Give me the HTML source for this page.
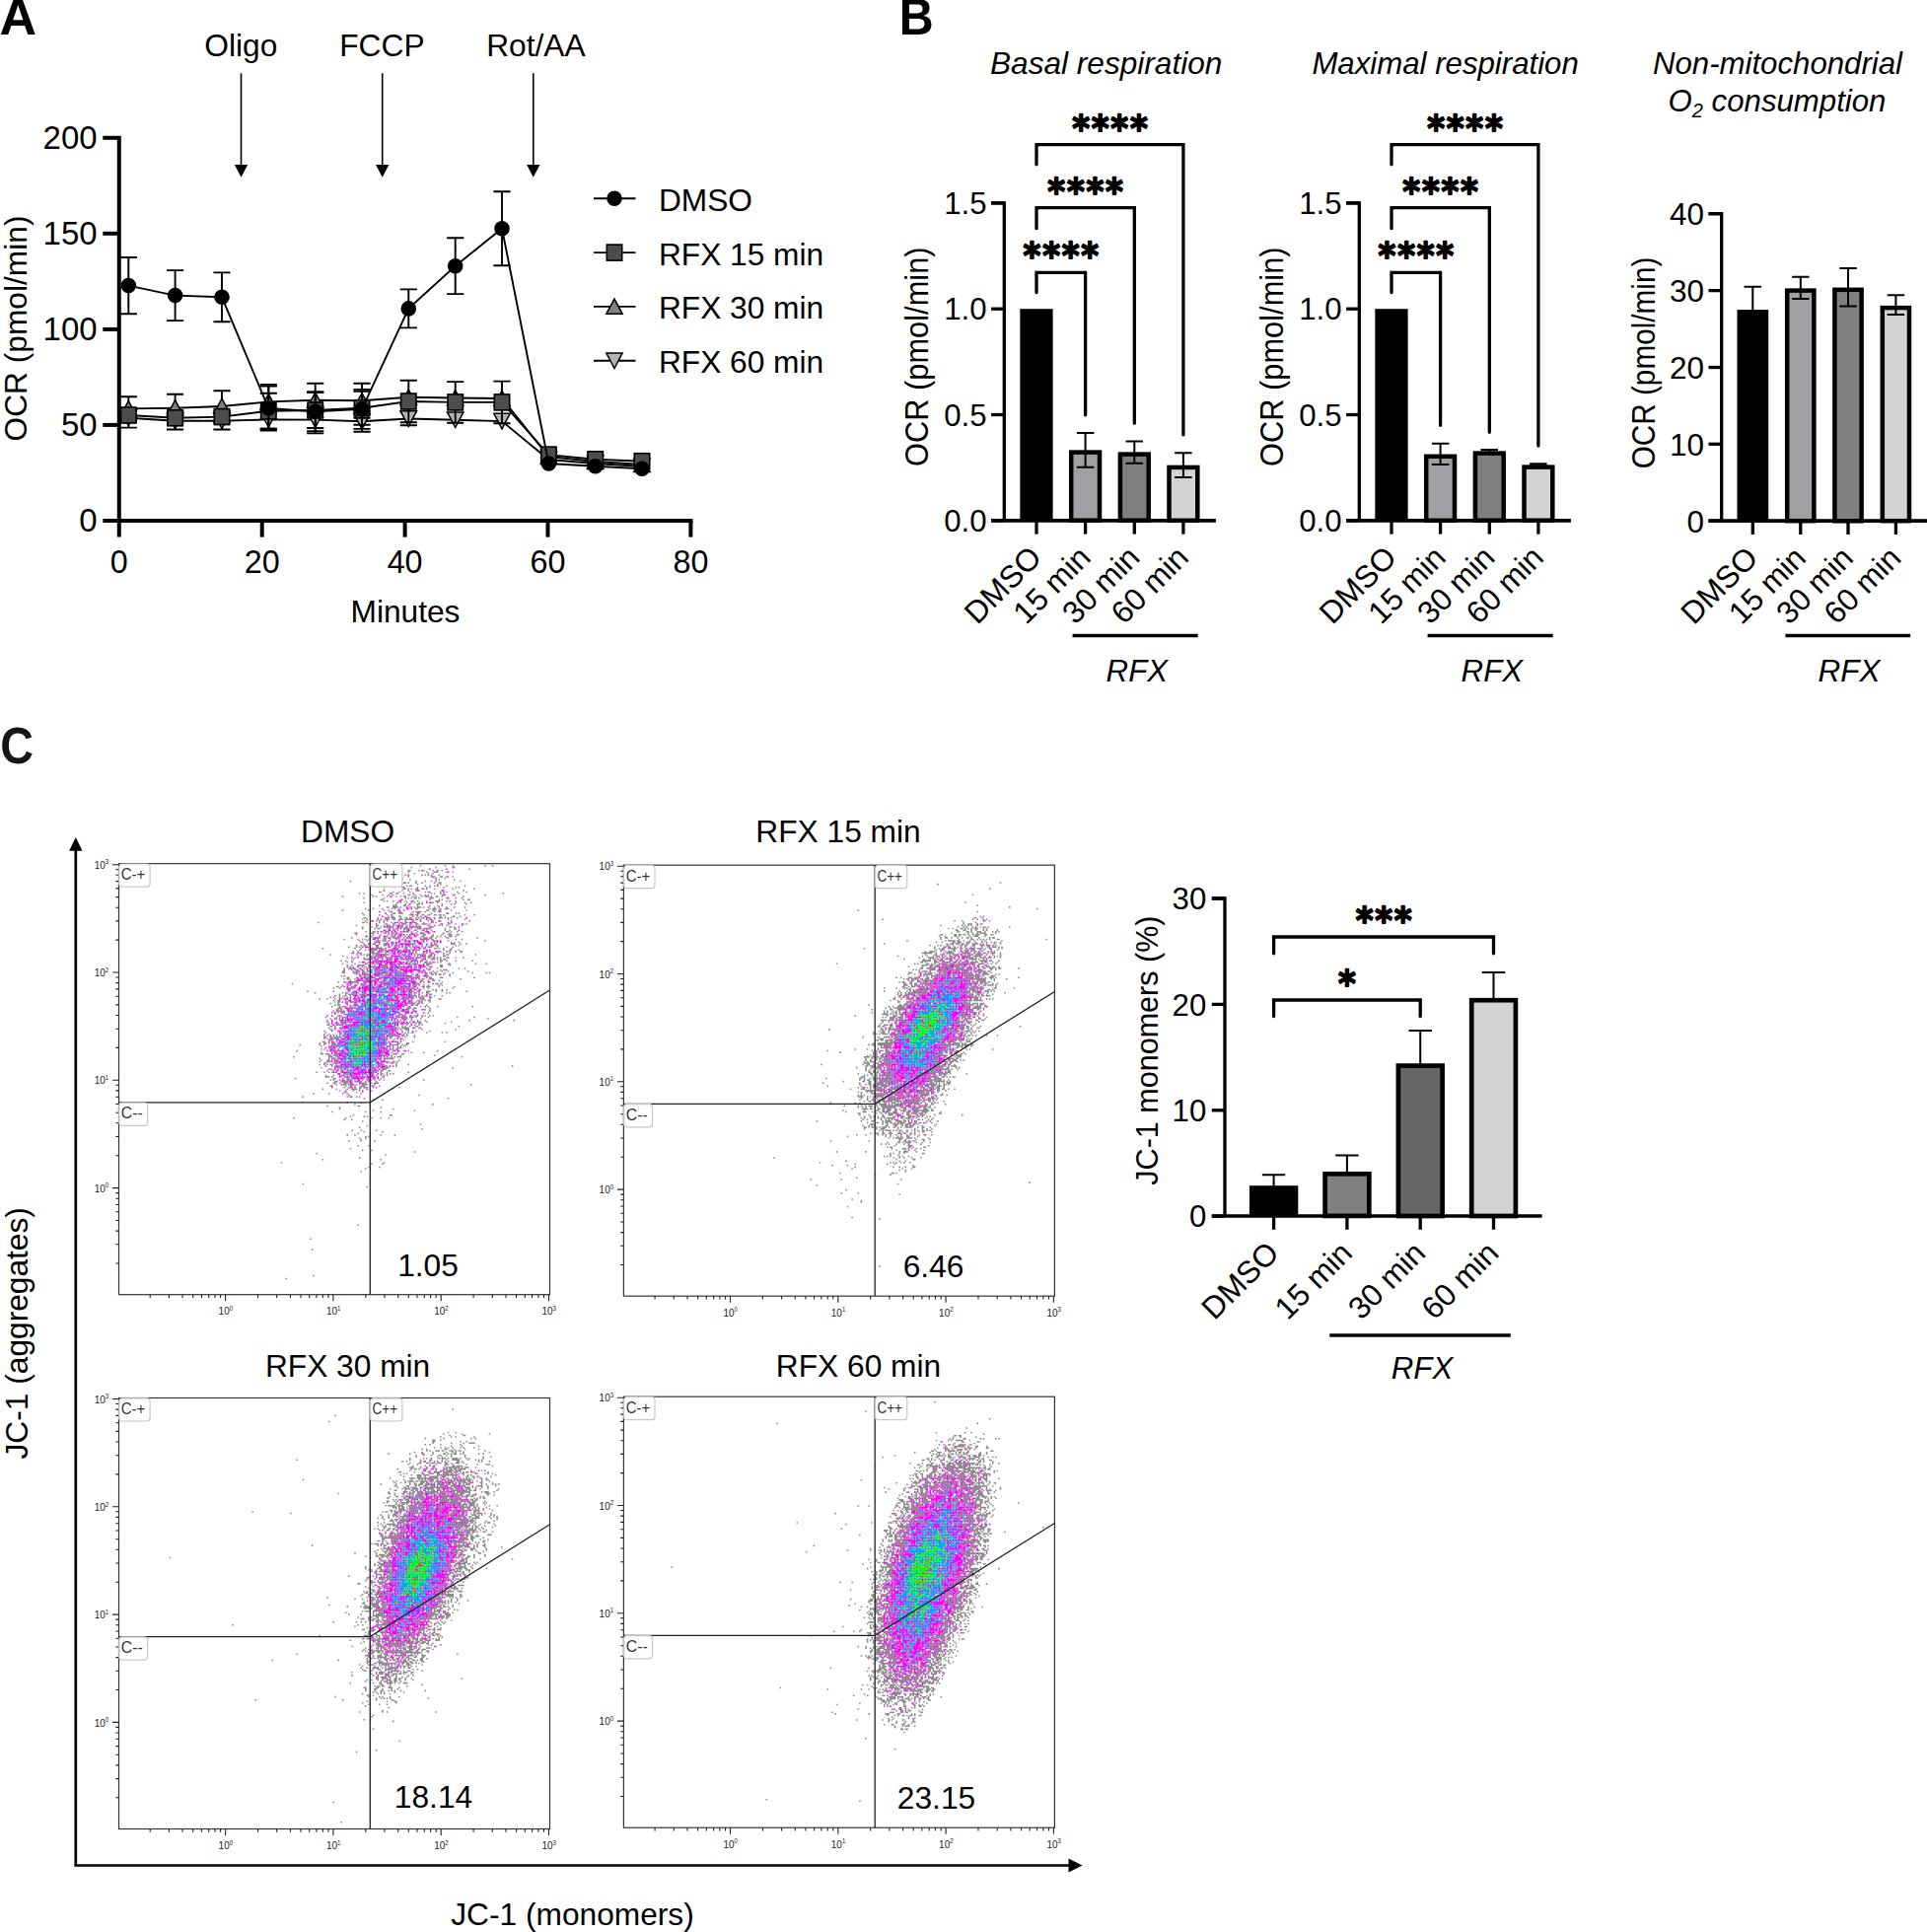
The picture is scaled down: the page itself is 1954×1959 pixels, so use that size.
<!DOCTYPE html>
<html><head><meta charset="utf-8"><title>Figure</title>
<style>
html,body{margin:0;padding:0;background:#fff}
svg{display:block}
text{font-family:"Liberation Sans",sans-serif}
</style></head>
<body>
<svg width="1954" height="1959" viewBox="0 0 1954 1959">
<rect width="1954" height="1959" fill="#fff"/>
<text transform="translate(-0.6,35.0) scale(1.0,1)" font-size="52" font-weight="bold">A</text>
<text transform="translate(911.8,35.0) scale(0.93,1)" font-size="52" font-weight="bold">B</text>
<text transform="translate(0.2,774.3) scale(0.9,1)" font-size="52" font-weight="bold" fill="#161616">C</text>
<text x="244.3" y="57.2" font-size="31.7" text-anchor="middle">Oligo</text>
<line x1="244.5" y1="74.3" x2="244.5" y2="168.0" stroke="#000" stroke-width="1.6"/>
<polygon points="237.8,167 251.2,167 244.5,179.8" fill="#000"/>
<text x="387.4" y="57.2" font-size="31.7" text-anchor="middle">FCCP</text>
<line x1="387.7" y1="74.3" x2="387.7" y2="168.0" stroke="#000" stroke-width="1.6"/>
<polygon points="381.0,167 394.4,167 387.7,179.8" fill="#000"/>
<text x="543.4" y="57.2" font-size="31.7" text-anchor="middle">Rot/AA</text>
<line x1="540.8" y1="74.3" x2="540.8" y2="168.0" stroke="#000" stroke-width="1.6"/>
<polygon points="534.1,167 547.5,167 540.8,179.8" fill="#000"/>
<path d="M121.7 414.0H138.9M130.3 414.0V433.6M121.7 433.6H138.9" stroke="#000" stroke-width="1.9" fill="none"/>
<path d="M169.0 418.1H186.2M177.6 418.1V435.5M169.0 435.5H186.2" stroke="#000" stroke-width="1.9" fill="none"/>
<path d="M216.4 418.1H233.6M225.0 418.1V435.5M216.4 435.5H233.6" stroke="#000" stroke-width="1.9" fill="none"/>
<path d="M263.7 416.1H280.9M272.3 416.1V434.7M263.7 434.7H280.9" stroke="#000" stroke-width="1.9" fill="none"/>
<path d="M311.1 411.8H328.3M319.7 411.8V439.4M311.1 439.4H328.3" stroke="#000" stroke-width="1.9" fill="none"/>
<path d="M358.4 416.8H375.6M367.0 416.8V437.8M358.4 437.8H375.6" stroke="#000" stroke-width="1.9" fill="none"/>
<path d="M405.7 417.8H422.9M414.3 417.8V431.2M405.7 431.2H422.9" stroke="#000" stroke-width="1.9" fill="none"/>
<path d="M130.3 423.8L177.6 426.8L225.0 426.8L272.3 425.4L319.7 425.6L367.0 427.3L414.3 424.5L461.7 425.7L509.0 427.1L556.4 466.0L603.7 470.0L651.0 473.0" stroke="#000" stroke-width="1.9" fill="none"/>
<polygon points="122.1,416.0 138.5,416.0 130.3,431.6" fill="#b3b3b3" stroke="#000" stroke-width="1.5"/>
<polygon points="169.4,419.0 185.8,419.0 177.6,434.6" fill="#b3b3b3" stroke="#000" stroke-width="1.5"/>
<polygon points="216.8,419.0 233.2,419.0 225.0,434.6" fill="#b3b3b3" stroke="#000" stroke-width="1.5"/>
<polygon points="264.1,417.6 280.5,417.6 272.3,433.2" fill="#b3b3b3" stroke="#000" stroke-width="1.5"/>
<polygon points="311.5,417.8 327.9,417.8 319.7,433.4" fill="#b3b3b3" stroke="#000" stroke-width="1.5"/>
<polygon points="358.8,419.5 375.2,419.5 367.0,435.1" fill="#b3b3b3" stroke="#000" stroke-width="1.5"/>
<polygon points="406.1,416.7 422.5,416.7 414.3,432.3" fill="#b3b3b3" stroke="#000" stroke-width="1.5"/>
<polygon points="453.5,417.9 469.9,417.9 461.7,433.5" fill="#b3b3b3" stroke="#000" stroke-width="1.5"/>
<polygon points="500.8,419.3 517.2,419.3 509.0,434.9" fill="#b3b3b3" stroke="#000" stroke-width="1.5"/>
<polygon points="548.2,458.2 564.6,458.2 556.4,473.8" fill="#b3b3b3" stroke="#000" stroke-width="1.5"/>
<polygon points="595.5,462.2 611.9,462.2 603.7,477.8" fill="#b3b3b3" stroke="#000" stroke-width="1.5"/>
<polygon points="642.8,465.2 659.2,465.2 651.0,480.8" fill="#b3b3b3" stroke="#000" stroke-width="1.5"/>
<path d="M121.7 402.3H138.9M130.3 402.3V426.5M121.7 426.5H138.9" stroke="#000" stroke-width="1.9" fill="none"/>
<path d="M169.0 399.7H186.2M177.6 399.7V427.7M169.0 427.7H186.2" stroke="#000" stroke-width="1.9" fill="none"/>
<path d="M216.4 396.2H233.6M225.0 396.2V427.8M216.4 427.8H233.6" stroke="#000" stroke-width="1.9" fill="none"/>
<path d="M263.7 389.9H280.9M272.3 389.9V424.9M263.7 424.9H280.9" stroke="#000" stroke-width="1.9" fill="none"/>
<path d="M311.1 388.7H328.3M319.7 388.7V422.9M311.1 422.9H328.3" stroke="#000" stroke-width="1.9" fill="none"/>
<path d="M358.4 388.7H375.6M367.0 388.7V423.9M358.4 423.9H375.6" stroke="#000" stroke-width="1.9" fill="none"/>
<path d="M130.3 414.4L177.6 413.7L225.0 412.0L272.3 407.4L319.7 405.8L367.0 406.3L414.3 402.8L461.7 403.5L509.0 404.0L556.4 463.0L603.7 468.0L651.0 471.0" stroke="#000" stroke-width="1.9" fill="none"/>
<polygon points="122.1,421.8 138.5,421.8 130.3,406.6" fill="#808080" stroke="#000" stroke-width="1.5"/>
<polygon points="169.4,421.1 185.8,421.1 177.6,405.9" fill="#808080" stroke="#000" stroke-width="1.5"/>
<polygon points="216.8,419.4 233.2,419.4 225.0,404.2" fill="#808080" stroke="#000" stroke-width="1.5"/>
<polygon points="264.1,414.8 280.5,414.8 272.3,399.6" fill="#808080" stroke="#000" stroke-width="1.5"/>
<polygon points="311.5,413.2 327.9,413.2 319.7,398.0" fill="#808080" stroke="#000" stroke-width="1.5"/>
<polygon points="358.8,413.7 375.2,413.7 367.0,398.5" fill="#808080" stroke="#000" stroke-width="1.5"/>
<polygon points="406.1,410.2 422.5,410.2 414.3,395.0" fill="#808080" stroke="#000" stroke-width="1.5"/>
<polygon points="453.5,410.9 469.9,410.9 461.7,395.7" fill="#808080" stroke="#000" stroke-width="1.5"/>
<polygon points="500.8,411.4 517.2,411.4 509.0,396.2" fill="#808080" stroke="#000" stroke-width="1.5"/>
<polygon points="548.2,470.4 564.6,470.4 556.4,455.2" fill="#808080" stroke="#000" stroke-width="1.5"/>
<polygon points="595.5,475.4 611.9,475.4 603.7,460.2" fill="#808080" stroke="#000" stroke-width="1.5"/>
<polygon points="642.8,478.4 659.2,478.4 651.0,463.2" fill="#808080" stroke="#000" stroke-width="1.5"/>
<path d="M121.7 415.0H138.9M130.3 415.0V427.0M121.7 427.0H138.9" stroke="#000" stroke-width="1.9" fill="none"/>
<path d="M169.0 417.8H186.2M177.6 417.8V429.8M169.0 429.8H186.2" stroke="#000" stroke-width="1.9" fill="none"/>
<path d="M216.4 416.6H233.6M225.0 416.6V428.6M216.4 428.6H233.6" stroke="#000" stroke-width="1.9" fill="none"/>
<path d="M263.7 398.8H280.9M272.3 398.8V434.8M263.7 434.8H280.9" stroke="#000" stroke-width="1.9" fill="none"/>
<path d="M311.1 398.0H328.3M319.7 398.0V434.0M311.1 434.0H328.3" stroke="#000" stroke-width="1.9" fill="none"/>
<path d="M358.4 396.7H375.6M367.0 396.7V430.7M358.4 430.7H375.6" stroke="#000" stroke-width="1.9" fill="none"/>
<path d="M405.7 385.7H422.9M414.3 385.7V428.3M405.7 428.3H422.9" stroke="#000" stroke-width="1.9" fill="none"/>
<path d="M453.1 387.1H470.3M461.7 387.1V428.7M453.1 428.7H470.3" stroke="#000" stroke-width="1.9" fill="none"/>
<path d="M500.4 386.6H517.6M509.0 386.6V429.2M500.4 429.2H517.6" stroke="#000" stroke-width="1.9" fill="none"/>
<path d="M130.3 421.0L177.6 423.8L225.0 422.6L272.3 416.8L319.7 416.0L367.0 413.7L414.3 407.0L461.7 407.9L509.0 407.9L556.4 461.1L603.7 465.8L651.0 467.7" stroke="#000" stroke-width="1.9" fill="none"/>
<rect x="122.6" y="413.0" width="15.4" height="16.0" fill="#4d4d4d" stroke="#000" stroke-width="1.6"/>
<rect x="169.9" y="415.8" width="15.4" height="16.0" fill="#4d4d4d" stroke="#000" stroke-width="1.6"/>
<rect x="217.3" y="414.6" width="15.4" height="16.0" fill="#4d4d4d" stroke="#000" stroke-width="1.6"/>
<rect x="264.6" y="408.8" width="15.4" height="16.0" fill="#4d4d4d" stroke="#000" stroke-width="1.6"/>
<rect x="312.0" y="408.0" width="15.4" height="16.0" fill="#4d4d4d" stroke="#000" stroke-width="1.6"/>
<rect x="359.3" y="405.7" width="15.4" height="16.0" fill="#4d4d4d" stroke="#000" stroke-width="1.6"/>
<rect x="406.6" y="399.0" width="15.4" height="16.0" fill="#4d4d4d" stroke="#000" stroke-width="1.6"/>
<rect x="454.0" y="399.9" width="15.4" height="16.0" fill="#4d4d4d" stroke="#000" stroke-width="1.6"/>
<rect x="501.3" y="399.9" width="15.4" height="16.0" fill="#4d4d4d" stroke="#000" stroke-width="1.6"/>
<rect x="548.7" y="453.1" width="15.4" height="16.0" fill="#4d4d4d" stroke="#000" stroke-width="1.6"/>
<rect x="596.0" y="457.8" width="15.4" height="16.0" fill="#4d4d4d" stroke="#000" stroke-width="1.6"/>
<rect x="643.3" y="459.7" width="15.4" height="16.0" fill="#4d4d4d" stroke="#000" stroke-width="1.6"/>
<path d="M121.7 261.0H138.9M130.3 261.0V318.2M121.7 318.2H138.9" stroke="#000" stroke-width="1.9" fill="none"/>
<path d="M169.0 274.1H186.2M177.6 274.1V325.1M169.0 325.1H186.2" stroke="#000" stroke-width="1.9" fill="none"/>
<path d="M216.4 276.4H233.6M225.0 276.4V326.2M216.4 326.2H233.6" stroke="#000" stroke-width="1.9" fill="none"/>
<path d="M263.7 391.5H280.9M272.3 391.5V436.5M263.7 436.5H280.9" stroke="#000" stroke-width="1.9" fill="none"/>
<path d="M311.1 397.2H328.3M319.7 397.2V437.2M311.1 437.2H328.3" stroke="#000" stroke-width="1.9" fill="none"/>
<path d="M358.4 394.9H375.6M367.0 394.9V434.9M358.4 434.9H375.6" stroke="#000" stroke-width="1.9" fill="none"/>
<path d="M405.7 293.4H422.9M414.3 293.4V332.4M405.7 332.4H422.9" stroke="#000" stroke-width="1.9" fill="none"/>
<path d="M453.1 241.3H470.3M461.7 241.3V298.1M453.1 298.1H470.3" stroke="#000" stroke-width="1.9" fill="none"/>
<path d="M500.4 194.2H517.6M509.0 194.2V269.2M500.4 269.2H517.6" stroke="#000" stroke-width="1.9" fill="none"/>
<path d="M130.3 289.6L177.6 299.6L225.0 301.3L272.3 414.0L319.7 417.2L367.0 414.9L414.3 312.9L461.7 269.7L509.0 231.7L556.4 470.0L603.7 472.8L651.0 475.2" stroke="#000" stroke-width="1.9" fill="none"/>
<circle cx="130.3" cy="289.6" r="7.8" fill="#000"/>
<circle cx="177.6" cy="299.6" r="7.8" fill="#000"/>
<circle cx="225.0" cy="301.3" r="7.8" fill="#000"/>
<circle cx="272.3" cy="414.0" r="7.8" fill="#000"/>
<circle cx="319.7" cy="417.2" r="7.8" fill="#000"/>
<circle cx="367.0" cy="414.9" r="7.8" fill="#000"/>
<circle cx="414.3" cy="312.9" r="7.8" fill="#000"/>
<circle cx="461.7" cy="269.7" r="7.8" fill="#000"/>
<circle cx="509.0" cy="231.7" r="7.8" fill="#000"/>
<circle cx="556.4" cy="470.0" r="7.8" fill="#000"/>
<circle cx="603.7" cy="472.8" r="7.8" fill="#000"/>
<circle cx="651.0" cy="475.2" r="7.8" fill="#000"/>
<path d="M104.3 139.8H120.8V544.6" stroke="#000" stroke-width="4" fill="none" stroke-linejoin="miter"/>
<path d="M104.3 528.0H702.4" stroke="#000" stroke-width="4" fill="none"/>
<line x1="104.3" y1="430.9" x2="120.8" y2="430.9" stroke="#000" stroke-width="4"/>
<line x1="104.3" y1="333.9" x2="120.8" y2="333.9" stroke="#000" stroke-width="4"/>
<line x1="104.3" y1="236.8" x2="120.8" y2="236.8" stroke="#000" stroke-width="4"/>
<line x1="265.7" y1="528.0" x2="265.7" y2="544.6" stroke="#000" stroke-width="4"/>
<line x1="410.6" y1="528.0" x2="410.6" y2="544.6" stroke="#000" stroke-width="4"/>
<line x1="555.5" y1="528.0" x2="555.5" y2="544.6" stroke="#000" stroke-width="4"/>
<line x1="700.4" y1="528.0" x2="700.4" y2="544.6" stroke="#000" stroke-width="4"/>
<text x="98.6" y="538.8" font-size="33" text-anchor="end">0</text>
<text x="98.6" y="441.8" font-size="33" text-anchor="end">50</text>
<text x="98.6" y="344.7" font-size="33" text-anchor="end">100</text>
<text x="98.6" y="247.6" font-size="33" text-anchor="end">150</text>
<text x="98.6" y="150.6" font-size="33" text-anchor="end">200</text>
<text x="120.8" y="580.6" font-size="32.3" text-anchor="middle">0</text>
<text x="265.7" y="580.6" font-size="32.3" text-anchor="middle">20</text>
<text x="410.6" y="580.6" font-size="32.3" text-anchor="middle">40</text>
<text x="555.5" y="580.6" font-size="32.3" text-anchor="middle">60</text>
<text x="700.4" y="580.6" font-size="32.3" text-anchor="middle">80</text>
<text x="411.0" y="630.5" font-size="31.7" text-anchor="middle">Minutes</text>
<text transform="translate(27.0,333.0) rotate(-90)" font-size="31.7" text-anchor="middle">OCR (pmol/min)</text>
<line x1="602.0" y1="201.3" x2="644.5" y2="201.3" stroke="#000" stroke-width="1.9"/>
<circle cx="623.0" cy="201.3" r="7.8" fill="#000"/>
<text x="667.9" y="213.7" font-size="31.7">DMSO</text>
<line x1="602.0" y1="256.1" x2="644.5" y2="256.1" stroke="#000" stroke-width="1.9"/>
<rect x="615.3" y="248.1" width="15.4" height="16.0" fill="#4d4d4d" stroke="#000" stroke-width="1.6"/>
<text x="667.9" y="268.5" font-size="31.7">RFX 15 min</text>
<line x1="602.0" y1="310.9" x2="644.5" y2="310.9" stroke="#000" stroke-width="1.9"/>
<polygon points="614.8,318.3 631.2,318.3 623.0,303.1" fill="#808080" stroke="#000" stroke-width="1.5"/>
<text x="667.9" y="323.3" font-size="31.7">RFX 30 min</text>
<line x1="602.0" y1="365.7" x2="644.5" y2="365.7" stroke="#000" stroke-width="1.9"/>
<polygon points="614.8,357.9 631.2,357.9 623.0,373.5" fill="#b3b3b3" stroke="#000" stroke-width="1.5"/>
<text x="667.9" y="378.1" font-size="31.7">RFX 60 min</text>
<rect x="1034.3" y="313.2" width="33.3" height="214.6" fill="#000"/>
<rect x="1086.2" y="458.6" width="28.8" height="69.1" fill="#a0a0a4" stroke="#000" stroke-width="4.5"/>
<rect x="1135.9" y="460.6" width="28.8" height="67.1" fill="#808080" stroke="#000" stroke-width="4.5"/>
<rect x="1185.5" y="473.9" width="28.8" height="53.9" fill="#d3d3d3" stroke="#000" stroke-width="4.5"/>
<path d="M1091.9 438.9H1109.4M1100.6 438.9V473.7M1091.9 473.7H1109.4" stroke="#000" stroke-width="2.0" fill="none"/>
<path d="M1141.5 447.6H1159.0M1150.3 447.6V469.8M1141.5 469.8H1159.0" stroke="#000" stroke-width="2.0" fill="none"/>
<path d="M1191.1 459.3H1208.6M1199.9 459.3V483.9M1191.1 483.9H1208.6" stroke="#000" stroke-width="2.0" fill="none"/>
<path d="M1005.1 205.9H1018.3V527.8" stroke="#000" stroke-width="3.3" fill="none"/>
<path d="M1005.1 527.8H1232.9" stroke="#000" stroke-width="3.6999999999999997" fill="none"/>
<line x1="1005.1" y1="527.8" x2="1018.3" y2="527.8" stroke="#000" stroke-width="3.3"/>
<text x="1000.6" y="539.0" font-size="31.2" text-anchor="end">0.0</text>
<line x1="1005.1" y1="420.5" x2="1018.3" y2="420.5" stroke="#000" stroke-width="3.3"/>
<text x="1000.6" y="431.7" font-size="31.2" text-anchor="end">0.5</text>
<line x1="1005.1" y1="313.2" x2="1018.3" y2="313.2" stroke="#000" stroke-width="3.3"/>
<text x="1000.6" y="324.4" font-size="31.2" text-anchor="end">1.0</text>
<line x1="1005.1" y1="205.9" x2="1018.3" y2="205.9" stroke="#000" stroke-width="3.3"/>
<text x="1000.6" y="217.1" font-size="31.2" text-anchor="end">1.5</text>
<line x1="1051.0" y1="527.8" x2="1051.0" y2="541.6" stroke="#000" stroke-width="3.3"/>
<line x1="1100.6" y1="527.8" x2="1100.6" y2="541.6" stroke="#000" stroke-width="3.3"/>
<line x1="1150.3" y1="527.8" x2="1150.3" y2="541.6" stroke="#000" stroke-width="3.3"/>
<line x1="1199.9" y1="527.8" x2="1199.9" y2="541.6" stroke="#000" stroke-width="3.3"/>
<text transform="translate(941.0,361.7) rotate(-90) scale(0.948,1)" font-size="32.5" text-anchor="middle">OCR (pmol/min)</text>
<text transform="translate(1058.0,567.2) rotate(-45)" font-size="31.6" text-anchor="end">DMSO</text>
<text transform="translate(1107.6,567.2) rotate(-45)" font-size="31.6" text-anchor="end">15 min</text>
<text transform="translate(1157.3,567.2) rotate(-45)" font-size="31.6" text-anchor="end">30 min</text>
<text transform="translate(1206.9,567.2) rotate(-45)" font-size="31.6" text-anchor="end">60 min</text>
<line x1="1087.6" y1="644.5" x2="1214.7" y2="644.5" stroke="#000" stroke-width="3.4"/>
<text x="1152.8" y="691.0" font-size="31.2" text-anchor="middle" font-style="italic">RFX</text>
<path d="M1051.0 166.8V146.6H1199.9V440.9" stroke="#000" stroke-width="3.3" fill="none" stroke-linecap="round" stroke-linejoin="miter"/>
<path d="M1051.0 231.7V210.6H1150.3V429.2" stroke="#000" stroke-width="3.3" fill="none" stroke-linecap="round" stroke-linejoin="miter"/>
<path d="M1051.0 296.5V276.3H1100.6V420.8" stroke="#000" stroke-width="3.3" fill="none" stroke-linecap="round" stroke-linejoin="miter"/>
<text transform="translate(1126.3,142.6) scale(1,1.1)" font-size="34" text-anchor="middle" font-weight="bold" style="font-family:'DejaVu Sans',sans-serif" stroke="#000" stroke-width="1.6" stroke-linejoin="round" letter-spacing="1.8">****</text>
<text transform="translate(1101.5,207.0) scale(1,1.1)" font-size="34" text-anchor="middle" font-weight="bold" style="font-family:'DejaVu Sans',sans-serif" stroke="#000" stroke-width="1.6" stroke-linejoin="round" letter-spacing="1.8">****</text>
<text transform="translate(1076.7,272.1) scale(1,1.1)" font-size="34" text-anchor="middle" font-weight="bold" style="font-family:'DejaVu Sans',sans-serif" stroke="#000" stroke-width="1.6" stroke-linejoin="round" letter-spacing="1.8">****</text>
<rect x="1394.3" y="313.2" width="33.3" height="214.6" fill="#000"/>
<rect x="1446.2" y="462.8" width="28.8" height="65.0" fill="#a0a0a4" stroke="#000" stroke-width="4.5"/>
<rect x="1495.9" y="459.6" width="28.8" height="68.1" fill="#808080" stroke="#000" stroke-width="4.5"/>
<rect x="1545.5" y="473.6" width="28.8" height="54.1" fill="#d3d3d3" stroke="#000" stroke-width="4.5"/>
<path d="M1451.9 449.7H1469.4M1460.6 449.7V471.0M1451.9 471.0H1469.4" stroke="#000" stroke-width="2.0" fill="none"/>
<path d="M1501.5 456.0H1519.0M1510.3 456.0V458.8M1501.5 458.8H1519.0" stroke="#000" stroke-width="2.0" fill="none"/>
<path d="M1551.1 470.2H1568.6M1559.9 470.2V472.6M1551.1 472.6H1568.6" stroke="#000" stroke-width="2.0" fill="none"/>
<path d="M1365.1 205.9H1378.3V527.8" stroke="#000" stroke-width="3.3" fill="none"/>
<path d="M1365.1 527.8H1592.9" stroke="#000" stroke-width="3.6999999999999997" fill="none"/>
<line x1="1365.1" y1="527.8" x2="1378.3" y2="527.8" stroke="#000" stroke-width="3.3"/>
<text x="1360.6" y="539.0" font-size="31.2" text-anchor="end">0.0</text>
<line x1="1365.1" y1="420.5" x2="1378.3" y2="420.5" stroke="#000" stroke-width="3.3"/>
<text x="1360.6" y="431.7" font-size="31.2" text-anchor="end">0.5</text>
<line x1="1365.1" y1="313.2" x2="1378.3" y2="313.2" stroke="#000" stroke-width="3.3"/>
<text x="1360.6" y="324.4" font-size="31.2" text-anchor="end">1.0</text>
<line x1="1365.1" y1="205.9" x2="1378.3" y2="205.9" stroke="#000" stroke-width="3.3"/>
<text x="1360.6" y="217.1" font-size="31.2" text-anchor="end">1.5</text>
<line x1="1411.0" y1="527.8" x2="1411.0" y2="541.6" stroke="#000" stroke-width="3.3"/>
<line x1="1460.6" y1="527.8" x2="1460.6" y2="541.6" stroke="#000" stroke-width="3.3"/>
<line x1="1510.3" y1="527.8" x2="1510.3" y2="541.6" stroke="#000" stroke-width="3.3"/>
<line x1="1559.9" y1="527.8" x2="1559.9" y2="541.6" stroke="#000" stroke-width="3.3"/>
<text transform="translate(1301.0,361.7) rotate(-90) scale(0.948,1)" font-size="32.5" text-anchor="middle">OCR (pmol/min)</text>
<text transform="translate(1418.0,567.2) rotate(-45)" font-size="31.6" text-anchor="end">DMSO</text>
<text transform="translate(1467.6,567.2) rotate(-45)" font-size="31.6" text-anchor="end">15 min</text>
<text transform="translate(1517.3,567.2) rotate(-45)" font-size="31.6" text-anchor="end">30 min</text>
<text transform="translate(1566.9,567.2) rotate(-45)" font-size="31.6" text-anchor="end">60 min</text>
<line x1="1447.6" y1="644.5" x2="1574.7" y2="644.5" stroke="#000" stroke-width="3.4"/>
<text x="1512.8" y="691.0" font-size="31.2" text-anchor="middle" font-style="italic">RFX</text>
<path d="M1411.0 166.8V146.6H1559.9V452.0" stroke="#000" stroke-width="3.3" fill="none" stroke-linecap="round" stroke-linejoin="miter"/>
<path d="M1411.0 231.7V210.6H1510.3V438.3" stroke="#000" stroke-width="3.3" fill="none" stroke-linecap="round" stroke-linejoin="miter"/>
<path d="M1411.0 296.5V276.3H1460.6V431.3" stroke="#000" stroke-width="3.3" fill="none" stroke-linecap="round" stroke-linejoin="miter"/>
<text transform="translate(1486.3,142.6) scale(1,1.1)" font-size="34" text-anchor="middle" font-weight="bold" style="font-family:'DejaVu Sans',sans-serif" stroke="#000" stroke-width="1.6" stroke-linejoin="round" letter-spacing="1.8">****</text>
<text transform="translate(1461.5,207.0) scale(1,1.1)" font-size="34" text-anchor="middle" font-weight="bold" style="font-family:'DejaVu Sans',sans-serif" stroke="#000" stroke-width="1.6" stroke-linejoin="round" letter-spacing="1.8">****</text>
<text transform="translate(1436.7,272.1) scale(1,1.1)" font-size="34" text-anchor="middle" font-weight="bold" style="font-family:'DejaVu Sans',sans-serif" stroke="#000" stroke-width="1.6" stroke-linejoin="round" letter-spacing="1.8">****</text>
<text x="1121.7" y="75.2" font-size="31.6" text-anchor="middle" font-style="italic">Basal respiration</text>
<text x="1465.6" y="75.2" font-size="31.2" text-anchor="middle" font-style="italic">Maximal respiration</text>
<text x="1802.5" y="75.2" font-size="31.2" text-anchor="middle" font-style="italic">Non-mitochondrial</text>
<text x="1802" y="113.3" font-size="31.2" text-anchor="middle" font-style="italic">O<tspan font-size="20" dy="6">2</tspan><tspan dy="-6"> consumption</tspan></text>
<rect x="1761.5" y="314.1" width="31.7" height="214.1" fill="#000"/>
<rect x="1812.2" y="294.6" width="27.2" height="233.6" fill="#a0a0a4" stroke="#000" stroke-width="4.5"/>
<rect x="1860.4" y="293.8" width="27.2" height="234.5" fill="#808080" stroke="#000" stroke-width="4.5"/>
<rect x="1908.8" y="312.1" width="27.2" height="216.1" fill="#d3d3d3" stroke="#000" stroke-width="4.5"/>
<path d="M1768.5 290.8H1786.0M1777.3 290.8V337.0M1768.5 337.0H1786.0" stroke="#000" stroke-width="2.0" fill="none"/>
<path d="M1817.0 280.7H1834.5M1825.8 280.7V303.1M1817.0 303.1H1834.5" stroke="#000" stroke-width="2.0" fill="none"/>
<path d="M1865.2 272.1H1882.8M1874.0 272.1V310.6M1865.2 310.6H1882.8" stroke="#000" stroke-width="2.0" fill="none"/>
<path d="M1913.7 299.2H1931.2M1922.4 299.2V319.0M1913.7 319.0H1931.2" stroke="#000" stroke-width="2.0" fill="none"/>
<path d="M1732.5 216.7H1745.7V528.2" stroke="#000" stroke-width="3.3" fill="none"/>
<path d="M1732.5 528.2H1960.0" stroke="#000" stroke-width="3.6999999999999997" fill="none"/>
<line x1="1732.5" y1="528.2" x2="1745.7" y2="528.2" stroke="#000" stroke-width="3.3"/>
<text x="1728.0" y="539.5" font-size="31.5" text-anchor="end">0</text>
<line x1="1732.5" y1="450.3" x2="1745.7" y2="450.3" stroke="#000" stroke-width="3.3"/>
<text x="1728.0" y="461.6" font-size="31.5" text-anchor="end">10</text>
<line x1="1732.5" y1="372.5" x2="1745.7" y2="372.5" stroke="#000" stroke-width="3.3"/>
<text x="1728.0" y="383.8" font-size="31.5" text-anchor="end">20</text>
<line x1="1732.5" y1="294.6" x2="1745.7" y2="294.6" stroke="#000" stroke-width="3.3"/>
<text x="1728.0" y="305.9" font-size="31.5" text-anchor="end">30</text>
<line x1="1732.5" y1="216.7" x2="1745.7" y2="216.7" stroke="#000" stroke-width="3.3"/>
<text x="1728.0" y="228.0" font-size="31.5" text-anchor="end">40</text>
<line x1="1777.3" y1="528.2" x2="1777.3" y2="542.0" stroke="#000" stroke-width="3.3"/>
<line x1="1825.8" y1="528.2" x2="1825.8" y2="542.0" stroke="#000" stroke-width="3.3"/>
<line x1="1874.0" y1="528.2" x2="1874.0" y2="542.0" stroke="#000" stroke-width="3.3"/>
<line x1="1922.4" y1="528.2" x2="1922.4" y2="542.0" stroke="#000" stroke-width="3.3"/>
<text transform="translate(1678.2,368.0) rotate(-90) scale(0.915,1)" font-size="32.5" text-anchor="middle">OCR (pmol/min)</text>
<text transform="translate(1784.3,567.6) rotate(-45)" font-size="31.5" text-anchor="end">DMSO</text>
<text transform="translate(1832.8,567.6) rotate(-45)" font-size="31.5" text-anchor="end">15 min</text>
<text transform="translate(1881.0,567.6) rotate(-45)" font-size="31.5" text-anchor="end">30 min</text>
<text transform="translate(1929.4,567.6) rotate(-45)" font-size="31.5" text-anchor="end">60 min</text>
<line x1="1810.4" y1="644.5" x2="1937.2" y2="644.5" stroke="#000" stroke-width="3.4"/>
<text x="1875.0" y="691.0" font-size="31.5" text-anchor="middle" font-style="italic">RFX</text>
<rect x="1266.9" y="1202.2" width="49.4" height="30.8" fill="#000"/>
<rect x="1343.6" y="1190.3" width="44.7" height="42.6" fill="#808080" stroke="#000" stroke-width="4.7"/>
<rect x="1417.9" y="1080.6" width="44.7" height="152.4" fill="#666666" stroke="#000" stroke-width="4.7"/>
<rect x="1492.2" y="1014.2" width="44.7" height="218.8" fill="#d3d3d3" stroke="#000" stroke-width="4.7"/>
<path d="M1279.9 1191.3H1303.2M1291.6 1191.3V1204.2" stroke="#000" stroke-width="2.0" fill="none"/>
<path d="M1354.2 1171.5H1377.6M1365.9 1171.5V1190.0" stroke="#000" stroke-width="2.0" fill="none"/>
<path d="M1428.5 1045.0H1451.9M1440.2 1045.0V1080.3" stroke="#000" stroke-width="2.0" fill="none"/>
<path d="M1502.8 986.0H1526.2M1514.5 986.0V1013.9" stroke="#000" stroke-width="2.0" fill="none"/>
<path d="M1228.8 911.0H1242.0V1233.0" stroke="#000" stroke-width="3.3" fill="none"/>
<path d="M1228.8 1233.0H1563.6" stroke="#000" stroke-width="3.6999999999999997" fill="none"/>
<line x1="1228.8" y1="1233.2" x2="1242.0" y2="1233.2" stroke="#000" stroke-width="3.3"/>
<text x="1223.3" y="1244.4" font-size="31.2" text-anchor="end">0</text>
<line x1="1228.8" y1="1125.8" x2="1242.0" y2="1125.8" stroke="#000" stroke-width="3.3"/>
<text x="1223.3" y="1137.0" font-size="31.2" text-anchor="end">10</text>
<line x1="1228.8" y1="1018.4" x2="1242.0" y2="1018.4" stroke="#000" stroke-width="3.3"/>
<text x="1223.3" y="1029.6" font-size="31.2" text-anchor="end">20</text>
<line x1="1228.8" y1="911.0" x2="1242.0" y2="911.0" stroke="#000" stroke-width="3.3"/>
<text x="1223.3" y="922.2" font-size="31.2" text-anchor="end">30</text>
<line x1="1291.6" y1="1233.0" x2="1291.6" y2="1246.8" stroke="#000" stroke-width="3.3"/>
<line x1="1365.9" y1="1233.0" x2="1365.9" y2="1246.8" stroke="#000" stroke-width="3.3"/>
<line x1="1440.2" y1="1233.0" x2="1440.2" y2="1246.8" stroke="#000" stroke-width="3.3"/>
<line x1="1514.5" y1="1233.0" x2="1514.5" y2="1246.8" stroke="#000" stroke-width="3.3"/>
<text transform="translate(1174.0,1065.1) rotate(-90) scale(0.955,1)" font-size="32" text-anchor="middle">JC-1 monomers (%)</text>
<text transform="translate(1298.6,1272.4) rotate(-45)" font-size="31.6" text-anchor="end">DMSO</text>
<text transform="translate(1372.9,1272.4) rotate(-45)" font-size="31.6" text-anchor="end">15 min</text>
<text transform="translate(1447.2,1272.4) rotate(-45)" font-size="31.6" text-anchor="end">30 min</text>
<text transform="translate(1521.5,1272.4) rotate(-45)" font-size="31.6" text-anchor="end">60 min</text>
<line x1="1348.3" y1="1354.0" x2="1531.8" y2="1354.0" stroke="#000" stroke-width="3.4"/>
<text x="1442.0" y="1397.5" font-size="31.2" text-anchor="middle" font-style="italic">RFX</text>
<path d="M1291.6 966.8V950.0H1514.5V966.8" stroke="#000" stroke-width="3.3" fill="none" stroke-linecap="round" stroke-linejoin="miter"/>
<path d="M1291.6 1030.5V1014.0H1440.2V1030.5" stroke="#000" stroke-width="3.3" fill="none" stroke-linecap="round" stroke-linejoin="miter"/>
<text transform="translate(1404.0,946.3) scale(1,1.1)" font-size="34" text-anchor="middle" font-weight="bold" style="font-family:'DejaVu Sans',sans-serif" stroke="#000" stroke-width="1.6" stroke-linejoin="round" letter-spacing="1.8">***</text>
<text transform="translate(1366.8,1010.1) scale(1,1.1)" font-size="34" text-anchor="middle" font-weight="bold" style="font-family:'DejaVu Sans',sans-serif" stroke="#000" stroke-width="1.6" stroke-linejoin="round" letter-spacing="1.8">*</text>
<line x1="76.8" y1="1891.5" x2="76.8" y2="860.0" stroke="#000" stroke-width="2.7"/>
<polygon points="70.1,862.8 83.5,862.8 76.8,849" fill="#000"/>
<line x1="75.5" y1="1891.5" x2="1085.0" y2="1891.5" stroke="#000" stroke-width="2.7"/>
<polygon points="1083.5,1884.6 1083.5,1898.4 1097.6,1891.5" fill="#000"/>
<text transform="translate(28.4,1351.8) rotate(-90)" font-size="31.7" text-anchor="middle">JC-1 (aggregates)</text>
<text x="580.5" y="1952.0" font-size="31.7" text-anchor="middle">JC-1 (monomers)</text>
<g transform="translate(120.5,876.5) scale(1.55)" stroke-width="1" fill="none">
<path d="M197 1h1M213 1h1M218 1h1M239 1h1M244 1h1M191 2h1M207 2h1M218 2h2M229 3h1M182 4h1M189 4h2M196 4h1M199 4h1M205 4h1M211 4h1M189 5h1M201 5h1M206 5h3M214 5h1M218 5h1M184 6h1M193 6h1M202 6h1M205 6h1M187 7h1M198 7h1M200 7h1M202 7h1M204 7h1M209 7h1M171 8h1M184 8h1M189 8h1M204 8h1M206 8h1M210 8h2M214 8h2M218 8h1M176 9h1M185 9h1M213 9h1M177 10h1M179 10h1M190 10h1M207 10h1M209 10h1M219 10h1M151 11h1M181 11h1M194 11h1M200 11h1M204 11h1M207 11h1M223 11h1M186 12h2M189 12h1M194 12h1M198 12h1M206 12h1M209 12h2M195 13h1M208 13h1M210 13h1M169 14h2M175 14h1M188 14h1M190 14h2M200 14h1M203 14h1M206 14h1M214 14h1M226 14h1M173 15h1M180 15h1M185 15h1M195 15h1M201 15h1M203 15h1M212 15h1M220 15h1M222 15h1M186 16h2M189 16h1M191 16h1M194 16h2M198 16h2M201 16h1M206 16h1M218 16h1M232 16h1M185 17h1M189 17h1M194 17h1M196 17h1M212 17h1M225 17h1M170 18h2M179 18h1M183 18h1M190 18h1M200 18h1M203 18h1M210 18h1M214 18h1M221 18h1M227 18h1M157 19h1M160 19h1M177 19h1M181 19h2M186 19h1M204 19h1M206 19h1M210 19h1M212 19h1M222 19h1M251 19h1M165 20h1M172 20h1M176 20h1M179 20h1M189 20h2M193 20h1M197 20h1M200 20h1M202 20h1M211 20h3M218 20h1M239 20h1M146 21h1M166 21h1M168 21h1M175 21h1M177 21h1M181 21h1M184 21h1M186 21h1M192 21h1M194 21h1M198 21h1M200 21h1M202 21h1M204 21h1M207 21h2M211 21h1M225 21h1M160 22h1M173 22h1M187 22h1M189 22h1M191 22h1M193 22h2M196 22h1M203 22h3M214 22h1M220 22h1M224 22h1M171 23h2M184 23h2M203 23h1M209 23h1M211 23h1M225 23h1M228 23h2M164 24h1M173 24h1M175 24h1M179 24h1M187 24h1M191 24h1M195 24h1M201 24h1M207 24h2M214 24h1M220 24h1M160 25h1M184 25h1M188 25h1M191 25h1M193 25h1M196 25h1M198 25h1M205 25h1M208 25h1M220 25h1M226 25h1M230 25h1M181 26h1M187 26h1M195 26h2M198 26h1M211 26h1M217 26h1M219 26h1M227 26h1M170 27h1M179 27h3M186 27h2M189 27h1M195 27h1M203 27h1M208 27h1M211 27h1M175 28h2M179 28h4M184 28h1M190 28h2M193 28h1M195 28h3M199 28h1M206 28h1M214 28h1M226 28h1M161 29h1M166 29h1M172 29h1M178 29h1M180 29h1M183 29h1M194 29h2M203 29h1M205 29h3M210 29h1M213 29h3M146 30h1M173 30h1M176 30h1M182 30h1M201 30h2M205 30h2M209 30h2M217 30h1M227 30h1M177 31h1M184 31h1M192 31h1M194 31h4M200 31h1M206 31h1M210 31h1M159 32h1M179 32h2M183 32h3M191 32h1M196 32h1M204 32h1M214 32h2M220 32h1M222 32h1M160 33h1M170 33h1M175 33h1M190 33h2M194 33h2M198 33h2M202 33h2M207 33h1M209 33h2M212 33h1M226 33h1M232 33h1M176 34h1M178 34h2M183 34h2M192 34h1M195 34h1M197 34h1M201 34h1M210 34h1M213 34h1M218 34h2M223 34h1M160 35h2M169 35h1M175 35h2M178 35h3M184 35h1M188 35h1M190 35h2M194 35h1M196 35h1M198 35h2M202 35h2M209 35h3M213 35h1M215 35h1M217 35h1M221 35h1M159 36h1M162 36h1M174 36h1M176 36h1M179 36h2M183 36h3M187 36h4M192 36h1M194 36h1M197 36h1M203 36h1M206 36h1M215 36h1M226 36h1M161 37h1M166 37h1M168 37h1M170 37h1M173 37h1M175 37h1M183 37h1M187 37h1M202 37h1M204 37h2M210 37h1M217 37h1M229 37h1M130 38h1M159 38h2M162 38h1M170 38h1M173 38h1M178 38h1M181 38h1M185 38h1M187 38h1M192 38h1M194 38h1M199 38h1M204 38h2M207 38h1M174 39h2M179 39h2M187 39h1M190 39h2M194 39h2M198 39h4M203 39h1M210 39h1M215 39h2M220 39h1M224 39h2M227 39h1M155 40h1M168 40h2M173 40h1M176 40h2M181 40h1M183 40h3M188 40h1M190 40h1M192 40h1M194 40h1M196 40h1M209 40h1M211 40h1M214 40h1M224 40h1M159 41h1M165 41h1M168 41h1M171 41h1M173 41h2M176 41h4M184 41h2M187 41h2M192 41h2M196 41h1M205 41h1M216 41h2M219 41h1M159 42h1M167 42h1M169 42h2M176 42h2M179 42h1M181 42h1M186 42h3M191 42h1M195 42h3M199 42h5M213 42h1M219 42h2M164 43h1M174 43h1M179 43h1M182 43h1M186 43h1M188 43h1M190 43h1M193 43h1M198 43h1M201 43h1M204 43h1M213 43h1M216 43h1M161 44h1M166 44h2M172 44h1M175 44h2M181 44h1M184 44h2M187 44h3M191 44h1M195 44h1M200 44h1M205 44h1M214 44h2M217 44h1M221 44h1M224 44h1M154 45h1M164 45h3M169 45h1M173 45h2M178 45h1M182 45h1M194 45h1M199 45h1M203 45h1M216 45h1M155 46h1M166 46h1M171 46h1M176 46h1M178 46h1M180 46h2M185 46h1M188 46h1M191 46h2M199 46h2M205 46h1M211 46h1M215 46h3M221 46h2M161 47h2M165 47h1M174 47h2M178 47h3M182 47h2M187 47h1M189 47h2M198 47h2M204 47h2M208 47h1M210 47h1M213 47h1M216 47h1M220 47h1M152 48h1M166 48h1M170 48h1M173 48h2M179 48h2M182 48h1M186 48h1M189 48h1M197 48h1M199 48h2M204 48h1M207 48h1M214 48h2M234 48h1M147 49h1M156 49h1M159 49h1M161 49h1M163 49h1M169 49h1M173 49h2M177 49h1M183 49h1M191 49h1M197 49h1M199 49h3M204 49h2M220 49h1M224 49h1M157 50h1M162 50h1M169 50h2M172 50h3M184 50h1M186 50h2M189 50h1M192 50h1M198 50h1M205 50h3M215 50h1M239 50h1M158 51h2M164 51h1M167 51h3M175 51h1M182 51h1M187 51h1M189 51h1M193 51h1M199 51h1M204 51h1M206 51h1M217 51h1M219 51h1M222 51h1M160 52h1M164 52h1M166 52h2M170 52h1M173 52h1M176 52h1M178 52h1M183 52h1M186 52h1M190 52h2M193 52h1M198 52h1M206 52h2M217 52h3M223 52h1M227 52h1M158 53h1M160 53h2M173 53h2M178 53h1M180 53h4M187 53h2M190 53h1M192 53h1M194 53h1M198 53h1M201 53h1M207 53h2M220 53h1M222 53h1M150 54h1M155 54h1M157 54h1M163 54h1M168 54h2M171 54h1M177 54h1M180 54h1M187 54h1M190 54h1M192 54h1M194 54h1M198 54h1M202 54h1M204 54h1M208 54h1M214 54h1M218 54h1M133 55h1M154 55h1M158 55h1M164 55h1M167 55h3M171 55h2M182 55h1M188 55h1M191 55h1M193 55h1M197 55h1M200 55h1M206 55h2M209 55h1M212 55h1M217 55h1M157 56h1M161 56h1M163 56h1M166 56h1M168 56h1M170 56h1M172 56h3M176 56h1M179 56h2M182 56h1M184 56h1M187 56h1M189 56h2M194 56h3M212 56h1M216 56h2M222 56h1M153 57h1M156 57h1M165 57h2M169 57h1M171 57h2M174 57h1M179 57h1M184 57h1M189 57h1M192 57h1M194 57h1M200 57h1M209 57h2M216 57h1M220 57h1M223 57h2M152 58h2M157 58h2M165 58h6M174 58h1M177 58h1M183 58h1M189 58h2M192 58h1M194 58h1M201 58h1M208 58h1M212 58h1M216 58h1M138 59h1M155 59h1M160 59h1M162 59h2M166 59h1M168 59h2M174 59h3M178 59h2M190 59h1M195 59h1M197 59h1M199 59h2M203 59h2M212 59h1M214 59h2M233 59h1M146 60h1M156 60h1M162 60h1M164 60h2M168 60h3M172 60h2M180 60h1M183 60h1M187 60h1M189 60h1M193 60h1M195 60h1M197 60h1M199 60h2M202 60h3M206 60h1M212 60h2M149 61h1M154 61h1M160 61h1M166 61h1M170 61h1M172 61h1M174 61h4M180 61h1M182 61h1M184 61h1M188 61h1M194 61h1M196 61h2M200 61h1M202 61h2M205 61h1M208 61h1M210 61h1M214 61h1M220 61h1M225 61h1M153 62h1M160 62h3M164 62h1M168 62h2M172 62h1M176 62h1M178 62h1M184 62h1M186 62h2M189 62h5M199 62h1M204 62h3M208 62h1M210 62h1M212 62h2M145 63h1M148 63h1M152 63h1M166 63h2M169 63h1M173 63h1M176 63h3M182 63h2M188 63h1M195 63h1M197 63h2M201 63h1M210 63h2M214 63h1M220 63h1M231 63h1M149 64h1M152 64h1M157 64h1M167 64h1M170 64h1M172 64h1M174 64h1M185 64h1M190 64h2M193 64h1M197 64h1M201 64h1M206 64h1M208 64h1M210 64h1M146 65h1M154 65h1M162 65h1M165 65h1M168 65h2M179 65h2M183 65h1M189 65h2M194 65h2M199 65h1M201 65h4M215 65h2M233 65h1M240 65h1M149 66h1M152 66h1M156 66h1M158 66h3M163 66h2M167 66h1M172 66h4M177 66h1M179 66h1M186 66h1M189 66h3M194 66h1M198 66h1M201 66h2M210 66h2M151 67h1M153 67h1M159 67h1M161 67h1M163 67h1M166 67h3M171 67h1M173 67h2M177 67h1M183 67h3M187 67h1M193 67h1M198 67h1M200 67h1M203 67h1M210 67h2M147 68h1M150 68h2M153 68h2M157 68h2M160 68h1M164 68h1M166 68h1M172 68h3M176 68h1M179 68h1M183 68h1M185 68h3M189 68h1M196 68h1M203 68h1M208 68h1M222 68h1M226 68h1M147 69h1M152 69h1M154 69h3M158 69h1M164 69h1M167 69h1M169 69h2M174 69h1M180 69h1M189 69h1M202 69h2M210 69h1M212 69h3M146 70h2M153 70h1M156 70h2M159 70h2M162 70h2M170 70h2M176 70h1M182 70h1M192 70h1M195 70h1M198 70h3M205 70h1M208 70h1M211 70h1M215 70h1M228 70h1M146 71h2M153 71h1M155 71h2M160 71h2M164 71h1M167 71h3M174 71h1M178 71h1M180 71h1M182 71h2M186 71h1M196 71h1M201 71h1M203 71h1M206 71h2M213 71h1M218 71h1M231 71h1M240 71h1M242 71h1M155 72h1M160 72h2M163 72h1M166 72h1M171 72h2M174 72h2M180 72h1M185 72h1M187 72h2M194 72h1M200 72h2M204 72h2M207 72h1M209 72h2M212 72h1M216 72h1M145 73h1M157 73h2M160 73h2M167 73h1M170 73h1M173 73h3M177 73h1M180 73h1M183 73h2M187 73h1M195 73h1M201 73h2M216 73h1M149 74h2M155 74h2M159 74h1M161 74h4M167 74h1M170 74h1M172 74h1M178 74h1M182 74h1M184 74h1M187 74h5M193 74h2M196 74h1M201 74h1M204 74h1M210 74h1M232 74h1M147 75h1M149 75h2M154 75h1M157 75h1M165 75h1M167 75h1M171 75h1M187 75h2M198 75h2M203 75h3M223 75h1M151 76h1M158 76h4M164 76h2M168 76h1M172 76h1M179 76h2M190 76h4M197 76h2M205 76h2M209 76h1M143 77h1M147 77h2M152 77h5M162 77h1M170 77h1M172 77h3M177 77h1M185 77h2M194 77h1M199 77h1M202 77h2M211 77h1M113 78h1M152 78h1M156 78h1M158 78h4M165 78h1M178 78h2M186 78h1M194 78h3M207 78h1M210 78h1M146 79h1M149 79h3M158 79h2M162 79h3M174 79h2M178 79h1M184 79h1M186 79h1M192 79h3M196 79h1M199 79h1M202 79h1M209 79h1M211 79h1M142 80h2M145 80h1M153 80h1M157 80h1M160 80h1M163 80h1M165 80h1M168 80h1M172 80h2M177 80h1M182 80h1M186 80h2M189 80h1M192 80h1M194 80h1M198 80h1M201 80h3M209 80h1M219 80h1M140 81h1M144 81h1M150 81h3M154 81h1M156 81h1M163 81h2M168 81h1M172 81h1M176 81h1M180 81h1M184 81h2M188 81h6M199 81h1M202 81h1M218 81h1M149 82h1M151 82h1M159 82h1M164 82h1M166 82h2M170 82h2M176 82h1M184 82h2M189 82h1M194 82h1M197 82h1M205 82h1M207 82h1M211 82h1M214 82h1M123 83h1M140 83h1M153 83h1M158 83h1M163 83h1M165 83h1M173 83h1M180 83h1M184 83h1M188 83h1M191 83h2M195 83h1M201 83h3M207 83h1M211 83h1M227 83h1M128 84h1M146 84h1M148 84h2M152 84h1M156 84h1M160 84h2M164 84h1M170 84h1M173 84h1M175 84h1M180 84h2M185 84h1M187 84h1M189 84h3M194 84h1M196 84h1M198 84h1M201 84h2M214 84h1M216 84h1M144 85h1M148 85h1M150 85h2M153 85h2M157 85h1M159 85h3M171 85h1M177 85h4M189 85h1M191 85h1M193 85h1M203 85h2M144 86h1M147 86h2M151 86h1M153 86h1M156 86h1M161 86h2M169 86h1M172 86h1M179 86h1M182 86h1M185 86h1M187 86h1M192 86h1M194 86h1M196 86h1M198 86h1M200 86h1M203 86h1M206 86h1M211 86h1M138 87h1M140 87h1M144 87h1M146 87h1M149 87h1M157 87h1M160 87h2M164 87h1M168 87h1M177 87h1M180 87h1M183 87h1M185 87h1M189 87h1M192 87h1M194 87h1M196 87h4M203 87h2M131 88h1M136 88h1M141 88h1M144 88h2M156 88h1M165 88h1M167 88h2M174 88h1M181 88h1M184 88h1M187 88h3M191 88h2M198 88h1M203 88h1M209 88h2M140 89h1M143 89h1M148 89h1M154 89h3M165 89h1M174 89h1M177 89h1M189 89h1M191 89h1M195 89h1M198 89h1M200 89h1M202 89h2M141 90h1M143 90h2M148 90h2M153 90h1M156 90h1M165 90h2M168 90h1M191 90h2M194 90h1M196 90h3M203 90h1M138 91h1M143 91h1M149 91h1M158 91h1M160 91h1M183 91h1M189 91h2M192 91h1M195 91h2M198 91h1M141 92h1M143 92h2M149 92h1M151 92h1M153 92h1M158 92h1M166 92h1M171 92h1M176 92h1M181 92h1M186 92h1M188 92h1M191 92h2M194 92h2M201 92h1M139 93h1M144 93h1M146 93h1M148 93h1M151 93h2M154 93h1M163 93h1M175 93h1M179 93h1M185 93h1M189 93h1M197 93h1M202 93h1M208 93h1M231 93h1M143 94h3M151 94h1M153 94h1M155 94h2M176 94h1M178 94h1M181 94h1M183 94h1M188 94h2M194 94h1M203 94h1M142 95h2M149 95h1M151 95h2M158 95h1M181 95h1M187 95h1M189 95h1M199 95h2M203 95h1M140 96h1M142 96h1M144 96h4M151 96h2M154 96h1M157 96h1M161 96h1M167 96h2M182 96h1M184 96h1M187 96h2M192 96h1M203 96h1M139 97h1M143 97h1M145 97h2M151 97h2M165 97h1M192 97h1M194 97h1M202 97h1M141 98h1M147 98h1M155 98h1M183 98h3M187 98h1M195 98h1M143 99h1M145 99h1M177 99h1M182 99h1M186 99h2M190 99h1M193 99h2M200 99h1M203 99h1M205 99h1M135 100h1M142 100h1M144 100h1M147 100h2M154 100h1M158 100h1M176 100h1M181 100h8M190 100h2M194 100h1M198 100h1M202 100h1M221 100h1M232 100h1M138 101h1M142 101h1M144 101h1M148 101h1M164 101h1M173 101h1M176 101h1M188 101h1M191 101h1M197 101h1M241 101h1M136 102h1M144 102h1M148 102h1M154 102h1M175 102h1M186 102h2M191 102h1M195 102h1M200 102h1M229 102h1M258 102h1M146 103h4M151 103h2M175 103h1M180 103h3M185 103h1M190 103h1M195 103h3M201 103h1M217 103h1M137 104h1M141 104h2M145 104h2M148 104h1M151 104h1M164 104h1M171 104h1M178 104h1M181 104h1M187 104h3M191 104h1M194 104h1M196 104h2M213 104h1M136 105h1M143 105h1M145 105h1M148 105h2M151 105h1M167 105h1M175 105h1M178 105h1M181 105h1M185 105h1M188 105h1M193 105h1M196 105h1M198 105h1M138 106h2M141 106h1M146 106h1M153 106h1M155 106h1M158 106h1M168 106h1M173 106h1M179 106h2M182 106h1M185 106h1M187 106h1M190 106h1M194 106h2M222 106h1M137 107h1M144 107h1M146 107h1M151 107h1M155 107h1M169 107h1M172 107h1M177 107h1M179 107h2M183 107h1M185 107h5M193 107h1M196 107h2M138 108h2M141 108h1M168 108h1M172 108h2M175 108h2M181 108h1M187 108h3M198 108h1M220 108h1M134 109h1M139 109h1M147 109h1M172 109h1M176 109h1M178 109h1M180 109h2M185 109h1M189 109h1M192 109h1M194 109h1M203 109h1M135 110h1M147 110h1M152 110h1M173 110h1M177 110h1M185 110h1M187 110h1M191 110h2M201 110h1M211 110h1M214 110h1M134 111h1M137 111h1M144 111h1M147 111h1M159 111h1M178 111h2M186 111h1M188 111h1M134 112h1M136 112h1M142 112h1M144 112h1M146 112h3M177 112h4M182 112h2M186 112h1M188 112h1M193 112h1M135 113h1M138 113h2M141 113h2M144 113h1M147 113h1M171 113h1M174 113h1M177 113h2M182 113h2M187 113h1M193 113h1M134 114h1M136 114h1M138 114h4M145 114h1M148 114h1M174 114h2M177 114h1M180 114h1M185 114h1M137 115h3M142 115h2M145 115h1M147 115h1M150 115h1M171 115h2M174 115h2M179 115h1M184 115h1M186 115h1M133 116h2M140 116h1M142 116h1M166 116h1M172 116h1M180 116h1M182 116h1M184 116h1M192 116h1M213 116h1M131 117h1M134 117h2M137 117h1M139 117h1M141 117h1M145 117h3M175 117h1M183 117h1M188 117h2M118 118h1M131 118h1M134 118h1M139 118h4M150 118h1M168 118h1M178 118h1M180 118h3M185 118h1M187 118h2M132 119h1M137 119h1M139 119h1M144 119h1M172 119h2M177 119h1M179 119h1M182 119h1M184 119h1M186 119h1M137 120h3M169 120h3M174 120h2M177 120h1M179 120h1M182 120h1M184 120h1M132 121h1M134 121h1M140 121h2M171 121h2M175 121h1M178 121h1M182 121h1M116 122h1M139 122h1M141 122h2M173 122h2M179 122h1M183 122h1M186 122h1M189 122h1M208 122h1M132 123h1M144 123h2M176 123h1M178 123h1M182 123h1M191 123h1M199 123h1M132 124h2M135 124h3M139 124h1M142 124h1M171 124h2M179 124h2M185 124h2M137 125h2M140 125h1M142 125h2M147 125h1M161 125h1M168 125h1M172 125h1M174 125h2M178 125h1M184 125h1M206 125h1M114 126h1M137 126h2M142 126h3M152 126h1M167 126h1M169 126h1M178 126h1M180 126h1M182 126h3M224 126h1M131 127h1M137 127h1M139 127h1M141 127h1M143 127h1M148 127h1M158 127h1M168 127h1M170 127h1M173 127h7M132 128h1M136 128h2M139 128h1M143 128h1M161 128h1M170 128h2M183 128h1M131 129h1M137 129h2M142 129h2M145 129h1M148 129h1M167 129h1M175 129h2M180 129h1M182 129h1M134 130h2M140 130h4M145 130h2M149 130h1M171 130h2M175 130h1M177 130h1M179 130h1M181 130h1M131 131h1M136 131h1M138 131h2M142 131h1M164 131h1M166 131h1M170 131h1M172 131h2M181 131h1M189 131h1M135 132h1M139 132h1M141 132h1M144 132h1M147 132h1M160 132h1M162 132h2M166 132h1M169 132h1M171 132h1M174 132h2M179 132h1M181 132h1M257 132h1M132 133h1M142 133h1M144 133h3M149 133h2M154 133h1M166 133h1M171 133h1M173 133h4M218 133h1M137 134h3M148 134h1M153 134h1M157 134h1M161 134h1M166 134h1M168 134h1M173 134h2M136 135h1M140 135h1M143 135h1M145 135h1M149 135h1M151 135h1M157 135h1M165 135h2M168 135h1M171 135h2M176 135h2M129 136h1M134 136h1M137 136h1M139 136h1M141 136h2M145 136h1M150 136h3M155 136h1M166 136h2M171 136h1M175 136h1M189 136h1M149 137h2M158 137h1M164 137h1M166 137h1M171 137h2M175 137h1M177 137h1M179 137h1M135 138h1M140 138h1M144 138h2M147 138h1M153 138h2M159 138h1M164 138h1M168 138h1M171 138h1M173 138h1M175 138h1M135 139h3M139 139h1M145 139h1M147 139h1M150 139h3M154 139h1M157 139h1M159 139h1M161 139h1M166 139h1M172 139h1M115 140h1M140 140h2M146 140h1M149 140h2M152 140h1M157 140h1M160 140h1M162 140h1M164 140h1M167 140h1M171 140h1M138 141h1M140 141h1M147 141h1M149 141h1M152 141h1M154 141h1M159 141h1M163 141h3M167 141h1M170 141h1M173 141h1M199 141h1M141 142h1M145 142h1M147 142h4M152 142h1M154 142h2M157 142h2M161 142h1M164 142h1M168 142h1M136 143h1M140 143h2M144 143h1M147 143h3M152 143h1M157 143h1M159 143h3M165 143h1M168 143h2M142 144h1M145 144h4M151 144h1M155 144h1M157 144h1M160 144h3M164 144h1M167 144h1M230 144h1M138 145h1M148 145h1M151 145h2M154 145h1M158 145h3M165 145h1M170 145h1M139 146h1M147 146h1M150 146h3M157 146h2M161 146h2M166 146h1M183 146h1M133 147h1M142 147h1M149 147h1M152 147h4M157 147h1M144 148h1M153 148h1M157 148h1M165 148h1M147 149h2M155 149h1M159 149h1M164 149h1M127 150h1M137 150h1M146 150h1M149 150h1M158 150h1M196 151h1M120 152h1M149 152h1M151 152h2M155 152h1M157 152h1M160 153h1M215 153h1M166 154h1M172 154h1M149 156h1M158 156h1M154 157h1M205 157h1M136 158h1M156 158h2M144 159h1M171 159h1M144 160h1M179 160h1M166 161h1M193 161h1M139 162h1M161 162h1M171 162h1M153 164h1M177 164h2M151 165h1M160 165h1M162 165h1M114 166h1M148 166h1M165 166h1M171 166h1M176 166h1M147 167h1M152 167h1M159 168h1M164 168h1M197 170h1M162 171h1M157 172h1M198 173h1M152 174h1M158 174h1M168 174h1M160 175h1M172 175h1M156 176h1M164 176h1M149 177h1M154 177h1M171 177h1M180 177h1M161 178h1M163 178h1M157 179h1M161 179h1M158 180h1M150 181h1M158 181h1M167 181h1M156 184h1M163 184h1M151 186h1M159 187h1M165 187h1M193 188h1M129 189h1M174 190h1M157 192h1M133 193h1M171 193h1M106 195h1M173 195h1M165 196h1M172 196h1M163 198h1M170 198h1M161 199h1M158 201h1M120 209h1M162 211h1M156 236h1M125 245h1M126 252h1M127 269h1M109 271h1" stroke="#8c8c8c"/>
<path d="M203 3h1M214 3h1M198 4h1M208 4h1M215 5h1M189 7h1M205 8h1M207 9h1M208 14h1M186 15h1M173 17h1M195 17h1M211 17h1M202 18h1M212 18h1M178 19h1M192 19h1M219 20h1M178 21h1M187 21h1M201 21h1M215 22h1M183 24h2M192 24h1M209 24h1M216 24h1M182 25h1M201 25h1M203 25h2M190 26h1M188 28h1M202 28h1M209 28h1M219 28h1M188 29h2M191 29h1M163 30h1M183 30h1M186 30h1M170 31h1M178 31h1M183 31h1M209 31h1M174 32h1M195 32h1M178 33h1M192 33h1M172 34h1M200 34h1M174 35h1M201 35h1M206 35h1M227 35h1M169 36h1M171 36h1M175 36h1M191 36h1M195 36h1M201 36h1M204 36h1M165 37h1M192 37h1M197 37h1M209 37h1M180 38h1M182 38h1M184 38h1M188 38h1M190 38h2M193 38h1M215 38h1M217 38h1M164 39h1M168 39h1M185 39h2M211 39h1M175 40h1M179 40h1M182 40h1M202 40h1M206 40h1M175 41h1M182 41h2M190 41h2M194 41h2M197 41h1M203 41h2M222 41h1M182 42h1M184 42h1M189 42h1M173 43h1M176 43h2M180 43h1M189 43h1M194 43h1M199 43h1M222 43h1M169 44h1M171 44h1M174 44h1M178 44h1M180 44h1M186 44h1M201 44h2M206 44h1M155 45h1M176 45h1M179 45h1M181 45h1M184 45h1M191 45h2M197 45h2M202 45h1M212 45h1M183 46h2M186 46h1M190 46h1M193 46h1M195 46h1M170 47h1M173 47h1M184 47h1M193 47h2M217 47h1M164 48h1M167 48h3M176 48h2M181 48h1M183 48h1M188 48h1M190 48h2M201 48h1M203 48h1M166 49h2M181 49h1M185 49h1M187 49h1M198 49h1M202 49h1M176 50h1M183 50h1M188 50h1M190 50h1M193 50h3M199 50h1M201 50h1M208 50h1M210 50h1M170 51h1M178 51h2M181 51h1M183 51h1M190 51h1M195 51h3M208 51h1M210 51h1M163 52h1M174 52h2M181 52h1M184 52h2M187 52h3M196 52h2M204 52h1M155 53h1M164 53h1M168 53h2M176 53h1M185 53h1M189 53h1M204 53h2M159 54h1M161 54h2M176 54h1M181 54h1M183 54h1M185 54h1M193 54h1M195 54h2M200 54h1M203 54h1M165 55h2M170 55h1M174 55h1M179 55h3M187 55h1M194 55h1M196 55h1M199 55h1M165 56h1M167 56h1M171 56h1M177 56h2M181 56h1M186 56h1M188 56h1M192 56h2M201 56h1M203 56h1M170 57h1M175 57h2M178 57h1M180 57h1M182 57h2M185 57h4M190 57h1M199 57h1M201 57h1M203 57h1M207 57h2M214 57h1M156 58h1M179 58h2M182 58h1M184 58h1M187 58h1M191 58h1M199 58h1M204 58h2M158 59h1M170 59h4M180 59h1M183 59h1M185 59h1M189 59h1M191 59h1M193 59h1M198 59h1M206 59h1M167 60h1M171 60h1M174 60h1M178 60h2M181 60h2M184 60h1M188 60h1M198 60h1M152 61h1M156 61h1M165 61h1M167 61h1M169 61h1M171 61h1M178 61h1M181 61h1M185 61h1M187 61h1M189 61h4M195 61h1M199 61h1M206 61h1M215 61h1M163 62h1M165 62h1M167 62h1M175 62h1M177 62h1M180 62h3M185 62h1M188 62h1M194 62h1M198 62h1M200 62h1M168 63h1M170 63h3M174 63h2M180 63h2M191 63h2M194 63h1M159 64h2M163 64h1M165 64h2M169 64h1M171 64h1M173 64h1M175 64h7M183 64h2M186 64h1M188 64h1M195 64h1M200 64h1M203 64h1M205 64h1M161 65h1M166 65h1M170 65h2M174 65h2M177 65h2M182 65h1M184 65h2M187 65h2M193 65h1M157 66h1M170 66h2M178 66h1M180 66h2M183 66h1M193 66h1M196 66h2M199 66h1M216 66h1M149 67h1M156 67h1M165 67h1M169 67h2M172 67h1M175 67h1M178 67h2M181 67h2M186 67h1M188 67h4M194 67h1M196 67h2M199 67h1M204 67h1M152 68h1M162 68h1M168 68h3M175 68h1M177 68h2M182 68h1M184 68h1M188 68h1M191 68h1M193 68h1M197 68h1M201 68h1M159 69h1M162 69h1M165 69h1M168 69h1M171 69h2M177 69h3M181 69h1M184 69h5M190 69h7M199 69h1M155 70h1M164 70h1M167 70h1M169 70h1M173 70h2M178 70h2M181 70h1M183 70h1M186 70h6M196 70h2M154 71h1M159 71h1M170 71h1M172 71h2M175 71h1M177 71h1M181 71h1M185 71h1M187 71h1M191 71h1M198 71h1M200 71h1M204 71h1M157 72h1M159 72h1M162 72h1M167 72h4M176 72h3M181 72h1M184 72h1M186 72h1M195 72h1M147 73h1M164 73h2M168 73h1M176 73h1M178 73h1M182 73h1M185 73h2M188 73h4M194 73h1M196 73h1M199 73h2M158 74h1M160 74h1M165 74h2M171 74h1M173 74h4M179 74h3M183 74h1M192 74h1M195 74h1M203 74h1M211 74h1M156 75h1M158 75h2M161 75h2M168 75h3M173 75h1M177 75h1M180 75h2M184 75h3M189 75h1M191 75h2M194 75h1M196 75h1M155 76h3M162 76h2M166 76h2M169 76h1M173 76h1M177 76h1M181 76h8M202 76h1M150 77h2M160 77h2M163 77h3M167 77h2M171 77h1M176 77h1M178 77h1M180 77h1M182 77h3M187 77h1M191 77h3M197 77h1M149 78h1M151 78h1M164 78h1M167 78h2M171 78h1M173 78h4M180 78h6M188 78h3M192 78h2M205 78h1M208 78h1M154 79h2M160 79h1M165 79h1M167 79h1M169 79h3M173 79h1M176 79h1M179 79h1M182 79h2M187 79h1M190 79h1M147 80h1M149 80h1M152 80h1M154 80h1M159 80h1M161 80h2M166 80h1M170 80h2M175 80h1M178 80h1M180 80h2M184 80h2M188 80h1M190 80h1M193 80h1M199 80h1M149 81h1M153 81h1M157 81h6M165 81h3M169 81h2M175 81h1M177 81h3M182 81h2M186 81h2M195 81h1M150 82h1M156 82h2M160 82h4M169 82h1M177 82h4M182 82h2M186 82h1M188 82h1M190 82h2M193 82h1M196 82h1M150 83h1M154 83h2M160 83h2M166 83h1M168 83h3M172 83h1M174 83h2M178 83h2M181 83h1M185 83h3M190 83h1M196 83h1M153 84h1M155 84h1M159 84h1M172 84h1M174 84h1M177 84h3M186 84h1M193 84h1M155 85h1M162 85h2M166 85h3M170 85h1M176 85h1M182 85h7M190 85h1M196 85h1M201 85h1M141 86h1M154 86h2M159 86h2M164 86h2M167 86h2M170 86h2M175 86h4M180 86h2M184 86h1M186 86h1M189 86h2M201 86h1M151 87h1M154 87h1M156 87h1M158 87h2M165 87h1M167 87h1M175 87h1M181 87h2M186 87h1M188 87h1M190 87h2M147 88h3M153 88h3M157 88h1M160 88h1M163 88h2M166 88h1M170 88h1M173 88h1M175 88h5M182 88h1M185 88h2M197 88h1M199 88h1M144 89h1M150 89h2M157 89h4M163 89h2M166 89h2M171 89h1M176 89h1M178 89h6M186 89h2M190 89h1M196 89h1M146 90h1M151 90h2M154 90h2M157 90h1M159 90h3M164 90h1M167 90h1M169 90h2M172 90h2M176 90h1M182 90h2M185 90h3M189 90h2M148 91h1M154 91h1M161 91h1M164 91h1M166 91h2M170 91h1M172 91h1M174 91h1M178 91h1M180 91h3M184 91h2M187 91h2M191 91h1M193 91h1M154 92h2M160 92h2M173 92h3M177 92h1M182 92h4M187 92h1M147 93h1M156 93h1M159 93h1M165 93h1M167 93h2M171 93h1M174 93h1M178 93h1M181 93h4M190 93h1M200 93h1M148 94h3M152 94h1M154 94h1M158 94h1M162 94h3M166 94h4M175 94h1M179 94h2M182 94h1M184 94h1M193 94h1M145 95h1M150 95h1M157 95h1M159 95h1M161 95h1M166 95h1M168 95h1M170 95h3M174 95h3M178 95h2M182 95h2M185 95h2M188 95h1M192 95h1M198 95h1M143 96h1M149 96h2M153 96h1M155 96h2M160 96h1M163 96h2M166 96h1M169 96h2M172 96h1M174 96h1M177 96h1M179 96h2M185 96h2M189 96h1M193 96h2M141 97h1M155 97h1M157 97h4M164 97h1M166 97h1M168 97h1M170 97h1M173 97h1M180 97h2M183 97h1M187 97h3M191 97h1M199 97h1M148 98h1M151 98h1M154 98h1M156 98h3M170 98h5M176 98h4M136 99h1M139 99h1M144 99h1M149 99h2M152 99h3M156 99h1M158 99h6M166 99h1M168 99h1M172 99h3M178 99h1M181 99h1M183 99h1M185 99h1M191 99h1M195 99h1M198 99h1M146 100h1M149 100h1M151 100h1M155 100h1M157 100h1M166 100h1M169 100h1M172 100h1M177 100h1M179 100h1M192 100h1M141 101h1M146 101h1M149 101h2M152 101h3M156 101h1M158 101h2M162 101h1M165 101h1M167 101h1M169 101h1M175 101h1M178 101h1M180 101h2M185 101h3M139 102h1M145 102h2M149 102h4M156 102h1M161 102h1M163 102h1M165 102h3M172 102h2M178 102h1M182 102h1M136 103h1M139 103h1M142 103h1M145 103h1M153 103h7M161 103h4M167 103h1M169 103h1M171 103h4M183 103h1M186 103h1M188 103h1M192 103h2M139 104h1M143 104h1M147 104h1M153 104h4M159 104h1M166 104h2M169 104h2M173 104h1M176 104h2M180 104h1M182 104h1M184 104h3M140 105h1M142 105h1M146 105h1M150 105h1M152 105h3M159 105h1M168 105h2M177 105h1M180 105h1M182 105h1M191 105h1M147 106h3M151 106h2M154 106h1M156 106h1M166 106h1M174 106h5M141 107h1M145 107h1M147 107h3M156 107h1M158 107h1M161 107h1M165 107h1M171 107h1M174 107h1M176 107h1M178 107h1M181 107h1M192 107h1M145 108h1M150 108h3M162 108h1M166 108h2M169 108h1M177 108h4M184 108h1M143 109h2M146 109h1M148 109h2M151 109h1M155 109h1M159 109h1M165 109h2M168 109h3M173 109h3M179 109h1M144 110h1M148 110h1M151 110h1M154 110h1M157 110h1M164 110h1M168 110h1M171 110h1M175 110h1M178 110h2M181 110h2M149 111h2M168 111h1M172 111h1M174 111h1M177 111h1M180 111h1M182 111h3M138 112h1M140 112h1M149 112h2M152 112h1M155 112h1M167 112h2M170 112h1M172 112h1M175 112h2M181 112h1M185 112h1M134 113h1M145 113h1M148 113h3M155 113h1M157 113h1M159 113h1M165 113h2M169 113h2M173 113h1M175 113h1M143 114h1M146 114h2M149 114h3M156 114h1M159 114h1M165 114h1M170 114h3M182 114h1M184 114h1M144 115h1M151 115h1M155 115h1M162 115h1M164 115h2M167 115h1M169 115h1M173 115h1M137 116h1M139 116h1M144 116h4M156 116h1M173 116h1M176 116h1M178 116h2M181 116h1M140 117h1M143 117h2M148 117h2M154 117h1M168 117h2M171 117h3M177 117h1M182 117h1M145 118h1M147 118h2M156 118h1M169 118h1M171 118h1M173 118h1M177 118h1M138 119h1M140 119h1M142 119h2M147 119h1M153 119h1M159 119h1M166 119h1M169 119h1M171 119h1M175 119h2M135 120h1M140 120h2M148 120h2M167 120h1M172 120h2M183 120h1M138 121h2M143 121h1M148 121h2M151 121h1M156 121h1M167 121h1M169 121h2M173 121h2M177 121h1M181 121h1M136 122h1M138 122h1M140 122h1M143 122h1M145 122h3M149 122h1M161 122h1M164 122h1M170 122h3M175 122h2M180 122h1M182 122h1M187 122h1M139 123h1M141 123h2M146 123h1M148 123h1M150 123h1M162 123h2M165 123h1M169 123h3M173 123h3M141 124h1M143 124h3M147 124h3M157 124h1M163 124h1M166 124h1M168 124h3M174 124h3M181 124h1M144 125h3M149 125h1M156 125h1M162 125h1M165 125h1M167 125h1M170 125h2M173 125h1M176 125h1M139 126h1M146 126h3M153 126h1M156 126h1M159 126h1M165 126h1M168 126h1M170 126h1M173 126h1M175 126h1M140 127h1M144 127h2M147 127h1M151 127h1M154 127h1M157 127h1M161 127h1M163 127h2M167 127h1M169 127h1M171 127h1M141 128h2M145 128h1M147 128h1M151 128h1M153 128h1M160 128h1M163 128h1M165 128h1M167 128h2M173 128h1M136 129h1M139 129h1M141 129h1M144 129h1M146 129h1M149 129h1M151 129h2M160 129h1M169 129h1M171 129h4M179 129h1M144 130h1M148 130h1M150 130h1M152 130h1M160 130h1M163 130h2M168 130h3M178 130h1M134 131h1M145 131h4M150 131h2M155 131h1M157 131h1M159 131h3M163 131h1M169 131h1M171 131h1M142 132h2M145 132h1M148 132h2M151 132h1M153 132h1M156 132h1M159 132h1M161 132h1M165 132h1M170 132h1M172 132h2M177 132h1M141 133h1M148 133h1M152 133h2M155 133h3M162 133h1M165 133h1M167 133h1M169 133h1M172 133h1M141 134h1M143 134h1M145 134h1M147 134h1M151 134h1M154 134h3M159 134h2M163 134h1M167 134h1M170 134h1M172 134h1M142 135h1M146 135h1M152 135h1M154 135h1M156 135h1M158 135h2M161 135h1M163 135h2M167 135h1M169 135h1M140 136h1M146 136h4M153 136h1M156 136h10M168 136h1M143 137h2M147 137h1M151 137h1M153 137h5M159 137h1M161 137h1M165 137h1M169 137h1M146 138h1M151 138h2M155 138h1M157 138h1M162 138h1M165 138h2M144 139h1M148 139h2M153 139h1M155 139h2M158 139h1M160 139h1M162 139h4M167 139h1M169 139h1M173 139h1M153 140h4M158 140h2M163 140h1M166 140h1M169 140h1M144 141h1M146 141h1M150 141h1M156 141h2M162 141h1M142 142h1M146 142h1M151 142h1M156 142h1M163 142h1M151 143h1M158 143h1M167 143h1M150 144h1M152 144h2M159 144h1M139 145h1M166 145h1M154 146h1M160 146h1M168 146h1M162 147h1M148 148h1M159 148h1M150 151h1" stroke="#ff00ff"/>
<path d="M206 33h1M187 35h1M183 39h1M168 50h1M179 52h1M192 52h1M201 52h1M188 54h1M183 56h1M186 59h2M196 59h1M186 60h1M190 60h1M164 61h1M183 61h1M189 63h1M193 63h1M168 64h1M192 65h1M164 67h1M180 67h1M167 68h1M180 68h2M194 68h1M173 69h1M176 69h1M165 70h1M168 70h1M172 70h1M175 70h1M177 70h1M180 70h1M165 71h1M171 71h1M179 71h1M184 71h1M188 71h1M182 72h2M192 72h1M163 73h1M169 73h1M172 73h1M179 73h1M181 73h1M177 74h1M185 74h2M163 75h1M174 75h2M178 75h2M182 75h2M174 76h1M178 76h1M189 76h1M175 77h1M179 77h1M181 77h1M190 77h1M172 78h1M177 78h1M187 78h1M161 79h1M177 79h1M180 79h2M185 79h1M189 79h1M164 80h1M169 80h1M176 80h1M179 80h1M171 81h1M173 81h2M165 82h1M168 82h1M172 82h3M157 83h1M159 83h1M164 83h1M167 83h1M171 83h1M176 83h1M182 83h1M189 83h1M154 84h1M165 84h1M171 84h1M176 84h1M182 84h1M184 84h1M152 85h1M158 85h1M164 85h2M172 85h2M158 86h1M163 86h1M166 86h1M173 86h2M188 86h1M191 86h1M193 86h1M166 87h1M170 87h2M173 87h2M176 87h1M178 87h1M187 87h1M151 88h1M159 88h1M162 88h1M169 88h1M172 88h1M162 89h1M168 89h3M172 89h1M175 89h1M162 90h2M171 90h1M175 90h1M178 90h1M180 90h2M155 91h1M159 91h1M162 91h1M165 91h1M168 91h2M171 91h1M173 91h1M176 91h1M156 92h1M159 92h1M163 92h3M167 92h1M170 92h1M172 92h1M178 92h3M157 93h2M160 93h2M164 93h1M166 93h1M169 93h1M173 93h1M177 93h1M180 93h1M186 93h1M157 94h1M159 94h1M161 94h1M165 94h1M170 94h5M177 94h1M190 94h1M155 95h2M162 95h4M167 95h1M173 95h1M180 95h1M158 96h2M162 96h1M165 96h1M173 96h1M178 96h1M181 96h1M147 97h1M150 97h1M153 97h2M156 97h1M161 97h1M163 97h1M167 97h1M169 97h1M171 97h2M174 97h4M179 97h1M182 97h1M149 98h2M152 98h2M159 98h8M168 98h2M175 98h1M180 98h1M151 99h1M155 99h1M164 99h2M169 99h3M175 99h2M179 99h1M153 100h1M156 100h1M159 100h1M162 100h3M167 100h2M170 100h2M173 100h3M178 100h1M151 101h1M155 101h1M157 101h1M160 101h1M163 101h1M168 101h1M170 101h3M174 101h1M179 101h1M147 102h1M155 102h1M157 102h4M162 102h1M168 102h3M174 102h1M176 102h1M180 102h1M184 102h1M150 103h1M160 103h1M166 103h1M168 103h1M179 103h1M158 104h1M160 104h4M165 104h1M168 104h1M172 104h1M174 104h2M179 104h1M137 105h1M144 105h1M155 105h4M160 105h6M171 105h4M176 105h1M150 106h1M157 106h1M160 106h3M164 106h2M167 106h1M169 106h3M150 107h1M152 107h3M162 107h2M166 107h2M170 107h1M173 107h1M175 107h1M147 108h1M154 108h1M156 108h1M160 108h2M163 108h1M170 108h2M174 108h1M182 108h1M150 109h1M152 109h3M156 109h1M160 109h1M167 109h1M171 109h1M177 109h1M145 110h1M149 110h2M153 110h1M159 110h2M165 110h3M169 110h2M172 110h1M174 110h1M176 110h1M189 110h1M145 111h1M148 111h1M151 111h6M161 111h1M163 111h1M165 111h1M167 111h1M169 111h3M173 111h1M176 111h1M151 112h1M153 112h2M157 112h3M161 112h1M163 112h1M165 112h2M171 112h1M173 112h1M143 113h1M151 113h3M156 113h1M160 113h2M163 113h2M167 113h2M172 113h1M142 114h1M153 114h3M158 114h1M160 114h3M164 114h1M166 114h2M169 114h1M173 114h1M146 115h1M148 115h2M152 115h1M154 115h1M156 115h1M158 115h2M161 115h1M166 115h1M170 115h1M148 116h1M151 116h1M153 116h3M160 116h1M162 116h1M164 116h1M167 116h2M170 116h2M174 116h1M150 117h2M155 117h1M159 117h1M163 117h2M166 117h2M170 117h1M174 117h1M143 118h2M146 118h1M149 118h1M151 118h1M159 118h1M161 118h1M165 118h3M170 118h1M172 118h1M174 118h1M179 118h1M141 119h1M145 119h2M148 119h3M152 119h1M154 119h1M160 119h1M162 119h3M168 119h1M170 119h1M144 120h1M147 120h1M151 120h1M153 120h1M155 120h4M160 120h1M162 120h2M166 120h1M146 121h1M150 121h1M152 121h2M161 121h3M165 121h1M168 121h1M179 121h1M144 122h1M150 122h1M152 122h1M154 122h2M157 122h1M165 122h5M147 123h1M151 123h1M153 123h1M155 123h1M157 123h2M161 123h1M164 123h1M166 123h3M172 123h1M146 124h1M151 124h3M155 124h1M160 124h1M162 124h1M164 124h2M167 124h1M141 125h1M148 125h1M150 125h2M153 125h1M158 125h1M166 125h1M169 125h1M150 126h2M158 126h1M160 126h4M166 126h1M171 126h1M146 127h1M149 127h2M153 127h1M155 127h2M159 127h2M162 127h1M165 127h1M146 128h1M148 128h1M152 128h1M154 128h2M157 128h3M162 128h1M164 128h1M166 128h1M147 129h1M150 129h1M153 129h1M155 129h3M159 129h1M161 129h6M168 129h1M147 130h1M151 130h1M154 130h1M158 130h2M161 130h1M165 130h1M149 131h1M152 131h2M156 131h1M158 131h1M162 131h1M165 131h1M167 131h1M146 132h1M150 132h1M152 132h1M154 132h2M158 132h1M164 132h1M168 132h1M143 133h1M147 133h1M158 133h1M160 133h2M164 133h1M149 134h1M158 134h1M165 134h1M150 135h1M153 135h1M160 135h1M154 136h1M148 137h1M152 137h1M160 137h1M163 137h1M149 138h1M151 141h1" stroke="#00a5ff"/>
<path d="M184 70h1M176 76h1M177 83h1M168 84h2M171 88h1M180 88h1M161 89h1M174 90h1M177 90h1M163 91h1M175 91h1M162 92h1M168 92h1M162 93h1M177 95h1M171 96h1M162 97h1M167 98h1M157 99h1M167 99h1M160 100h2M165 100h1M161 101h1M166 101h1M164 102h1M171 102h1M165 103h1M170 103h1M177 103h1M157 104h1M166 105h1M170 105h1M159 106h1M163 106h1M172 106h1M157 107h1M159 107h2M164 107h1M168 107h1M153 108h1M155 108h1M157 108h2M164 108h2M157 109h1M161 109h4M155 110h2M158 110h1M161 110h1M163 110h1M157 111h2M160 111h1M162 111h1M164 111h1M166 111h1M156 112h1M160 112h1M169 112h1M154 113h1M158 113h1M162 113h1M152 114h1M157 114h1M163 114h1M168 114h1M153 115h1M160 115h1M163 115h1M149 116h2M152 116h1M157 116h3M161 116h1M163 116h1M165 116h1M169 116h1M153 117h1M156 117h1M158 117h1M161 117h2M165 117h1M152 118h3M157 118h1M160 118h1M162 118h3M151 119h1M155 119h4M161 119h1M165 119h1M167 119h1M150 120h1M152 120h1M154 120h1M159 120h1M161 120h1M164 120h2M147 121h1M154 121h2M157 121h4M164 121h1M166 121h1M151 122h1M153 122h1M156 122h1M158 122h3M162 122h2M149 123h1M152 123h1M154 123h1M156 123h1M160 123h1M150 124h1M154 124h1M156 124h1M158 124h2M161 124h1M152 125h1M154 125h2M157 125h1M159 125h2M163 125h2M155 126h1M157 126h1M152 127h1M166 127h1M150 128h1M156 128h1M154 129h1M158 129h1M153 130h1M155 130h3M162 130h1M154 131h1M157 132h1" stroke="#00ff00"/>
<path d="M159 108h1M158 109h1M162 110h1M162 112h1M164 112h1M157 115h1M152 117h1M157 117h1M160 117h1M155 118h1M158 118h1M159 123h1M154 126h1" stroke="#ff2000"/>
</g>
<g transform="translate(120.5,875.7)">
<rect x="0" y="0" width="437.0" height="437.0" fill="none" stroke="#333" stroke-width="1.2"/>
<path d="M0 242.1H254.8L437.0 128.3M254.8 0V437.0" fill="none" stroke="#222" stroke-width="1.3"/>
<path d="M-6.5 1.0H0M-3.2 77.4H0M-3.2 58.2H0M-3.2 44.5H0M-3.2 33.9H0M-3.2 25.2H0M-3.2 17.9H0M-3.2 11.6H0M-3.2 6.0H0M-6.5 110.3H0M-3.2 186.7H0M-3.2 167.5H0M-3.2 153.8H0M-3.2 143.2H0M-3.2 134.5H0M-3.2 127.2H0M-3.2 120.9H0M-3.2 115.3H0M-6.5 219.6H0M-3.2 296.0H0M-3.2 276.8H0M-3.2 263.1H0M-3.2 252.5H0M-3.2 243.8H0M-3.2 236.5H0M-3.2 230.2H0M-3.2 224.6H0M-6.5 328.9H0M-3.2 405.3H0M-3.2 386.1H0M-3.2 372.4H0M-3.2 361.8H0M-3.2 353.1H0M-3.2 345.8H0M-3.2 339.5H0M-3.2 333.9H0M436.0 437.0v6.5M359.6 437.0v3.2M378.8 437.0v3.2M392.5 437.0v3.2M403.1 437.0v3.2M411.8 437.0v3.2M419.1 437.0v3.2M425.4 437.0v3.2M431.0 437.0v3.2M326.7 437.0v6.5M250.3 437.0v3.2M269.5 437.0v3.2M283.2 437.0v3.2M293.8 437.0v3.2M302.5 437.0v3.2M309.8 437.0v3.2M316.1 437.0v3.2M321.7 437.0v3.2M217.4 437.0v6.5M141.0 437.0v3.2M160.2 437.0v3.2M173.9 437.0v3.2M184.5 437.0v3.2M193.2 437.0v3.2M200.5 437.0v3.2M206.8 437.0v3.2M212.4 437.0v3.2M108.1 437.0v6.5M31.7 437.0v3.2M50.9 437.0v3.2M64.6 437.0v3.2M75.2 437.0v3.2M83.9 437.0v3.2M91.2 437.0v3.2M97.5 437.0v3.2M103.1 437.0v3.2" stroke="#222" stroke-width="1.1" fill="none"/>
<text x="-10.3" y="5.2" font-size="11.5" text-anchor="end" fill="#222" textLength="14.5" lengthAdjust="spacingAndGlyphs">10<tspan font-size="7" dy="-4.5">3</tspan></text>
<text x="443.5" y="457.5" font-size="11.5" text-anchor="end" fill="#222" textLength="14.5" lengthAdjust="spacingAndGlyphs">10<tspan font-size="7" dy="-4.5">3</tspan></text>
<text x="-10.3" y="114.5" font-size="11.5" text-anchor="end" fill="#222" textLength="14.5" lengthAdjust="spacingAndGlyphs">10<tspan font-size="7" dy="-4.5">2</tspan></text>
<text x="334.2" y="457.5" font-size="11.5" text-anchor="end" fill="#222" textLength="14.5" lengthAdjust="spacingAndGlyphs">10<tspan font-size="7" dy="-4.5">2</tspan></text>
<text x="-10.3" y="223.8" font-size="11.5" text-anchor="end" fill="#222" textLength="14.5" lengthAdjust="spacingAndGlyphs">10<tspan font-size="7" dy="-4.5">1</tspan></text>
<text x="224.9" y="457.5" font-size="11.5" text-anchor="end" fill="#222" textLength="14.5" lengthAdjust="spacingAndGlyphs">10<tspan font-size="7" dy="-4.5">1</tspan></text>
<text x="-10.3" y="333.1" font-size="11.5" text-anchor="end" fill="#222" textLength="14.5" lengthAdjust="spacingAndGlyphs">10<tspan font-size="7" dy="-4.5">0</tspan></text>
<text x="115.6" y="457.5" font-size="11.5" text-anchor="end" fill="#222" textLength="14.5" lengthAdjust="spacingAndGlyphs">10<tspan font-size="7" dy="-4.5">0</tspan></text>
<rect x="0.3" y="0.3" width="31.3" height="23.2" rx="3" fill="#fff" stroke="#c8c8c8" stroke-width="1.2"/>
<text x="2.3" y="16.7" font-size="17" fill="#333" textLength="24.5" lengthAdjust="spacingAndGlyphs">C-+</text>
<rect x="255.1" y="0.3" width="32.3" height="23.2" rx="3" fill="#fff" stroke="#c8c8c8" stroke-width="1.2"/>
<text x="257.1" y="16.7" font-size="17" fill="#333" textLength="25.499999999999996" lengthAdjust="spacingAndGlyphs">C++</text>
<rect x="0.3" y="242.4" width="28.8" height="23.2" rx="3" fill="#fff" stroke="#c8c8c8" stroke-width="1.2"/>
<text x="2.3" y="258.8" font-size="17" fill="#333" textLength="22.0" lengthAdjust="spacingAndGlyphs">C--</text>
</g>
<text x="352.6" y="853.9" font-size="31.7" text-anchor="middle">DMSO</text>
<text x="434.0" y="1293.9" font-size="31.7" text-anchor="middle">1.05</text>
<g transform="translate(632.4,878.0) scale(1.55)" stroke-width="1" fill="none">
<path d="M246 11h1M205 12h1M239 15h1M228 19h1M223 24h1M231 26h1M252 27h1M270 28h1M153 29h1M231 30h1M233 33h1M235 33h1M229 34h2M234 34h1M169 35h1M228 35h1M231 35h1M235 35h1M237 35h1M216 36h1M221 36h1M236 36h1M239 36h1M222 37h1M230 37h1M222 38h1M225 38h3M233 38h2M207 39h1M221 39h1M223 39h1M225 39h1M227 39h1M231 39h1M218 40h1M222 40h1M224 40h1M228 40h1M230 40h1M233 40h1M235 40h2M238 40h1M252 40h1M212 41h1M215 41h1M220 41h2M223 41h1M225 41h1M227 41h1M229 41h3M235 41h1M237 41h1M217 42h2M222 42h2M227 42h1M230 42h1M235 42h1M237 42h1M244 42h1M218 43h2M224 43h2M227 43h1M231 43h3M236 43h1M241 43h1M243 43h1M245 43h1M214 44h1M225 44h1M228 44h1M231 44h1M233 44h4M243 44h1M207 45h2M216 45h2M219 45h2M222 45h2M225 45h1M228 45h1M230 45h3M236 45h2M240 45h2M206 46h1M210 46h1M216 46h2M219 46h1M226 46h1M229 46h3M236 46h1M207 47h1M210 47h2M214 47h1M218 47h1M221 47h1M224 47h2M227 47h1M232 47h1M239 47h1M241 47h2M207 48h1M219 48h1M227 48h2M231 48h1M233 48h1M235 48h1M237 48h1M239 48h1M244 48h2M276 48h1M185 49h1M210 49h1M212 49h5M218 49h2M222 49h1M226 49h1M229 49h1M234 49h1M236 49h1M247 49h1M204 50h1M208 50h1M215 50h2M218 50h3M224 50h3M230 50h1M234 50h1M237 50h1M240 50h1M242 50h2M246 50h1M170 51h1M211 51h1M213 51h3M217 51h3M221 51h2M224 51h2M228 51h4M233 51h1M235 51h1M237 51h1M242 51h1M246 51h1M200 52h1M205 52h1M207 52h1M211 52h2M215 52h1M220 52h2M223 52h2M229 52h1M233 52h1M235 52h1M237 52h1M239 52h1M241 52h1M243 52h1M203 53h1M209 53h1M212 53h1M218 53h1M223 53h1M227 53h1M229 53h1M234 53h1M238 53h2M241 53h3M245 53h1M247 53h1M157 54h1M203 54h1M206 54h1M208 54h2M212 54h6M220 54h2M227 54h1M229 54h1M231 54h4M236 54h1M240 54h1M245 54h1M247 54h1M204 55h1M207 55h3M215 55h2M220 55h1M223 55h3M227 55h3M235 55h1M240 55h1M244 55h1M197 56h1M200 56h4M207 56h1M210 56h1M212 56h3M216 56h1M220 56h1M223 56h3M229 56h2M234 56h1M238 56h1M240 56h1M242 56h1M195 57h7M204 57h1M209 57h1M212 57h4M219 57h1M221 57h1M223 57h4M231 57h3M235 57h2M238 57h1M240 57h1M242 57h1M246 57h1M197 58h1M203 58h2M207 58h1M209 58h1M213 58h1M215 58h3M221 58h1M223 58h1M226 58h3M230 58h4M241 58h1M246 58h1M179 59h1M195 59h1M198 59h1M202 59h1M204 59h3M208 59h1M213 59h2M216 59h2M219 59h1M221 59h1M223 59h4M229 59h5M236 59h1M239 59h1M242 59h1M244 59h1M246 59h1M193 60h1M199 60h4M204 60h1M206 60h1M209 60h1M211 60h1M214 60h2M223 60h2M226 60h3M230 60h1M233 60h4M238 60h3M242 60h1M246 60h1M183 61h1M196 61h1M200 61h1M202 61h2M207 61h2M210 61h4M216 61h1M218 61h2M221 61h1M224 61h1M226 61h5M232 61h1M235 61h1M195 62h6M203 62h2M206 62h2M209 62h1M213 62h1M217 62h2M223 62h1M225 62h1M228 62h1M230 62h1M233 62h5M239 62h2M245 62h1M194 63h2M197 63h1M203 63h3M208 63h3M212 63h2M215 63h1M221 63h5M228 63h4M234 63h1M237 63h1M241 63h1M244 63h1M139 64h1M190 64h1M192 64h1M198 64h2M201 64h1M203 64h1M207 64h2M210 64h2M213 64h4M218 64h2M221 64h2M224 64h3M229 64h1M232 64h2M235 64h1M238 64h1M240 64h1M243 64h1M195 65h4M200 65h3M204 65h3M208 65h1M210 65h4M216 65h2M219 65h3M226 65h1M228 65h2M231 65h2M237 65h1M186 66h1M195 66h1M200 66h2M203 66h5M209 66h5M216 66h3M221 66h3M225 66h1M227 66h1M231 66h2M234 66h2M237 66h1M239 66h1M241 66h2M245 66h1M194 67h2M198 67h2M201 67h2M207 67h1M209 67h1M212 67h4M217 67h6M224 67h1M226 67h1M229 67h1M232 67h1M235 67h2M239 67h3M243 67h1M245 67h2M258 67h1M189 68h1M191 68h1M193 68h1M200 68h4M205 68h1M208 68h3M212 68h1M214 68h2M217 68h4M222 68h1M224 68h3M229 68h1M231 68h1M234 68h1M240 68h1M243 68h1M193 69h1M195 69h4M200 69h1M206 69h6M215 69h2M221 69h2M224 69h2M227 69h1M231 69h6M238 69h2M186 70h3M193 70h1M197 70h1M199 70h3M203 70h1M206 70h1M209 70h3M214 70h1M218 70h1M222 70h1M224 70h1M226 70h2M230 70h1M232 70h2M235 70h3M240 70h1M186 71h1M190 71h1M196 71h6M204 71h2M207 71h5M215 71h4M222 71h2M225 71h3M230 71h2M234 71h5M243 71h1M245 71h1M194 72h1M196 72h1M198 72h1M201 72h4M206 72h1M209 72h2M213 72h1M218 72h1M220 72h1M222 72h12M235 72h1M240 72h3M178 73h1M181 73h1M186 73h3M190 73h4M199 73h1M201 73h1M203 73h1M205 73h1M207 73h1M215 73h1M223 73h1M225 73h2M230 73h2M234 73h1M236 73h1M239 73h3M243 73h1M258 73h1M183 74h1M185 74h2M188 74h5M194 74h2M197 74h3M202 74h1M206 74h1M210 74h1M213 74h3M219 74h1M221 74h1M223 74h4M228 74h6M235 74h2M240 74h1M242 74h1M250 74h1M186 75h1M188 75h1M193 75h1M195 75h2M198 75h6M205 75h1M209 75h1M214 75h1M218 75h1M221 75h1M231 75h6M242 75h1M180 76h1M182 76h2M187 76h2M192 76h3M196 76h1M200 76h2M204 76h2M208 76h3M212 76h2M217 76h1M222 76h1M224 76h3M228 76h4M234 76h3M238 76h2M183 77h2M187 77h2M190 77h2M194 77h5M201 77h1M205 77h2M210 77h3M218 77h2M222 77h1M225 77h1M228 77h2M231 77h1M233 77h2M236 77h2M241 77h1M244 77h1M183 78h3M188 78h1M190 78h3M198 78h6M205 78h1M207 78h1M211 78h1M215 78h2M219 78h1M224 78h4M229 78h1M232 78h1M235 78h1M238 78h4M243 78h1M182 79h2M186 79h1M188 79h3M193 79h4M200 79h2M204 79h1M213 79h1M215 79h1M223 79h2M227 79h2M230 79h2M233 79h2M243 79h1M170 80h1M178 80h1M183 80h3M187 80h1M193 80h1M195 80h3M199 80h1M202 80h1M204 80h1M225 80h1M227 80h5M233 80h3M242 80h2M255 80h1M186 81h2M189 81h1M191 81h1M193 81h1M196 81h2M199 81h3M204 81h1M214 81h2M221 81h1M223 81h2M226 81h2M231 81h1M233 81h1M238 81h2M241 81h1M170 82h1M180 82h1M185 82h1M187 82h1M189 82h1M191 82h8M213 82h1M218 82h2M221 82h2M224 82h3M228 82h5M236 82h3M240 82h1M242 82h1M179 83h1M181 83h1M184 83h1M186 83h7M194 83h5M200 83h1M202 83h1M220 83h1M225 83h2M230 83h2M235 83h1M238 83h1M249 83h1M179 84h1M181 84h1M184 84h4M189 84h2M192 84h3M196 84h2M202 84h1M207 84h1M216 84h1M219 84h1M221 84h1M224 84h1M227 84h2M231 84h2M237 84h1M241 84h1M181 85h1M183 85h1M185 85h2M191 85h1M193 85h1M198 85h1M215 85h1M220 85h1M224 85h1M226 85h3M232 85h1M234 85h2M237 85h3M177 86h1M180 86h1M182 86h2M185 86h1M188 86h2M191 86h1M193 86h2M198 86h2M213 86h1M218 86h1M224 86h1M228 86h4M233 86h1M176 87h2M181 87h1M186 87h2M189 87h1M191 87h1M203 87h1M222 87h2M226 87h2M229 87h3M233 87h1M237 87h1M239 87h1M241 87h1M174 88h1M179 88h1M189 88h1M191 88h1M193 88h1M195 88h3M215 88h1M220 88h8M230 88h5M179 89h2M187 89h2M192 89h1M194 89h1M196 89h1M204 89h2M219 89h1M222 89h1M224 89h1M226 89h1M184 90h1M187 90h5M222 90h2M225 90h2M228 90h4M233 90h3M160 91h1M180 91h2M183 91h4M188 91h2M223 91h6M231 91h1M233 91h2M236 91h1M173 92h1M176 92h1M179 92h5M188 92h1M218 92h1M223 92h3M229 92h5M236 92h1M171 93h1M174 93h1M177 93h9M188 93h1M192 93h2M208 93h1M216 93h3M222 93h4M228 93h1M230 93h4M235 93h1M162 94h1M174 94h2M179 94h2M182 94h1M184 94h2M187 94h1M195 94h1M222 94h2M226 94h3M231 94h2M235 94h1M170 95h1M172 95h1M176 95h1M178 95h1M180 95h1M185 95h1M187 95h2M212 95h1M221 95h2M225 95h1M227 95h2M162 96h1M170 96h1M172 96h1M175 96h1M177 96h2M180 96h1M182 96h1M185 96h1M187 96h1M207 96h1M214 96h1M221 96h1M223 96h1M226 96h3M230 96h1M232 96h1M169 97h4M174 97h1M176 97h1M178 97h1M180 97h2M183 97h1M185 97h3M191 97h1M212 97h1M219 97h1M221 97h2M225 97h1M228 97h1M230 97h1M232 97h1M235 97h1M151 98h1M172 98h1M176 98h3M181 98h2M185 98h1M219 98h9M229 98h1M231 98h1M235 98h1M169 99h1M171 99h1M174 99h4M179 99h4M184 99h1M187 99h1M212 99h1M217 99h1M219 99h1M221 99h3M225 99h2M228 99h1M232 99h1M237 99h1M174 100h3M180 100h3M184 100h1M216 100h1M219 100h1M223 100h2M226 100h2M232 100h2M236 100h1M168 101h4M173 101h4M179 101h1M181 101h2M210 101h1M218 101h1M222 101h2M230 101h2M234 101h2M169 102h1M173 102h1M177 102h2M180 102h1M185 102h1M187 102h1M207 102h1M213 102h2M216 102h1M218 102h3M222 102h1M224 102h4M232 102h1M168 103h1M175 103h1M177 103h2M183 103h5M216 103h1M218 103h2M221 103h1M223 103h1M225 103h2M230 103h1M167 104h1M170 104h3M178 104h2M184 104h1M188 104h2M210 104h1M217 104h2M221 104h1M223 104h1M227 104h1M229 104h1M166 105h2M169 105h2M174 105h2M181 105h1M184 105h1M212 105h1M214 105h1M216 105h1M220 105h3M225 105h1M228 105h1M233 105h1M259 105h1M168 106h1M173 106h2M176 106h1M178 106h2M189 106h1M211 106h1M213 106h1M216 106h7M224 106h2M227 106h1M231 106h2M134 107h1M168 107h2M171 107h1M173 107h1M175 107h7M208 107h1M212 107h1M215 107h1M218 107h1M220 107h1M222 107h1M225 107h1M227 107h1M167 108h1M169 108h2M173 108h1M177 108h2M181 108h1M210 108h2M213 108h1M215 108h2M218 108h2M221 108h1M223 108h4M228 108h1M230 108h1M232 108h1M163 109h1M168 109h3M173 109h1M175 109h1M177 109h1M179 109h3M188 109h1M215 109h2M218 109h1M222 109h1M224 109h1M227 109h1M229 109h1M163 110h1M165 110h1M167 110h1M169 110h4M174 110h2M178 110h3M205 110h1M211 110h1M215 110h1M218 110h2M221 110h1M223 110h1M227 110h1M174 111h3M178 111h2M181 111h1M204 111h1M206 111h1M213 111h2M219 111h1M222 111h2M225 111h2M228 111h1M230 111h1M237 111h1M244 111h1M156 112h1M166 112h1M170 112h3M177 112h3M182 112h1M203 112h1M205 112h1M208 112h1M214 112h1M216 112h1M218 112h2M222 112h1M224 112h1M167 113h3M174 113h1M176 113h5M207 113h2M213 113h3M217 113h4M225 113h1M227 113h1M165 114h2M168 114h2M171 114h4M177 114h1M206 114h3M211 114h3M215 114h1M219 114h4M224 114h1M226 114h1M171 115h2M174 115h6M184 115h1M199 115h1M211 115h2M215 115h2M220 115h1M224 115h3M163 116h1M166 116h11M186 116h1M205 116h1M207 116h4M212 116h2M215 116h5M221 116h1M223 116h1M227 116h1M160 117h1M162 117h3M166 117h10M179 117h1M206 117h1M209 117h8M218 117h2M221 117h5M227 117h2M164 118h1M168 118h1M170 118h2M173 118h1M176 118h1M207 118h3M211 118h2M218 118h4M223 118h2M227 118h1M166 119h1M168 119h2M171 119h1M173 119h1M175 119h2M210 119h2M213 119h1M215 119h1M217 119h2M221 119h1M223 119h1M151 120h1M159 120h1M164 120h1M166 120h1M171 120h2M174 120h1M177 120h1M182 120h1M206 120h1M208 120h2M212 120h3M216 120h1M224 120h1M226 120h1M241 120h1M133 121h1M162 121h1M164 121h2M167 121h3M171 121h3M175 121h2M202 121h1M205 121h1M208 121h4M213 121h2M217 121h2M141 122h1M163 122h1M165 122h1M171 122h2M174 122h2M178 122h1M204 122h1M208 122h1M210 122h2M213 122h1M216 122h3M222 122h1M163 123h1M165 123h1M169 123h4M174 123h1M176 123h1M179 123h1M185 123h1M197 123h1M200 123h1M206 123h3M213 123h1M217 123h1M220 123h2M223 123h1M159 124h1M161 124h1M163 124h1M165 124h1M168 124h2M172 124h2M177 124h1M181 124h1M204 124h6M211 124h1M214 124h2M217 124h4M157 125h4M162 125h2M165 125h2M168 125h1M170 125h1M173 125h2M179 125h1M204 125h1M207 125h1M209 125h1M216 125h1M218 125h3M158 126h1M162 126h1M164 126h2M167 126h2M170 126h1M172 126h1M174 126h1M202 126h1M204 126h2M209 126h1M211 126h5M217 126h2M158 127h1M161 127h1M165 127h1M167 127h1M169 127h2M172 127h3M176 127h2M192 127h1M203 127h3M208 127h1M213 127h1M215 127h3M220 127h1M222 127h1M157 128h1M159 128h1M161 128h4M167 128h2M170 128h5M176 128h1M192 128h1M197 128h1M200 128h1M207 128h1M209 128h3M213 128h3M217 128h2M157 129h4M164 129h3M168 129h1M170 129h2M175 129h4M185 129h1M202 129h1M204 129h4M211 129h1M213 129h2M129 130h1M156 130h1M159 130h2M163 130h1M166 130h3M170 130h1M172 130h3M179 130h2M184 130h2M187 130h1M199 130h1M202 130h1M204 130h3M208 130h1M212 130h2M216 130h1M158 131h2M161 131h4M167 131h2M171 131h2M174 131h1M176 131h1M191 131h1M195 131h1M199 131h1M202 131h1M204 131h1M206 131h5M212 131h1M214 131h4M152 132h1M158 132h1M162 132h2M165 132h1M167 132h2M172 132h3M178 132h2M195 132h1M202 132h1M204 132h1M206 132h3M211 132h2M217 132h1M219 132h1M158 133h1M161 133h1M165 133h1M167 133h2M170 133h1M173 133h1M197 133h1M200 133h4M205 133h2M208 133h5M214 133h1M218 133h1M158 134h1M160 134h1M163 134h2M166 134h1M168 134h1M173 134h2M178 134h1M195 134h1M198 134h1M201 134h2M204 134h2M210 134h1M212 134h2M160 135h2M163 135h1M165 135h2M168 135h1M170 135h3M174 135h4M181 135h2M184 135h1M186 135h2M191 135h2M196 135h1M200 135h8M211 135h3M153 136h1M161 136h2M165 136h1M167 136h1M169 136h1M171 136h3M175 136h2M180 136h1M191 136h2M196 136h1M200 136h1M202 136h1M207 136h5M213 136h1M224 136h1M157 137h1M159 137h1M162 137h1M165 137h1M167 137h3M171 137h3M175 137h2M178 137h1M181 137h1M183 137h2M187 137h1M189 137h2M193 137h1M195 137h1M198 137h3M202 137h3M206 137h2M209 137h2M155 138h3M163 138h1M165 138h1M171 138h5M179 138h1M186 138h1M192 138h1M198 138h3M202 138h4M208 138h2M211 138h1M213 138h1M215 138h2M132 139h1M154 139h2M157 139h1M161 139h1M163 139h11M178 139h3M184 139h1M193 139h2M198 139h1M203 139h5M154 140h1M157 140h1M159 140h2M163 140h1M165 140h1M168 140h5M174 140h2M177 140h1M182 140h1M184 140h1M186 140h1M189 140h1M191 140h1M194 140h1M197 140h6M205 140h3M209 140h1M212 140h1M143 141h1M156 141h2M160 141h2M164 141h2M167 141h3M171 141h4M176 141h2M179 141h1M181 141h2M185 141h1M187 141h1M193 141h1M198 141h1M200 141h2M203 141h7M211 141h1M213 141h1M130 142h1M154 142h1M160 142h2M165 142h4M171 142h2M174 142h1M176 142h4M184 142h1M192 142h1M195 142h1M198 142h1M200 142h3M204 142h1M206 142h1M209 142h1M211 142h3M154 143h1M158 143h1M160 143h2M163 143h3M167 143h5M175 143h2M179 143h1M182 143h1M189 143h1M191 143h2M195 143h2M199 143h4M204 143h1M206 143h1M209 143h2M212 143h1M133 144h1M155 144h1M161 144h1M163 144h4M168 144h4M173 144h1M175 144h1M180 144h1M184 144h1M186 144h1M189 144h2M192 144h3M199 144h1M201 144h3M205 144h3M209 144h1M153 145h1M156 145h1M159 145h1M161 145h1M163 145h6M170 145h2M174 145h1M176 145h1M178 145h1M180 145h1M185 145h2M190 145h1M192 145h1M194 145h2M200 145h3M204 145h3M209 145h1M148 146h1M155 146h3M161 146h1M165 146h1M167 146h4M172 146h2M175 146h4M180 146h1M182 146h1M184 146h5M191 146h1M194 146h1M197 146h2M200 146h1M202 146h2M205 146h2M208 146h2M212 146h1M216 146h1M158 147h6M165 147h2M169 147h1M171 147h1M174 147h2M178 147h2M181 147h2M186 147h1M194 147h6M201 147h2M205 147h2M210 147h1M153 148h1M155 148h1M159 148h1M161 148h2M164 148h1M168 148h1M171 148h2M174 148h5M181 148h2M185 148h2M189 148h3M194 148h2M198 148h2M202 148h2M205 148h1M155 149h1M162 149h11M175 149h1M177 149h2M180 149h1M184 149h1M186 149h2M192 149h8M202 149h1M208 149h1M153 150h1M155 150h1M157 150h1M164 150h5M170 150h1M172 150h4M177 150h1M179 150h5M187 150h1M192 150h1M194 150h2M197 150h3M203 150h2M207 150h2M211 150h1M153 151h4M159 151h1M161 151h1M163 151h7M171 151h3M175 151h3M179 151h3M184 151h1M187 151h2M191 151h5M197 151h1M201 151h2M204 151h1M155 152h1M159 152h1M163 152h1M169 152h1M171 152h1M174 152h4M179 152h1M182 152h3M186 152h1M189 152h2M192 152h1M195 152h1M200 152h2M203 152h1M205 152h1M154 153h1M159 153h1M162 153h2M166 153h5M172 153h1M174 153h7M182 153h1M186 153h3M190 153h5M196 153h5M202 153h1M204 153h1M157 154h1M160 154h2M163 154h1M165 154h1M167 154h1M169 154h1M171 154h5M177 154h5M185 154h9M195 154h2M199 154h2M202 154h1M209 154h1M135 155h1M151 155h1M154 155h1M166 155h2M170 155h2M173 155h1M175 155h3M181 155h6M188 155h4M197 155h1M201 155h1M205 155h1M156 156h2M165 156h1M167 156h5M173 156h1M175 156h1M177 156h4M182 156h3M187 156h2M191 156h3M197 156h2M201 156h2M210 156h1M144 157h1M153 157h1M155 157h1M158 157h1M160 157h3M165 157h1M168 157h8M177 157h4M182 157h1M184 157h1M189 157h2M194 157h1M196 157h3M200 157h1M153 158h1M156 158h1M158 158h1M161 158h1M164 158h1M166 158h1M169 158h9M181 158h4M186 158h4M191 158h4M196 158h2M199 158h2M203 158h1M156 159h4M161 159h2M166 159h2M169 159h2M172 159h3M177 159h2M180 159h1M183 159h1M190 159h3M196 159h3M201 159h1M143 160h1M157 160h1M165 160h2M169 160h2M172 160h3M177 160h1M181 160h4M186 160h2M190 160h10M201 160h2M145 161h1M156 161h3M162 161h1M164 161h1M167 161h1M169 161h3M173 161h1M176 161h3M183 161h1M185 161h3M189 161h4M195 161h4M207 161h1M153 162h2M165 162h1M168 162h1M171 162h1M173 162h7M185 162h2M188 162h1M190 162h2M194 162h2M197 162h1M206 162h2M154 163h1M160 163h1M164 163h1M169 163h1M173 163h3M178 163h1M181 163h1M185 163h3M191 163h2M194 163h3M203 163h1M221 163h1M157 164h1M161 164h1M163 164h2M166 164h1M169 164h2M176 164h2M181 164h1M183 164h1M186 164h3M190 164h1M192 164h2M195 164h1M198 164h1M200 164h1M155 165h1M157 165h1M161 165h1M164 165h1M166 165h1M168 165h1M170 165h1M172 165h4M181 165h2M184 165h4M189 165h1M191 165h1M197 165h1M202 165h1M156 166h1M159 166h1M164 166h1M168 166h1M171 166h1M173 166h1M175 166h1M178 166h2M183 166h1M186 166h1M192 166h2M195 166h1M199 166h1M201 166h1M126 167h1M155 167h1M162 167h2M169 167h1M171 167h4M178 167h4M183 167h2M188 167h1M191 167h1M198 167h1M200 167h1M205 167h1M159 168h1M165 168h2M169 168h1M171 168h2M174 168h2M177 168h1M179 168h5M186 168h3M190 168h2M193 168h2M197 168h1M201 168h1M161 169h3M169 169h1M172 169h1M176 169h2M179 169h1M181 169h2M184 169h4M189 169h2M192 169h1M204 169h1M156 170h1M160 170h1M162 170h1M164 170h1M171 170h2M177 170h2M182 170h1M184 170h2M187 170h3M195 170h1M203 170h1M157 171h2M160 171h1M162 171h2M165 171h1M167 171h1M169 171h3M173 171h1M176 171h2M179 171h1M181 171h1M184 171h5M192 171h1M195 171h2M200 171h1M157 172h1M165 172h1M168 172h3M179 172h1M190 172h1M195 172h1M198 172h1M201 172h1M167 173h1M169 173h1M171 173h4M176 173h1M178 173h1M180 173h2M188 173h1M190 173h1M192 173h1M195 173h2M198 173h1M200 173h1M169 174h1M174 174h1M180 174h1M182 174h1M185 174h1M190 174h1M193 174h1M195 174h2M201 174h1M161 175h1M164 175h3M169 175h2M173 175h3M179 175h3M183 175h2M187 175h2M190 175h1M152 176h1M158 176h1M166 176h1M169 176h1M171 176h1M174 176h1M178 176h1M181 176h1M185 176h1M187 176h1M190 176h1M193 176h1M196 176h1M201 176h1M146 177h1M171 177h1M174 177h1M179 177h1M181 177h1M185 177h2M192 177h1M173 178h1M176 178h1M178 178h5M185 178h4M190 178h1M199 178h1M180 179h2M184 179h1M191 179h1M195 179h2M200 179h1M135 180h1M160 180h1M180 180h1M183 180h2M186 180h2M189 180h2M196 180h1M172 181h1M179 181h2M182 181h1M184 181h4M191 181h1M195 181h1M200 181h1M168 182h1M171 182h1M173 182h1M178 182h1M183 182h1M194 182h1M177 183h1M186 183h2M199 183h1M172 184h1M174 184h2M186 184h2M189 184h1M196 184h2M175 185h1M182 185h3M186 185h1M188 185h1M191 185h1M194 185h1M178 186h1M184 186h1M186 186h1M190 186h1M196 186h1M139 187h1M158 187h1M180 187h1M183 187h3M191 187h1M174 188h1M176 188h1M180 188h1M183 188h1M195 188h2M174 189h1M179 189h1M170 190h1M172 190h1M174 190h1M180 190h1M182 190h1M186 190h1M98 191h1M176 191h1M180 191h1M183 191h1M188 191h1M194 191h1M178 192h1M189 192h2M145 193h1M180 193h1M184 193h1M128 194h1M174 194h1M176 194h1M178 194h1M181 194h1M183 194h1M187 194h1M151 195h1M172 195h1M177 195h1M136 196h1M146 196h1M189 196h1M151 197h1M176 197h1M180 197h1M184 197h1M189 197h2M149 198h1M182 198h1M188 198h1M180 199h1M184 199h1M184 200h1M141 201h1M175 201h2M178 201h1M164 202h1M174 202h1M152 204h1M122 205h1M142 205h1M181 205h1M265 207h1M179 208h1M126 209h1M145 212h1M142 214h1M153 214h1M180 215h1M149 218h1M155 219h1M155 220h1M146 223h1M149 230h1M167 231h1M167 262h1" stroke="#8c8c8c"/>
<path d="M235 36h1M231 38h1M228 52h1M234 52h1M238 52h1M210 53h1M213 53h1M216 53h1M220 53h1M224 54h1M226 54h1M228 54h1M239 54h1M233 55h1M221 56h1M227 56h1M232 56h1M211 57h1M222 57h1M229 57h1M241 57h1M208 58h1M218 58h1M220 58h1M225 58h1M234 58h1M237 58h1M210 59h1M218 59h1M222 59h1M208 60h1M213 60h1M216 60h1M219 60h1M221 60h2M225 60h1M205 61h1M214 61h1M222 61h1M237 61h1M208 62h1M214 62h1M220 62h1M224 62h1M211 63h1M216 63h2M219 63h1M227 63h1M236 63h1M206 64h1M209 64h1M220 64h1M223 64h1M227 64h2M234 64h1M209 65h1M214 65h2M218 65h1M222 65h3M236 65h1M208 66h1M214 66h2M219 66h1M226 66h1M229 66h1M238 66h1M200 67h1M203 67h1M206 67h1M208 67h1M210 67h2M225 67h1M227 67h1M230 67h1M206 68h2M211 68h1M213 68h1M216 68h1M221 68h1M223 68h1M227 68h1M232 68h2M205 69h1M212 69h3M217 69h3M223 69h1M229 69h2M194 70h1M207 70h1M212 70h2M215 70h3M219 70h3M223 70h1M194 71h1M206 71h1M212 71h2M219 71h1M221 71h1M224 71h1M228 71h1M232 71h1M193 72h1M205 72h1M208 72h1M211 72h2M215 72h1M219 72h1M221 72h1M198 73h1M204 73h1M206 73h1M208 73h3M212 73h2M216 73h6M224 73h1M227 73h2M232 73h1M203 74h3M207 74h3M211 74h2M218 74h1M220 74h1M222 74h1M227 74h1M234 74h1M189 75h1M192 75h1M197 75h1M204 75h1M206 75h3M215 75h3M220 75h1M222 75h3M226 75h1M228 75h1M197 76h2M203 76h1M206 76h1M214 76h2M218 76h1M220 76h2M233 76h1M199 77h2M202 77h3M207 77h2M213 77h4M220 77h2M223 77h2M226 77h2M230 77h1M193 78h1M195 78h1M197 78h1M204 78h1M206 78h1M208 78h2M213 78h1M217 78h2M220 78h4M230 78h1M236 78h1M192 79h1M198 79h1M202 79h2M205 79h1M207 79h2M210 79h3M214 79h1M216 79h2M219 79h4M229 79h1M194 80h1M198 80h1M201 80h1M203 80h1M205 80h1M209 80h2M212 80h6M219 80h6M226 80h1M232 80h1M192 81h1M194 81h2M198 81h1M202 81h1M205 81h1M207 81h1M209 81h1M213 81h1M217 81h2M220 81h1M222 81h1M228 81h2M234 81h1M190 82h1M200 82h3M205 82h4M210 82h1M212 82h1M214 82h3M220 82h1M223 82h1M233 82h1M193 83h1M199 83h1M201 83h1M204 83h3M209 83h1M211 83h1M213 83h2M218 83h2M222 83h1M224 83h1M232 83h2M188 84h1M195 84h1M198 84h3M203 84h1M205 84h2M209 84h2M212 84h1M214 84h1M220 84h1M222 84h2M226 84h1M234 84h1M180 85h1M184 85h1M189 85h2M194 85h4M199 85h3M205 85h2M216 85h1M221 85h3M225 85h1M230 85h1M186 86h1M192 86h1M195 86h3M201 86h1M205 86h3M214 86h1M219 86h5M225 86h3M185 87h1M188 87h1M192 87h2M195 87h4M200 87h1M202 87h1M204 87h1M208 87h2M215 87h4M220 87h2M224 87h1M187 88h1M190 88h1M192 88h1M194 88h1M198 88h2M205 88h2M208 88h2M212 88h1M214 88h1M216 88h4M229 88h1M185 89h2M189 89h1M191 89h1M193 89h1M197 89h1M200 89h1M209 89h1M211 89h1M214 89h1M216 89h2M220 89h1M223 89h1M192 90h1M195 90h1M197 90h1M199 90h2M202 90h3M207 90h1M210 90h1M215 90h1M217 90h2M220 90h2M224 90h1M187 91h1M190 91h4M195 91h2M205 91h1M213 91h1M217 91h1M219 91h1M221 91h2M185 92h3M189 92h2M192 92h1M194 92h3M200 92h5M215 92h1M217 92h1M219 92h4M226 92h1M237 92h1M186 93h2M189 93h3M194 93h3M210 93h1M213 93h1M219 93h3M226 93h1M229 93h1M181 94h1M183 94h1M189 94h1M193 94h1M196 94h2M199 94h1M202 94h1M212 94h2M218 94h4M224 94h2M184 95h1M189 95h4M195 95h1M197 95h1M199 95h1M202 95h1M208 95h1M211 95h1M214 95h2M217 95h1M220 95h1M224 95h1M226 95h1M233 95h1M183 96h2M186 96h1M189 96h3M194 96h1M206 96h1M212 96h1M215 96h6M222 96h1M224 96h1M229 96h1M182 97h1M184 97h1M188 97h3M192 97h2M207 97h2M214 97h5M223 97h2M226 97h1M229 97h1M184 98h1M186 98h5M194 98h1M205 98h1M208 98h1M214 98h4M185 99h2M188 99h7M211 99h1M215 99h2M218 99h1M229 99h1M178 100h1M186 100h3M196 100h1M206 100h2M209 100h1M211 100h2M214 100h2M217 100h2M221 100h1M225 100h1M178 101h1M180 101h1M183 101h7M193 101h3M215 101h3M224 101h1M181 102h2M188 102h1M212 102h1M217 102h1M221 102h1M180 103h2M188 103h1M206 103h1M212 103h1M215 103h1M217 103h1M174 104h2M180 104h4M185 104h2M190 104h1M194 104h1M205 104h1M213 104h4M219 104h1M222 104h1M178 105h3M182 105h2M185 105h3M190 105h1M208 105h1M210 105h1M215 105h1M217 105h3M224 105h1M171 106h1M180 106h2M184 106h1M209 106h2M214 106h2M174 107h1M182 107h2M185 107h3M202 107h1M209 107h3M213 107h1M216 107h2M221 107h1M179 108h2M182 108h7M193 108h1M201 108h1M206 108h1M208 108h2M212 108h1M217 108h1M176 109h1M182 109h5M204 109h2M208 109h2M211 109h1M213 109h2M220 109h2M176 110h2M181 110h1M183 110h2M189 110h1M191 110h1M197 110h2M204 110h1M208 110h1M212 110h3M216 110h1M220 110h1M177 111h1M182 111h1M184 111h1M186 111h3M207 111h1M209 111h1M211 111h2M215 111h2M220 111h2M173 112h1M175 112h1M181 112h1M183 112h1M196 112h1M202 112h1M210 112h4M215 112h1M217 112h1M220 112h1M185 113h2M193 113h1M198 113h1M209 113h4M216 113h1M221 113h2M175 114h1M178 114h5M184 114h3M201 114h1M203 114h1M209 114h2M214 114h1M216 114h2M180 115h1M185 115h2M203 115h1M205 115h2M208 115h2M213 115h2M177 116h4M182 116h2M185 116h1M198 116h1M177 117h2M180 117h3M187 117h1M189 117h1M197 117h1M200 117h1M203 117h3M207 117h2M172 118h1M174 118h1M177 118h5M183 118h4M199 118h1M201 118h4M206 118h1M210 118h1M213 118h1M170 119h1M172 119h1M174 119h1M177 119h5M183 119h4M188 119h2M193 119h1M198 119h1M201 119h1M203 119h7M176 120h1M178 120h1M180 120h1M186 120h1M189 120h1M193 120h1M195 120h1M197 120h2M200 120h1M202 120h2M205 120h1M207 120h1M210 120h1M215 120h1M177 121h1M179 121h3M187 121h3M191 121h1M195 121h1M198 121h1M201 121h1M203 121h2M206 121h2M215 121h1M167 122h1M173 122h1M176 122h2M179 122h2M182 122h2M187 122h2M191 122h1M193 122h2M198 122h5M206 122h1M214 122h1M173 123h1M175 123h1M177 123h1M180 123h2M184 123h1M194 123h1M196 123h1M198 123h2M202 123h4M214 123h1M171 124h1M174 124h3M178 124h2M184 124h3M188 124h1M197 124h2M202 124h1M210 124h1M169 125h1M171 125h2M175 125h4M180 125h2M185 125h1M197 125h3M201 125h1M203 125h1M205 125h2M210 125h1M173 126h1M175 126h3M180 126h3M184 126h1M187 126h1M189 126h1M195 126h2M198 126h2M201 126h1M203 126h1M206 126h3M171 127h1M178 127h2M181 127h1M183 127h1M185 127h1M188 127h1M193 127h1M195 127h3M200 127h1M206 127h2M209 127h1M212 127h1M175 128h1M178 128h2M181 128h2M191 128h1M195 128h1M201 128h2M205 128h2M169 129h1M172 129h3M179 129h2M188 129h1M195 129h1M198 129h3M203 129h1M210 129h1M169 130h1M171 130h1M175 130h4M181 130h2M186 130h1M188 130h1M190 130h1M196 130h3M200 130h2M203 130h1M209 130h2M166 131h1M169 131h1M173 131h1M175 131h1M177 131h1M179 131h5M186 131h1M188 131h1M190 131h1M198 131h1M200 131h2M203 131h1M166 132h1M170 132h1M175 132h1M177 132h1M181 132h6M188 132h1M190 132h4M197 132h1M200 132h1M203 132h1M205 132h1M172 133h1M174 133h4M181 133h2M184 133h3M188 133h2M191 133h2M194 133h3M198 133h1M204 133h1M207 133h1M169 134h2M172 134h1M176 134h2M179 134h7M187 134h6M194 134h1M197 134h1M199 134h1M206 134h2M169 135h1M173 135h1M178 135h3M183 135h1M185 135h1M189 135h2M193 135h1M197 135h3M208 135h1M210 135h1M170 136h1M174 136h1M177 136h3M181 136h3M186 136h5M195 136h1M197 136h3M201 136h1M203 136h1M206 136h1M170 137h1M177 137h1M179 137h2M182 137h1M186 137h1M188 137h1M191 137h2M194 137h1M196 137h2M167 138h1M169 138h1M176 138h3M180 138h5M187 138h3M191 138h1M193 138h1M195 138h1M197 138h1M201 138h1M174 139h2M177 139h1M181 139h3M186 139h1M188 139h1M190 139h1M192 139h1M195 139h3M199 139h2M167 140h1M176 140h1M178 140h4M187 140h1M190 140h1M192 140h2M195 140h2M203 140h1M170 141h1M175 141h1M178 141h1M180 141h1M183 141h2M188 141h2M191 141h2M194 141h4M199 141h1M169 142h1M173 142h1M175 142h1M181 142h1M183 142h1M185 142h2M188 142h4M193 142h2M196 142h1M166 143h1M173 143h1M177 143h1M180 143h1M183 143h2M186 143h3M193 143h2M198 143h1M203 143h1M172 144h1M178 144h1M181 144h3M187 144h2M195 144h1M198 144h1M157 145h1M175 145h1M177 145h1M179 145h1M181 145h1M183 145h2M187 145h1M189 145h1M191 145h1M196 145h1M199 145h1M166 146h1M174 146h1M179 146h1M181 146h1M183 146h1M189 146h2M196 146h1M201 146h1M167 147h2M170 147h1M173 147h1M180 147h1M183 147h2M187 147h3M191 147h3M200 147h1M170 148h1M173 148h1M179 148h2M183 148h2M187 148h2M192 148h1M196 148h1M201 148h1M176 149h1M179 149h1M181 149h2M185 149h1M190 149h1M201 149h1M169 150h1M178 150h1M186 150h1M188 150h1M190 150h2M196 150h1M174 151h1M182 151h2M185 151h2M189 151h2M165 152h1M170 152h1M173 152h1M178 152h1M180 152h2M188 152h1M191 152h1M193 152h1M196 152h1M199 152h1M202 152h1M173 153h1M184 153h2M189 153h1M170 154h1M183 154h2M187 155h1M192 155h1M194 155h1M203 155h1M181 156h1M186 156h1M190 156h1M176 157h1M181 157h1M185 157h3M193 157h1M195 157h1M190 158h1M184 159h1M189 159h1M178 160h1M189 160h1M172 161h1M182 162h1M189 162h1M193 162h1M179 163h2M179 164h1M182 164h1M189 164h1M176 165h1M177 166h1M188 166h1M186 167h1M190 167h1M196 168h1M178 169h1M185 173h1M197 176h1M186 182h1M188 183h1" stroke="#ff00ff"/>
<path d="M225 70h1M207 72h1M216 72h1M211 73h1M214 73h1M216 74h2M210 75h4M219 75h1M225 75h1M202 76h1M207 76h1M211 76h1M216 76h1M219 76h1M223 76h1M209 77h1M217 77h1M210 78h1M212 78h1M214 78h1M206 79h1M209 79h1M218 79h1M225 79h1M200 80h1M206 80h3M211 80h1M218 80h1M206 81h1M208 81h1M210 81h2M216 81h1M219 81h1M203 82h2M209 82h1M211 82h1M217 82h1M203 83h1M208 83h1M212 83h1M216 83h2M221 83h1M223 83h1M228 83h1M201 84h1M204 84h1M208 84h1M211 84h1M213 84h1M215 84h1M217 84h2M202 85h3M207 85h8M217 85h3M200 86h1M202 86h2M209 86h4M215 86h3M194 87h1M199 87h1M201 87h1M205 87h3M210 87h5M219 87h1M200 88h1M202 88h1M207 88h1M210 88h2M213 88h1M195 89h1M198 89h2M201 89h3M206 89h2M212 89h2M215 89h1M218 89h1M221 89h1M185 90h1M193 90h1M196 90h1M206 90h1M208 90h2M211 90h4M216 90h1M219 90h1M194 91h1M197 91h4M202 91h3M206 91h2M210 91h3M215 91h1M218 91h1M193 92h1M197 92h3M205 92h1M207 92h3M211 92h4M216 92h1M197 93h5M203 93h2M206 93h2M209 93h1M214 93h2M188 94h1M190 94h3M194 94h1M200 94h1M203 94h1M206 94h2M209 94h3M214 94h4M193 95h1M196 95h1M198 95h1M200 95h2M204 95h1M206 95h2M210 95h1M213 95h1M216 95h1M219 95h1M188 96h1M192 96h2M195 96h5M201 96h2M208 96h4M213 96h1M195 97h5M203 97h1M205 97h2M210 97h2M213 97h1M220 97h1M191 98h1M202 98h1M204 98h1M210 98h4M199 99h1M202 99h3M206 99h1M208 99h1M210 99h1M213 99h2M189 100h3M193 100h1M195 100h1M197 100h2M200 100h2M210 100h1M213 100h1M190 101h3M200 101h1M202 101h1M205 101h1M207 101h3M211 101h4M219 101h1M183 102h2M186 102h1M191 102h4M196 102h2M204 102h3M208 102h2M211 102h1M215 102h1M182 103h1M189 103h4M199 103h1M205 103h1M208 103h4M213 103h2M187 104h1M191 104h1M193 104h1M195 104h1M197 104h1M199 104h1M203 104h1M206 104h1M208 104h1M211 104h2M220 104h1M189 105h1M192 105h1M194 105h1M197 105h2M201 105h2M204 105h1M206 105h2M209 105h1M211 105h1M182 106h1M185 106h4M192 106h1M204 106h3M208 106h1M212 106h1M184 107h1M188 107h1M190 107h1M192 107h1M197 107h1M200 107h1M203 107h5M214 107h1M189 108h2M194 108h2M198 108h3M202 108h1M205 108h1M207 108h1M214 108h1M187 109h1M191 109h1M200 109h3M206 109h2M210 109h1M212 109h1M217 109h1M182 110h1M186 110h1M188 110h1M190 110h1M192 110h1M200 110h4M206 110h1M210 110h1M180 111h1M183 111h1M190 111h1M192 111h1M195 111h1M197 111h3M201 111h3M205 111h1M208 111h1M210 111h1M180 112h1M187 112h1M189 112h2M192 112h1M194 112h2M197 112h5M204 112h1M207 112h1M209 112h1M181 113h4M187 113h1M189 113h1M192 113h1M194 113h2M197 113h1M203 113h4M183 114h1M189 114h1M194 114h1M197 114h4M202 114h1M204 114h2M181 115h3M187 115h2M192 115h1M194 115h3M200 115h3M204 115h1M207 115h1M181 116h1M184 116h1M188 116h8M197 116h1M199 116h5M206 116h1M183 117h4M191 117h4M196 117h1M198 117h2M201 117h1M217 117h1M182 118h1M187 118h4M192 118h3M196 118h2M200 118h1M205 118h1M187 119h1M190 119h3M194 119h4M199 119h2M202 119h1M181 120h1M184 120h2M187 120h2M190 120h1M192 120h1M199 120h1M201 120h1M211 120h1M182 121h5M193 121h2M196 121h2M200 121h1M181 122h1M184 122h1M186 122h1M189 122h1M195 122h3M203 122h1M205 122h1M207 122h1M178 123h1M182 123h2M186 123h3M190 123h2M193 123h1M195 123h1M201 123h1M180 124h1M182 124h2M187 124h1M190 124h2M193 124h2M196 124h1M199 124h3M203 124h1M182 125h3M186 125h1M188 125h1M190 125h3M195 125h2M200 125h1M171 126h1M178 126h2M183 126h1M185 126h2M188 126h1M190 126h5M197 126h1M200 126h1M175 127h1M180 127h1M182 127h1M184 127h1M186 127h2M190 127h2M194 127h1M198 127h2M201 127h2M177 128h1M180 128h1M183 128h8M193 128h2M196 128h1M198 128h2M203 128h2M181 129h4M186 129h2M189 129h6M196 129h2M201 129h1M183 130h1M189 130h1M192 130h1M194 130h2M184 131h2M187 131h1M189 131h1M192 131h3M196 131h1M205 131h1M180 132h1M187 132h1M189 132h1M194 132h1M196 132h1M198 132h2M178 133h3M183 133h1M187 133h1M193 133h1M175 134h1M186 134h1M193 134h1M200 134h1M203 134h1M194 135h1M184 136h2M193 136h2M174 137h1M185 137h1M185 138h1M190 138h1M194 138h1M196 138h1M185 139h1M187 139h1M191 139h1M173 140h1M185 140h1M188 140h1M204 140h1M186 141h1M190 141h1M174 143h1M181 143h1M185 143h1M190 143h1M197 143h1M177 144h1M179 144h1M185 144h1M191 144h1M197 144h1M190 147h1M193 148h1M185 150h1M179 155h1M188 159h1" stroke="#00a5ff"/>
<path d="M214 71h1M212 81h1M207 83h1M210 83h1M215 83h1M204 86h1M208 86h1M201 88h1M203 88h2M208 89h1M210 89h1M194 90h1M198 90h1M205 90h1M201 91h1M208 91h2M214 91h1M216 91h1M206 92h1M210 92h1M202 93h1M205 93h1M211 93h2M198 94h1M201 94h1M204 94h2M208 94h1M194 95h1M203 95h1M209 95h1M200 96h1M203 96h3M194 97h1M200 97h3M204 97h1M209 97h1M192 98h2M195 98h4M200 98h2M203 98h1M206 98h2M209 98h1M195 99h4M200 99h2M205 99h1M207 99h1M209 99h1M192 100h1M194 100h1M202 100h4M208 100h1M196 101h4M201 101h1M203 101h1M189 102h2M198 102h1M200 102h4M210 102h1M193 103h3M197 103h2M200 103h5M207 103h1M192 104h1M196 104h1M198 104h1M201 104h2M204 104h1M207 104h1M209 104h1M188 105h1M191 105h1M193 105h1M195 105h1M199 105h1M203 105h1M205 105h1M190 106h1M193 106h5M199 106h5M207 106h1M189 107h1M191 107h1M193 107h4M198 107h2M201 107h1M191 108h1M196 108h2M203 108h2M189 109h2M192 109h8M203 109h1M185 110h1M187 110h1M193 110h4M199 110h1M207 110h1M185 111h1M189 111h1M191 111h1M193 111h2M196 111h1M200 111h1M184 112h3M188 112h1M191 112h1M193 112h1M206 112h1M188 113h1M190 113h2M196 113h1M199 113h4M187 114h2M190 114h4M195 114h1M189 115h3M193 115h1M197 115h2M187 116h1M196 116h1M188 117h1M190 117h1M195 117h1M202 117h1M191 118h1M195 118h1M198 118h1M182 119h1M183 120h1M191 120h1M194 120h1M196 120h1M190 121h1M192 121h1M199 121h1M185 122h1M190 122h1M192 122h1M189 123h1M192 123h1M189 124h1M192 124h1M195 124h1M187 125h1M189 125h1M193 125h2M202 125h1M189 127h1M191 130h1M193 130h1M197 131h1M188 135h1M195 135h1" stroke="#00ff00"/>
<path d="M205 95h1M199 98h1M199 100h1M204 101h1M206 101h1M195 102h1M199 102h1M196 103h1M200 104h1M196 105h1M200 105h1M191 106h1M198 106h1M192 108h1M196 114h1" stroke="#ff2000"/>
</g>
<g transform="translate(632.4,877.2)">
<rect x="0" y="0" width="437.0" height="437.0" fill="none" stroke="#333" stroke-width="1.2"/>
<path d="M0 242.1H254.8L437.0 128.3M254.8 0V437.0" fill="none" stroke="#222" stroke-width="1.3"/>
<path d="M-6.5 1.0H0M-3.2 77.4H0M-3.2 58.2H0M-3.2 44.5H0M-3.2 33.9H0M-3.2 25.2H0M-3.2 17.9H0M-3.2 11.6H0M-3.2 6.0H0M-6.5 110.3H0M-3.2 186.7H0M-3.2 167.5H0M-3.2 153.8H0M-3.2 143.2H0M-3.2 134.5H0M-3.2 127.2H0M-3.2 120.9H0M-3.2 115.3H0M-6.5 219.6H0M-3.2 296.0H0M-3.2 276.8H0M-3.2 263.1H0M-3.2 252.5H0M-3.2 243.8H0M-3.2 236.5H0M-3.2 230.2H0M-3.2 224.6H0M-6.5 328.9H0M-3.2 405.3H0M-3.2 386.1H0M-3.2 372.4H0M-3.2 361.8H0M-3.2 353.1H0M-3.2 345.8H0M-3.2 339.5H0M-3.2 333.9H0M436.0 437.0v6.5M359.6 437.0v3.2M378.8 437.0v3.2M392.5 437.0v3.2M403.1 437.0v3.2M411.8 437.0v3.2M419.1 437.0v3.2M425.4 437.0v3.2M431.0 437.0v3.2M326.7 437.0v6.5M250.3 437.0v3.2M269.5 437.0v3.2M283.2 437.0v3.2M293.8 437.0v3.2M302.5 437.0v3.2M309.8 437.0v3.2M316.1 437.0v3.2M321.7 437.0v3.2M217.4 437.0v6.5M141.0 437.0v3.2M160.2 437.0v3.2M173.9 437.0v3.2M184.5 437.0v3.2M193.2 437.0v3.2M200.5 437.0v3.2M206.8 437.0v3.2M212.4 437.0v3.2M108.1 437.0v6.5M31.7 437.0v3.2M50.9 437.0v3.2M64.6 437.0v3.2M75.2 437.0v3.2M83.9 437.0v3.2M91.2 437.0v3.2M97.5 437.0v3.2M103.1 437.0v3.2" stroke="#222" stroke-width="1.1" fill="none"/>
<text x="-10.3" y="5.2" font-size="11.5" text-anchor="end" fill="#222" textLength="14.5" lengthAdjust="spacingAndGlyphs">10<tspan font-size="7" dy="-4.5">3</tspan></text>
<text x="443.5" y="457.5" font-size="11.5" text-anchor="end" fill="#222" textLength="14.5" lengthAdjust="spacingAndGlyphs">10<tspan font-size="7" dy="-4.5">3</tspan></text>
<text x="-10.3" y="114.5" font-size="11.5" text-anchor="end" fill="#222" textLength="14.5" lengthAdjust="spacingAndGlyphs">10<tspan font-size="7" dy="-4.5">2</tspan></text>
<text x="334.2" y="457.5" font-size="11.5" text-anchor="end" fill="#222" textLength="14.5" lengthAdjust="spacingAndGlyphs">10<tspan font-size="7" dy="-4.5">2</tspan></text>
<text x="-10.3" y="223.8" font-size="11.5" text-anchor="end" fill="#222" textLength="14.5" lengthAdjust="spacingAndGlyphs">10<tspan font-size="7" dy="-4.5">1</tspan></text>
<text x="224.9" y="457.5" font-size="11.5" text-anchor="end" fill="#222" textLength="14.5" lengthAdjust="spacingAndGlyphs">10<tspan font-size="7" dy="-4.5">1</tspan></text>
<text x="-10.3" y="333.1" font-size="11.5" text-anchor="end" fill="#222" textLength="14.5" lengthAdjust="spacingAndGlyphs">10<tspan font-size="7" dy="-4.5">0</tspan></text>
<text x="115.6" y="457.5" font-size="11.5" text-anchor="end" fill="#222" textLength="14.5" lengthAdjust="spacingAndGlyphs">10<tspan font-size="7" dy="-4.5">0</tspan></text>
<rect x="0.3" y="0.3" width="31.3" height="23.2" rx="3" fill="#fff" stroke="#c8c8c8" stroke-width="1.2"/>
<text x="2.3" y="16.7" font-size="17" fill="#333" textLength="24.5" lengthAdjust="spacingAndGlyphs">C-+</text>
<rect x="255.1" y="0.3" width="32.3" height="23.2" rx="3" fill="#fff" stroke="#c8c8c8" stroke-width="1.2"/>
<text x="257.1" y="16.7" font-size="17" fill="#333" textLength="25.499999999999996" lengthAdjust="spacingAndGlyphs">C++</text>
<rect x="0.3" y="242.4" width="28.8" height="23.2" rx="3" fill="#fff" stroke="#c8c8c8" stroke-width="1.2"/>
<text x="2.3" y="258.8" font-size="17" fill="#333" textLength="22.0" lengthAdjust="spacingAndGlyphs">C--</text>
</g>
<text x="850.0" y="853.9" font-size="31.7" text-anchor="middle">RFX 15 min</text>
<text x="946.6" y="1295.4" font-size="31.7" text-anchor="middle">6.46</text>
<g transform="translate(120.5,1418.3) scale(1.55)" stroke-width="1" fill="none">
<path d="M218 7h1M141 11h1M137 15h1M215 22h1M220 22h1M212 23h1M224 23h1M242 23h1M216 24h1M225 24h2M210 25h1M217 25h1M220 25h1M232 25h1M200 26h1M212 26h1M230 26h1M233 26h1M205 27h2M210 27h1M205 28h2M223 28h1M227 28h1M205 29h1M217 29h1M225 29h1M229 29h4M200 30h1M203 30h1M210 30h1M223 30h1M217 31h1M224 31h1M235 31h1M206 32h1M210 32h1M213 32h1M215 32h1M218 32h1M223 32h1M225 32h1M232 32h1M198 33h1M201 33h1M213 33h2M219 33h1M226 33h1M235 33h1M201 34h1M203 34h1M207 34h3M211 34h2M216 34h3M220 34h1M222 34h2M239 34h1M193 35h1M198 35h1M205 35h1M214 35h1M218 35h1M220 35h1M225 35h1M242 35h1M176 36h1M190 36h1M198 36h2M205 36h1M212 36h2M215 36h1M217 36h1M219 36h2M223 36h1M225 36h1M235 36h1M238 36h1M194 37h1M199 37h1M204 37h1M209 37h2M214 37h1M217 37h1M226 37h1M194 38h1M208 38h1M211 38h1M217 38h1M226 38h1M238 38h1M243 38h1M190 39h1M199 39h1M201 39h1M204 39h1M211 39h3M215 39h1M218 39h4M223 39h1M227 39h1M229 39h1M238 39h1M116 40h1M190 40h1M197 40h1M203 40h2M211 40h1M214 40h1M218 40h5M228 40h1M233 40h1M235 40h1M237 40h1M185 41h1M188 41h1M197 41h1M199 41h1M203 41h1M206 41h1M208 41h1M211 41h1M213 41h1M215 41h1M221 41h2M224 41h1M235 41h1M237 41h1M242 41h1M190 42h1M196 42h2M201 42h2M204 42h3M208 42h3M213 42h2M217 42h1M220 42h3M225 42h1M189 43h1M195 43h1M203 43h1M207 43h1M213 43h3M218 43h1M227 43h1M234 43h1M240 43h3M192 44h1M200 44h1M203 44h1M205 44h2M213 44h1M218 44h1M221 44h4M244 44h1M190 45h3M205 45h2M212 45h1M215 45h8M224 45h1M226 45h3M233 45h1M182 46h1M191 46h1M193 46h2M196 46h1M199 46h3M204 46h1M212 46h3M216 46h2M219 46h2M222 46h5M190 47h1M203 47h1M207 47h1M210 47h2M214 47h5M220 47h4M230 47h1M237 47h1M239 47h1M183 48h2M193 48h1M198 48h1M203 48h1M208 48h3M212 48h6M219 48h3M223 48h1M225 48h1M228 48h1M230 48h3M241 48h1M186 49h1M188 49h1M198 49h2M203 49h3M208 49h2M213 49h3M217 49h2M220 49h1M222 49h1M224 49h2M234 49h1M239 49h1M241 49h1M244 49h1M184 50h1M191 50h1M195 50h3M199 50h4M208 50h7M216 50h5M225 50h1M228 50h1M230 50h1M246 50h1M186 51h1M195 51h3M200 51h1M203 51h6M211 51h3M218 51h1M220 51h1M227 51h2M231 51h2M234 51h2M243 51h1M177 52h1M190 52h4M195 52h14M214 52h2M218 52h1M220 52h1M225 52h1M227 52h1M229 52h1M232 52h1M236 52h2M240 52h1M120 53h1M186 53h1M191 53h1M196 53h1M198 53h1M200 53h1M202 53h3M208 53h1M212 53h2M216 53h2M219 53h12M237 53h1M240 53h2M179 54h1M181 54h1M187 54h1M189 54h4M194 54h2M197 54h4M204 54h2M207 54h3M211 54h1M214 54h6M221 54h3M225 54h2M228 54h2M231 54h1M234 54h1M237 54h1M242 54h1M180 55h1M184 55h1M187 55h1M190 55h1M193 55h1M197 55h3M201 55h2M204 55h1M206 55h1M208 55h3M213 55h2M217 55h2M222 55h2M225 55h3M229 55h1M231 55h1M236 55h2M244 55h1M171 56h1M181 56h1M190 56h1M193 56h2M196 56h3M200 56h2M203 56h4M208 56h4M214 56h3M218 56h1M220 56h1M222 56h2M225 56h1M227 56h3M237 56h1M240 56h1M244 56h1M246 56h1M248 56h1M180 57h2M188 57h2M196 57h1M199 57h3M204 57h2M208 57h1M210 57h3M217 57h4M223 57h2M226 57h1M231 57h1M234 57h4M241 57h1M246 57h1M182 58h1M186 58h2M189 58h1M191 58h4M198 58h1M200 58h12M213 58h1M216 58h2M219 58h3M223 58h1M226 58h2M229 58h1M231 58h1M233 58h1M237 58h1M241 58h1M177 59h1M185 59h1M187 59h4M192 59h3M197 59h1M199 59h1M201 59h5M208 59h1M211 59h1M214 59h5M220 59h2M223 59h1M225 59h1M227 59h3M233 59h1M236 59h1M241 59h1M248 59h1M180 60h2M187 60h1M191 60h2M194 60h2M197 60h1M199 60h2M202 60h1M204 60h3M209 60h2M214 60h1M217 60h4M222 60h1M224 60h4M229 60h2M232 60h2M247 60h1M176 61h1M187 61h2M190 61h1M192 61h2M195 61h3M200 61h9M210 61h4M215 61h1M218 61h2M221 61h9M237 61h1M239 61h3M245 61h1M143 62h1M176 62h2M180 62h1M185 62h2M189 62h4M195 62h6M204 62h3M208 62h3M213 62h1M217 62h1M219 62h3M223 62h3M229 62h1M233 62h1M240 62h3M180 63h1M186 63h1M188 63h1M190 63h1M192 63h1M194 63h2M197 63h2M202 63h1M204 63h1M210 63h8M219 63h1M221 63h2M227 63h3M231 63h1M233 63h1M241 63h1M245 63h1M177 64h1M181 64h2M185 64h1M187 64h3M191 64h2M197 64h1M199 64h1M202 64h1M204 64h2M207 64h1M209 64h1M212 64h4M219 64h4M224 64h5M230 64h2M236 64h1M238 64h1M175 65h2M186 65h2M189 65h1M191 65h2M194 65h1M196 65h5M207 65h1M211 65h3M216 65h1M218 65h2M222 65h1M227 65h1M232 65h1M234 65h1M236 65h1M238 65h2M179 66h1M181 66h1M183 66h3M187 66h3M191 66h4M197 66h3M206 66h2M209 66h14M224 66h3M230 66h2M233 66h2M175 67h2M180 67h1M182 67h1M184 67h1M188 67h3M195 67h2M198 67h1M201 67h2M204 67h3M210 67h6M217 67h5M223 67h2M226 67h4M231 67h3M239 67h1M173 68h1M175 68h1M181 68h1M184 68h6M192 68h6M203 68h1M205 68h1M215 68h1M218 68h1M221 68h1M223 68h1M226 68h1M228 68h1M230 68h3M238 68h1M240 68h1M181 69h1M183 69h1M185 69h1M188 69h1M191 69h1M193 69h1M195 69h1M197 69h4M202 69h1M205 69h2M210 69h1M213 69h2M216 69h2M220 69h2M223 69h1M226 69h2M229 69h4M234 69h1M239 69h1M174 70h1M176 70h5M182 70h4M189 70h2M193 70h2M196 70h2M204 70h1M207 70h1M209 70h1M211 70h2M214 70h2M217 70h2M220 70h2M223 70h3M227 70h1M229 70h4M234 70h1M242 70h1M247 70h1M179 71h3M183 71h1M185 71h2M188 71h1M190 71h3M194 71h7M202 71h1M205 71h1M207 71h1M209 71h4M218 71h1M222 71h8M232 71h2M235 71h1M240 71h1M181 72h1M183 72h4M189 72h5M203 72h1M210 72h1M216 72h2M219 72h1M221 72h1M224 72h2M229 72h1M231 72h1M233 72h1M235 72h1M242 72h1M177 73h2M180 73h1M183 73h1M185 73h4M190 73h1M192 73h4M197 73h1M199 73h1M203 73h1M205 73h2M209 73h3M215 73h1M218 73h3M224 73h5M232 73h4M238 73h1M244 73h1M87 74h1M172 74h1M174 74h2M178 74h1M181 74h3M189 74h1M191 74h3M195 74h1M197 74h1M200 74h3M204 74h2M208 74h1M215 74h2M219 74h2M223 74h1M226 74h1M232 74h2M235 74h1M112 75h1M180 75h3M184 75h1M189 75h1M191 75h1M193 75h3M197 75h2M208 75h1M210 75h1M213 75h1M217 75h3M221 75h1M224 75h1M227 75h1M230 75h1M232 75h1M234 75h4M239 75h1M243 75h1M171 76h1M176 76h1M179 76h2M183 76h1M186 76h3M191 76h1M193 76h1M199 76h1M202 76h1M205 76h1M210 76h2M213 76h3M217 76h1M221 76h4M231 76h3M235 76h1M237 76h1M243 76h1M245 76h1M172 77h1M176 77h1M179 77h1M181 77h2M184 77h4M191 77h1M195 77h1M197 77h2M201 77h1M209 77h1M215 77h1M219 77h1M221 77h1M223 77h3M229 77h2M233 77h3M242 77h1M245 77h1M247 77h1M169 78h1M172 78h1M176 78h1M185 78h2M188 78h3M192 78h2M202 78h1M204 78h1M206 78h1M212 78h1M214 78h1M219 78h4M225 78h3M229 78h1M231 78h5M243 78h1M247 78h1M173 79h1M178 79h1M180 79h3M185 79h5M195 79h2M201 79h2M208 79h1M210 79h4M220 79h5M226 79h1M228 79h1M230 79h2M233 79h1M247 79h1M177 80h3M181 80h1M183 80h5M191 80h4M199 80h1M201 80h1M207 80h2M212 80h1M219 80h2M223 80h2M226 80h3M230 80h3M240 80h1M245 80h1M169 81h1M173 81h1M179 81h1M182 81h3M186 81h1M188 81h2M191 81h1M194 81h1M197 81h1M206 81h1M211 81h1M213 81h1M216 81h3M221 81h3M225 81h1M227 81h2M230 81h2M233 81h1M239 81h1M241 81h2M171 82h1M175 82h6M182 82h1M184 82h1M186 82h2M189 82h2M192 82h1M196 82h1M206 82h1M211 82h1M214 82h2M217 82h1M219 82h1M221 82h3M225 82h3M229 82h1M232 82h1M236 82h1M245 82h1M169 83h1M172 83h1M174 83h1M177 83h1M179 83h4M184 83h1M186 83h1M190 83h1M196 83h1M206 83h1M212 83h1M216 83h14M231 83h1M233 83h1M235 83h1M239 83h1M246 83h1M173 84h2M182 84h1M194 84h2M203 84h1M209 84h1M214 84h1M219 84h1M221 84h1M223 84h2M226 84h3M231 84h1M233 84h2M237 84h1M244 84h1M167 85h1M169 85h1M173 85h1M176 85h2M179 85h2M182 85h3M186 85h1M190 85h1M194 85h1M201 85h1M213 85h1M220 85h3M225 85h1M227 85h1M229 85h3M233 85h1M235 85h1M238 85h1M170 86h1M172 86h1M175 86h2M179 86h1M182 86h1M184 86h1M186 86h2M194 86h1M209 86h1M214 86h4M219 86h2M222 86h1M227 86h7M236 86h1M240 86h1M174 87h1M182 87h1M185 87h2M190 87h1M195 87h1M214 87h1M221 87h6M228 87h2M231 87h1M234 87h1M238 87h2M244 87h1M171 88h1M177 88h2M180 88h1M182 88h2M186 88h2M192 88h1M194 88h1M212 88h1M220 88h6M227 88h2M231 88h1M171 89h2M177 89h2M180 89h3M184 89h3M189 89h2M195 89h1M204 89h1M216 89h1M218 89h3M222 89h1M225 89h4M230 89h1M234 89h1M241 89h3M171 90h2M174 90h1M176 90h1M178 90h8M207 90h1M216 90h2M221 90h1M223 90h1M225 90h1M227 90h2M230 90h2M233 90h3M172 91h7M180 91h1M182 91h1M185 91h1M187 91h1M191 91h1M196 91h1M224 91h2M227 91h1M230 91h3M238 91h1M172 92h2M178 92h6M209 92h1M211 92h1M216 92h1M218 92h2M222 92h1M224 92h5M230 92h2M236 92h1M241 92h1M169 93h2M172 93h1M174 93h1M179 93h1M181 93h2M184 93h3M221 93h1M223 93h3M231 93h1M238 93h2M172 94h1M175 94h1M178 94h2M181 94h2M184 94h2M218 94h4M223 94h3M227 94h1M229 94h1M233 94h1M235 94h1M238 94h1M165 95h1M167 95h3M171 95h1M175 95h2M178 95h3M186 95h2M214 95h1M217 95h1M219 95h2M222 95h1M227 95h1M229 95h2M234 95h1M239 95h1M126 96h1M169 96h1M171 96h1M173 96h2M179 96h1M181 96h1M184 96h3M213 96h1M215 96h1M220 96h8M232 96h1M234 96h1M238 96h2M173 97h1M178 97h1M184 97h1M190 97h1M211 97h1M221 97h4M226 97h4M232 97h1M234 97h1M239 97h1M250 97h1M171 98h1M173 98h3M177 98h3M182 98h1M185 98h2M214 98h5M220 98h1M222 98h1M225 98h1M230 98h3M240 98h1M169 99h1M172 99h1M175 99h4M186 99h2M219 99h1M221 99h2M224 99h1M227 99h1M230 99h2M233 99h1M240 99h1M167 100h1M173 100h3M177 100h4M187 100h1M213 100h1M215 100h1M217 100h5M224 100h2M234 100h1M238 100h1M154 101h1M168 101h1M174 101h1M176 101h3M180 101h1M184 101h1M190 101h1M210 101h1M213 101h1M219 101h3M224 101h1M235 101h2M168 102h1M170 102h4M175 102h2M181 102h3M185 102h1M197 102h1M213 102h1M216 102h1M218 102h1M222 102h5M232 102h1M239 102h1M161 103h1M168 103h2M171 103h6M179 103h2M187 103h1M208 103h1M217 103h1M220 103h1M223 103h1M225 103h1M228 103h2M232 103h1M239 103h1M33 104h1M164 104h1M170 104h1M172 104h1M177 104h2M182 104h2M216 104h2M219 104h4M224 104h1M227 104h2M232 104h1M170 105h1M176 105h1M181 105h1M186 105h1M213 105h1M215 105h2M218 105h1M224 105h4M236 105h1M257 105h1M171 106h4M176 106h1M184 106h1M188 106h1M213 106h1M216 106h1M219 106h1M225 106h1M227 106h1M169 107h2M175 107h2M183 107h1M211 107h1M214 107h1M216 107h1M218 107h2M221 107h1M223 107h1M225 107h3M232 107h1M234 107h1M167 108h1M170 108h5M176 108h1M178 108h1M210 108h1M215 108h2M220 108h7M228 108h1M233 108h1M167 109h1M169 109h1M171 109h3M175 109h2M178 109h1M185 109h1M216 109h2M219 109h1M222 109h2M226 109h1M231 109h1M161 110h1M170 110h2M173 110h1M175 110h1M177 110h2M210 110h1M212 110h1M214 110h1M216 110h2M219 110h1M222 110h5M230 110h1M161 111h1M164 111h1M169 111h3M174 111h3M178 111h1M180 111h1M211 111h2M214 111h2M218 111h1M220 111h5M226 111h2M231 111h1M240 111h1M163 112h1M165 112h1M168 112h1M171 112h1M173 112h1M175 112h1M177 112h2M205 112h1M213 112h1M215 112h1M218 112h1M221 112h1M223 112h1M227 112h3M165 113h1M167 113h1M170 113h3M177 113h1M214 113h2M217 113h1M219 113h5M225 113h1M229 113h1M167 114h2M173 114h3M177 114h2M180 114h1M212 114h3M216 114h3M220 114h1M224 114h2M168 115h4M174 115h2M177 115h3M216 115h1M219 115h1M221 115h2M225 115h2M229 115h1M150 116h1M164 116h1M166 116h1M168 116h1M171 116h1M175 116h3M204 116h1M213 116h1M215 116h1M218 116h1M220 116h2M223 116h1M226 116h1M162 117h3M170 117h2M173 117h2M176 117h1M178 117h1M214 117h2M218 117h2M226 117h3M162 118h1M167 118h1M170 118h4M175 118h4M207 118h1M209 118h1M213 118h2M216 118h1M220 118h3M224 118h3M161 119h1M164 119h2M169 119h1M172 119h1M177 119h1M179 119h1M182 119h1M214 119h1M216 119h1M219 119h1M223 119h2M164 120h4M169 120h4M174 120h1M178 120h1M180 120h1M210 120h1M213 120h1M217 120h1M221 120h1M225 120h1M156 121h2M165 121h1M170 121h3M175 121h1M184 121h1M199 121h1M212 121h1M214 121h2M217 121h2M164 122h1M168 122h1M172 122h2M175 122h1M184 122h1M204 122h1M207 122h7M216 122h2M219 122h1M223 122h3M161 123h1M166 123h1M172 123h1M175 123h1M177 123h1M204 123h2M209 123h1M212 123h1M214 123h1M216 123h2M219 123h2M163 124h2M170 124h1M173 124h4M181 124h2M209 124h2M212 124h1M215 124h1M217 124h2M220 124h2M224 124h1M165 125h2M169 125h2M173 125h1M175 125h2M203 125h2M207 125h3M216 125h1M219 125h1M221 125h1M160 126h1M162 126h1M164 126h1M166 126h2M170 126h3M174 126h1M205 126h1M209 126h2M212 126h7M222 126h3M161 127h2M164 127h2M168 127h1M170 127h1M172 127h1M176 127h1M178 127h2M181 127h1M205 127h1M207 127h2M212 127h2M215 127h1M159 128h1M163 128h1M165 128h1M167 128h9M182 128h1M184 128h1M209 128h3M213 128h6M223 128h1M158 129h1M163 129h1M168 129h1M173 129h1M176 129h1M183 129h1M202 129h1M205 129h1M208 129h2M211 129h1M214 129h5M223 129h2M136 130h1M162 130h1M164 130h1M166 130h1M168 130h2M171 130h1M173 130h1M176 130h1M179 130h1M205 130h1M207 130h4M212 130h2M216 130h1M218 130h1M220 130h1M223 130h1M154 131h1M159 131h1M165 131h3M169 131h1M171 131h2M176 131h1M205 131h3M209 131h1M217 131h1M221 131h1M162 132h1M164 132h1M166 132h1M168 132h4M173 132h1M199 132h1M208 132h1M210 132h2M213 132h1M215 132h1M217 132h1M221 132h1M228 132h1M160 133h1M165 133h1M168 133h3M176 133h1M195 133h1M202 133h2M207 133h1M209 133h5M215 133h1M217 133h1M220 133h1M159 134h2M165 134h3M169 134h1M171 134h5M177 134h1M201 134h1M205 134h2M209 134h1M211 134h1M213 134h1M215 134h1M222 134h1M137 135h1M161 135h1M165 135h5M173 135h2M176 135h1M179 135h1M199 135h1M202 135h2M208 135h1M212 135h1M218 135h1M149 136h1M158 136h1M160 136h5M166 136h3M170 136h1M172 136h3M178 136h1M180 136h1M198 136h1M203 136h2M206 136h5M212 136h2M215 136h1M218 136h1M160 137h6M168 137h1M170 137h5M178 137h1M187 137h1M203 137h1M205 137h3M210 137h2M216 137h1M164 138h1M167 138h3M171 138h2M174 138h2M185 138h1M200 138h1M206 138h1M208 138h3M215 138h1M219 138h1M221 138h1M159 139h1M161 139h3M166 139h2M169 139h4M176 139h1M178 139h3M183 139h2M199 139h1M202 139h2M206 139h5M213 139h1M148 140h1M164 140h1M166 140h1M170 140h3M181 140h2M199 140h1M201 140h6M213 140h3M218 140h1M150 141h1M158 141h1M166 141h1M168 141h5M176 141h4M184 141h1M186 141h1M191 141h1M202 141h7M210 141h1M213 141h4M166 142h8M176 142h1M178 142h1M185 142h1M188 142h1M191 142h1M200 142h1M202 142h1M204 142h2M207 142h1M209 142h4M214 142h3M156 143h1M163 143h3M168 143h2M173 143h3M180 143h1M190 143h1M193 143h2M197 143h1M199 143h1M202 143h1M204 143h1M210 143h3M214 143h2M158 144h3M163 144h1M166 144h2M169 144h1M172 144h1M175 144h3M179 144h1M192 144h1M199 144h10M211 144h1M214 144h1M163 145h1M166 145h1M168 145h3M172 145h6M182 145h1M187 145h1M192 145h2M195 145h1M197 145h1M200 145h1M210 145h1M217 145h1M140 146h1M155 146h1M158 146h1M161 146h1M168 146h2M173 146h2M178 146h1M181 146h2M185 146h1M188 146h1M193 146h2M196 146h1M199 146h2M202 146h2M208 146h1M211 146h1M213 146h1M169 147h1M172 147h1M174 147h3M182 147h1M185 147h2M188 147h4M194 147h4M204 147h1M206 147h2M209 147h1M212 147h1M74 148h1M156 148h1M159 148h1M169 148h7M178 148h1M180 148h1M183 148h1M185 148h3M194 148h1M196 148h1M201 148h2M206 148h1M210 148h1M154 149h1M166 149h1M168 149h2M175 149h2M180 149h1M188 149h1M190 149h1M192 149h1M202 149h3M208 149h1M162 150h1M164 150h1M169 150h1M171 150h1M173 150h3M178 150h2M183 150h1M186 150h1M190 150h2M193 150h1M195 150h3M199 150h2M206 150h1M210 150h1M159 151h2M164 151h4M171 151h1M174 151h2M178 151h1M180 151h1M182 151h1M184 151h1M187 151h1M190 151h2M194 151h1M196 151h4M202 151h1M205 151h2M208 151h3M163 152h1M165 152h2M169 152h2M172 152h2M178 152h1M182 152h1M186 152h1M188 152h1M190 152h1M194 152h1M197 152h1M199 152h1M201 152h1M206 152h1M161 153h1M163 153h2M173 153h2M178 153h1M185 153h1M187 153h1M189 153h3M193 153h1M195 153h2M199 153h1M203 153h1M205 153h2M163 154h2M168 154h1M172 154h1M182 154h1M184 154h6M192 154h2M198 154h3M202 154h1M204 154h2M207 154h3M131 155h1M160 155h4M165 155h1M168 155h3M172 155h8M181 155h2M184 155h2M187 155h1M189 155h1M191 155h3M196 155h1M199 155h1M203 155h1M205 155h2M208 155h1M210 155h1M164 156h1M166 156h1M168 156h1M170 156h1M174 156h2M178 156h2M181 156h2M184 156h1M188 156h2M191 156h2M195 156h1M198 156h1M200 156h1M202 156h2M209 156h1M211 156h1M159 157h2M162 157h1M165 157h3M169 157h3M178 157h1M181 157h2M184 157h7M192 157h4M197 157h2M201 157h1M203 157h1M205 157h1M207 157h1M209 157h1M151 158h1M165 158h1M167 158h4M172 158h1M175 158h3M180 158h1M189 158h1M192 158h1M194 158h2M198 158h1M200 158h3M207 158h3M160 159h1M167 159h1M169 159h1M172 159h1M174 159h1M176 159h1M178 159h1M181 159h3M185 159h4M190 159h2M194 159h2M198 159h3M202 159h1M158 160h1M164 160h1M168 160h3M172 160h1M174 160h3M178 160h5M184 160h3M188 160h1M190 160h6M197 160h3M201 160h2M205 160h1M164 161h1M166 161h1M168 161h4M176 161h6M183 161h2M186 161h2M190 161h2M194 161h1M196 161h1M202 161h1M204 161h1M210 161h1M152 162h1M164 162h2M169 162h3M173 162h1M175 162h2M180 162h1M182 162h2M186 162h1M188 162h6M197 162h1M207 162h1M161 163h1M164 163h1M168 163h1M172 163h3M177 163h1M179 163h1M181 163h1M185 163h3M189 163h3M194 163h1M196 163h1M201 163h3M160 164h1M163 164h1M165 164h1M169 164h1M171 164h1M173 164h1M175 164h1M177 164h1M181 164h2M184 164h1M187 164h1M191 164h1M195 164h2M198 164h3M205 164h1M159 165h1M161 165h1M165 165h8M174 165h1M177 165h2M180 165h6M187 165h5M194 165h2M198 165h1M201 165h2M163 166h1M165 166h1M169 166h2M172 166h1M175 166h3M179 166h2M182 166h16M202 166h1M116 167h1M163 167h1M165 167h1M171 167h1M173 167h2M179 167h1M181 167h1M184 167h2M187 167h1M191 167h1M193 167h1M195 167h1M198 167h1M221 167h1M161 168h1M163 168h1M166 168h1M169 168h3M174 168h3M180 168h2M183 168h4M190 168h3M194 168h1M198 168h3M163 169h2M166 169h1M169 169h6M177 169h1M183 169h1M185 169h2M189 169h1M193 169h2M198 169h2M162 170h1M164 170h2M167 170h1M169 170h1M171 170h1M173 170h4M178 170h2M181 170h1M183 170h1M187 170h1M189 170h3M197 170h2M201 170h1M100 171h1M143 171h1M162 171h1M164 171h1M170 171h1M174 171h2M179 171h2M186 171h2M189 171h1M192 171h2M195 171h1M197 171h2M162 172h3M169 172h4M175 172h1M181 172h2M184 172h5M190 172h2M194 172h1M198 172h2M162 173h1M167 173h2M170 173h12M183 173h1M185 173h2M188 173h2M191 173h2M194 173h1M196 173h1M157 174h1M163 174h1M165 174h2M170 174h1M172 174h2M175 174h1M178 174h1M180 174h1M182 174h2M185 174h1M188 174h3M198 174h1M159 175h1M167 175h1M171 175h1M174 175h1M176 175h1M178 175h1M181 175h1M183 175h1M186 175h2M189 175h1M191 175h1M194 175h1M158 176h1M162 176h1M166 176h3M172 176h1M174 176h1M176 176h3M180 176h3M184 176h1M186 176h1M189 176h2M159 177h1M166 177h1M169 177h2M174 177h5M180 177h2M192 177h1M195 177h1M160 178h2M164 178h2M171 178h1M174 178h1M176 178h1M178 178h4M183 178h1M186 178h1M189 178h2M198 178h1M152 179h1M168 179h1M170 179h4M176 179h2M182 179h1M184 179h1M186 179h3M191 179h2M165 180h1M168 180h1M170 180h3M175 180h2M179 180h3M183 180h2M186 180h1M191 180h1M152 181h1M166 181h1M174 181h3M178 181h2M181 181h1M189 181h1M192 181h1M164 182h1M168 182h2M171 182h4M176 182h2M181 182h1M185 182h1M188 182h1M168 183h2M172 183h4M177 183h1M180 183h2M183 183h2M187 183h1M191 183h1M224 183h1M162 184h1M165 184h1M169 184h1M175 184h1M177 184h1M180 184h2M183 184h1M187 184h1M192 184h1M161 185h1M171 185h1M173 185h3M178 185h1M180 185h2M184 185h1M151 186h1M164 186h1M166 186h1M170 186h2M175 186h4M180 186h1M183 186h1M186 186h3M171 187h2M177 187h1M198 187h1M167 188h1M169 188h2M172 188h2M177 188h1M188 188h1M160 189h2M168 189h2M176 189h3M183 189h1M161 190h1M167 190h2M172 190h1M178 190h1M182 190h1M161 191h1M167 191h1M171 191h2M176 191h1M178 191h1M180 191h1M184 191h1M200 191h1M166 192h1M168 192h1M171 192h1M173 192h1M180 192h1M186 192h1M159 193h1M169 193h1M171 193h1M173 193h1M177 193h1M162 194h2M166 194h1M141 195h1M163 195h1M170 195h1M172 195h1M177 195h1M183 195h1M168 196h1M171 196h1M173 196h1M175 196h1M177 196h1M202 196h1M89 197h1M146 197h1M164 197h1M168 197h1M178 197h2M162 198h1M175 198h1M180 198h2M159 199h1M181 199h1M163 200h1M170 200h1M175 200h1M161 201h1M176 202h1M172 204h1M157 205h1M172 205h1M175 205h1M207 205h1M166 207h1M165 208h1M160 210h1M164 210h1M179 211h1M166 216h1M164 222h1M183 224h1M168 230h1M155 231h1M140 264h1M145 277h1" stroke="#8c8c8c"/>
<path d="M209 39h1M200 41h1M219 44h1M197 45h1M201 45h1M214 45h1M205 46h1M207 46h1M199 47h2M212 47h1M235 47h1M202 48h1M206 48h2M227 48h1M212 49h1M233 49h1M215 50h1M221 50h1M222 51h1M210 52h1M212 52h1M219 52h1M221 52h1M223 52h1M205 53h1M211 53h1M215 53h1M201 54h1M203 54h1M210 54h1M213 54h1M224 54h1M211 55h2M215 55h2M220 55h1M230 55h1M202 56h1M212 56h1M219 56h1M206 57h1M213 57h2M221 57h2M225 57h1M197 58h1M212 58h1M214 58h2M222 58h1M224 58h1M228 58h1M195 59h1M200 59h1M209 59h1M212 59h2M222 59h1M224 59h1M208 60h1M212 60h1M215 60h1M221 60h1M223 60h1M186 61h1M198 61h1M214 61h1M216 61h2M201 62h2M211 62h2M215 62h1M218 62h1M196 63h1M200 63h2M206 63h2M209 63h1M218 63h1M220 63h1M223 63h2M232 63h1M190 64h1M194 64h1M196 64h1M198 64h1M201 64h1M203 64h1M206 64h1M208 64h1M210 64h2M216 64h3M190 65h1M193 65h1M201 65h4M206 65h1M208 65h1M210 65h1M214 65h1M217 65h1M220 65h2M223 65h1M195 66h1M200 66h3M204 66h2M208 66h1M223 66h1M227 66h2M191 67h1M193 67h1M199 67h2M203 67h1M207 67h2M225 67h1M191 68h1M198 68h5M204 68h1M206 68h1M210 68h5M216 68h2M219 68h1M222 68h1M229 68h1M186 69h1M194 69h1M196 69h1M201 69h1M203 69h2M207 69h3M211 69h2M215 69h1M218 69h2M222 69h1M225 69h1M191 70h2M198 70h6M205 70h2M208 70h1M210 70h1M213 70h1M216 70h1M219 70h1M222 70h1M193 71h1M201 71h1M203 71h1M208 71h1M213 71h5M219 71h3M194 72h1M196 72h2M199 72h1M201 72h2M205 72h1M207 72h3M211 72h5M220 72h1M223 72h1M228 72h1M238 72h1M184 73h1M191 73h1M198 73h1M200 73h3M207 73h2M212 73h3M216 73h2M221 73h3M229 73h2M180 74h1M184 74h1M188 74h1M190 74h1M194 74h1M198 74h2M206 74h2M209 74h6M218 74h1M221 74h2M224 74h2M227 74h1M190 75h1M192 75h1M199 75h6M206 75h2M211 75h2M214 75h2M220 75h1M222 75h1M225 75h1M181 76h1M189 76h2M192 76h1M196 76h1M198 76h1M201 76h1M203 76h2M206 76h4M212 76h1M216 76h1M218 76h3M225 76h1M227 76h1M188 77h1M190 77h1M192 77h3M196 77h1M199 77h2M202 77h3M206 77h3M210 77h5M217 77h1M220 77h1M222 77h1M226 77h1M183 78h1M191 78h1M194 78h2M197 78h2M200 78h2M203 78h1M207 78h5M213 78h1M215 78h4M223 78h1M184 79h1M190 79h5M197 79h2M200 79h1M204 79h1M206 79h2M209 79h1M215 79h5M227 79h1M188 80h3M196 80h3M200 80h1M202 80h3M206 80h1M209 80h3M213 80h1M215 80h3M225 80h1M229 80h1M185 81h1M193 81h1M195 81h2M198 81h1M200 81h4M205 81h1M207 81h4M212 81h1M220 81h1M224 81h1M226 81h1M183 82h1M188 82h1M191 82h1M194 82h2M197 82h3M202 82h2M208 82h2M212 82h2M216 82h1M218 82h1M220 82h1M224 82h1M187 83h3M191 83h1M193 83h1M198 83h3M202 83h1M204 83h2M207 83h3M211 83h1M215 83h1M181 84h1M183 84h4M188 84h2M191 84h3M196 84h1M198 84h2M202 84h1M204 84h1M206 84h1M208 84h1M210 84h2M213 84h1M215 84h3M220 84h1M185 85h1M187 85h3M191 85h3M196 85h2M200 85h1M202 85h2M206 85h1M208 85h2M212 85h1M214 85h5M223 85h1M181 86h1M189 86h1M191 86h2M195 86h2M198 86h1M203 86h1M206 86h1M208 86h1M211 86h2M221 86h1M224 86h1M226 86h1M178 87h1M184 87h1M187 87h3M191 87h3M196 87h1M198 87h2M202 87h4M208 87h6M215 87h2M218 87h2M227 87h1M232 87h1M170 88h1M174 88h1M179 88h1M184 88h2M188 88h1M190 88h2M193 88h1M195 88h1M197 88h1M199 88h1M203 88h3M207 88h2M211 88h1M214 88h1M216 88h1M218 88h2M229 88h1M183 89h1M188 89h1M191 89h1M193 89h1M201 89h1M207 89h4M213 89h1M215 89h1M221 89h1M223 89h2M177 90h1M186 90h1M188 90h2M191 90h3M197 90h2M200 90h1M202 90h1M209 90h2M212 90h4M218 90h2M224 90h1M179 91h1M181 91h1M183 91h2M186 91h1M188 91h2M192 91h4M197 91h2M201 91h2M207 91h15M223 91h1M226 91h1M184 92h1M186 92h1M188 92h1M190 92h1M193 92h3M198 92h3M203 92h1M210 92h1M212 92h1M214 92h2M223 92h1M178 93h1M180 93h1M187 93h1M189 93h2M199 93h2M203 93h1M210 93h1M215 93h3M219 93h2M222 93h1M180 94h1M183 94h1M186 94h4M195 94h1M200 94h2M205 94h1M208 94h1M210 94h2M213 94h3M217 94h1M222 94h1M226 94h1M172 95h1M181 95h5M188 95h3M192 95h2M198 95h1M201 95h2M209 95h1M212 95h2M215 95h2M225 95h1M228 95h1M183 96h1M187 96h4M192 96h2M203 96h1M207 96h1M209 96h1M216 96h2M219 96h1M228 96h1M176 97h1M179 97h2M183 97h1M185 97h1M187 97h3M194 97h1M202 97h1M205 97h1M209 97h1M212 97h1M215 97h6M176 98h1M180 98h2M183 98h2M188 98h2M192 98h1M195 98h1M200 98h1M209 98h2M212 98h2M219 98h1M179 99h1M181 99h2M184 99h2M189 99h3M193 99h2M202 99h1M204 99h1M209 99h2M213 99h1M215 99h1M217 99h2M220 99h1M223 99h1M226 99h1M181 100h2M184 100h1M186 100h1M188 100h1M191 100h1M193 100h1M209 100h4M214 100h1M216 100h1M179 101h1M181 101h1M183 101h1M185 101h1M187 101h3M200 101h1M203 101h1M206 101h1M208 101h1M211 101h1M214 101h2M217 101h2M223 101h1M177 102h2M180 102h1M184 102h1M186 102h3M191 102h1M195 102h1M198 102h1M203 102h1M208 102h1M210 102h1M214 102h2M217 102h1M219 102h2M178 103h1M181 103h1M183 103h2M188 103h1M210 103h1M212 103h1M214 103h3M218 103h2M222 103h1M175 104h1M179 104h3M184 104h1M190 104h1M204 104h1M206 104h1M210 104h3M214 104h2M218 104h1M171 105h1M179 105h2M182 105h2M185 105h1M205 105h1M209 105h3M214 105h1M217 105h1M177 106h1M179 106h3M183 106h1M186 106h2M211 106h1M214 106h2M217 106h2M220 106h1M223 106h2M173 107h2M177 107h3M181 107h1M184 107h1M191 107h1M210 107h1M212 107h1M215 107h1M217 107h1M222 107h1M175 108h1M179 108h3M185 108h1M205 108h5M214 108h1M229 108h1M174 109h1M177 109h1M179 109h3M184 109h1M187 109h2M209 109h1M211 109h2M214 109h2M220 109h1M174 110h1M176 110h1M179 110h6M188 110h1M204 110h1M209 110h1M211 110h1M213 110h1M215 110h1M179 111h1M184 111h2M187 111h2M191 111h1M207 111h1M216 111h1M172 112h1M174 112h1M179 112h5M186 112h2M193 112h1M208 112h5M214 112h1M216 112h2M219 112h1M168 113h1M173 113h4M179 113h1M181 113h1M184 113h1M188 113h1M197 113h1M205 113h1M208 113h1M211 113h3M216 113h1M176 114h1M179 114h1M181 114h3M185 114h1M202 114h1M204 114h1M206 114h4M211 114h1M173 115h1M180 115h2M183 115h1M185 115h2M196 115h1M204 115h2M208 115h8M223 115h1M173 116h1M179 116h1M183 116h1M205 116h8M219 116h1M168 117h1M172 117h1M175 117h1M179 117h3M186 117h1M189 117h1M204 117h1M207 117h2M210 117h4M181 118h1M183 118h1M185 118h1M192 118h1M197 118h1M204 118h2M210 118h1M212 118h1M215 118h1M218 118h1M174 119h1M178 119h1M180 119h2M184 119h1M187 119h1M200 119h4M205 119h1M207 119h1M210 119h4M215 119h1M217 119h1M173 120h1M177 120h1M179 120h1M182 120h2M204 120h6M211 120h2M218 120h1M174 121h1M176 121h3M180 121h1M182 121h2M191 121h1M202 121h1M204 121h3M208 121h4M213 121h1M167 122h1M174 122h1M177 122h5M205 122h1M214 122h1M218 122h1M222 122h1M169 123h2M173 123h2M176 123h1M178 123h2M181 123h2M189 123h1M197 123h1M199 123h2M202 123h1M207 123h2M210 123h1M213 123h1M215 123h1M171 124h1M177 124h2M180 124h1M183 124h1M186 124h1M193 124h1M200 124h1M205 124h1M207 124h2M211 124h1M213 124h2M219 124h1M177 125h6M186 125h1M194 125h1M200 125h1M202 125h1M205 125h2M210 125h2M169 126h1M173 126h1M175 126h4M180 126h1M183 126h1M185 126h1M189 126h1M194 126h1M198 126h1M201 126h4M206 126h3M211 126h1M169 127h1M171 127h1M173 127h2M180 127h1M182 127h1M184 127h1M197 127h1M200 127h1M202 127h1M204 127h1M206 127h1M209 127h1M211 127h1M176 128h1M178 128h2M181 128h1M183 128h1M188 128h1M196 128h2M200 128h4M205 128h3M212 128h1M170 129h3M174 129h2M177 129h2M181 129h1M184 129h1M186 129h1M188 129h2M201 129h1M207 129h1M165 130h1M170 130h1M172 130h1M174 130h2M177 130h1M180 130h1M184 130h4M192 130h1M196 130h1M199 130h1M202 130h2M206 130h1M211 130h1M173 131h3M177 131h3M182 131h4M187 131h1M191 131h1M198 131h3M202 131h3M208 131h1M210 131h1M165 132h1M172 132h1M175 132h4M181 132h1M185 132h2M188 132h1M190 132h2M198 132h1M200 132h7M209 132h1M172 133h2M175 133h1M177 133h1M182 133h2M186 133h2M191 133h1M194 133h1M198 133h2M201 133h1M204 133h1M206 133h1M168 134h1M176 134h1M179 134h1M181 134h1M183 134h2M187 134h1M192 134h1M194 134h3M200 134h1M203 134h2M207 134h2M172 135h1M175 135h1M177 135h2M180 135h1M182 135h2M191 135h2M197 135h2M200 135h2M204 135h4M210 135h1M169 136h1M176 136h2M181 136h1M185 136h3M191 136h3M196 136h1M199 136h1M202 136h1M205 136h1M169 137h1M176 137h2M179 137h1M181 137h2M185 137h1M188 137h5M195 137h2M198 137h2M204 137h1M170 138h1M173 138h1M176 138h8M186 138h1M190 138h2M195 138h2M198 138h2M202 138h1M204 138h1M168 139h1M173 139h3M177 139h1M181 139h2M188 139h2M191 139h6M198 139h1M201 139h1M204 139h1M212 139h1M173 140h5M180 140h1M183 140h1M185 140h1M188 140h2M191 140h2M195 140h2M198 140h1M200 140h1M209 140h1M212 140h1M175 141h1M181 141h1M183 141h1M188 141h2M192 141h1M194 141h2M197 141h5M174 142h2M177 142h1M179 142h4M184 142h1M189 142h1M192 142h3M196 142h2M199 142h1M201 142h1M203 142h1M172 143h1M176 143h4M181 143h3M185 143h1M188 143h1M191 143h2M195 143h2M200 143h2M203 143h1M207 143h1M209 143h1M178 144h1M183 144h5M189 144h3M193 144h1M195 144h1M197 144h2M165 145h1M178 145h4M183 145h3M188 145h4M194 145h1M196 145h1M199 145h1M202 145h1M171 146h1M175 146h3M179 146h2M183 146h1M186 146h2M191 146h2M195 146h1M197 146h2M201 146h1M173 147h1M177 147h4M183 147h2M187 147h1M192 147h2M198 147h2M201 147h1M168 148h1M176 148h2M179 148h1M181 148h2M188 148h6M195 148h1M197 148h4M167 149h1M171 149h1M177 149h3M182 149h4M187 149h1M189 149h1M193 149h3M197 149h1M199 149h1M165 150h2M170 150h1M172 150h1M176 150h2M180 150h2M184 150h2M187 150h3M192 150h1M194 150h1M198 150h1M201 150h1M170 151h1M176 151h2M181 151h1M186 151h1M188 151h2M192 151h2M195 151h1M203 151h1M174 152h2M177 152h1M179 152h3M183 152h1M187 152h1M189 152h1M192 152h2M196 152h1M171 153h2M175 153h3M179 153h4M184 153h1M192 153h1M197 153h1M174 154h1M177 154h5M183 154h1M190 154h2M194 154h3M186 155h1M188 155h1M190 155h1M195 155h1M200 155h2M165 156h1M173 156h1M176 156h1M186 156h2M193 156h1M163 157h1M172 157h5M179 157h2M183 157h1M199 157h2M166 158h1M174 158h1M178 158h2M181 158h4M186 158h3M190 158h1M197 158h1M203 158h1M166 159h1M170 159h1M173 159h1M177 159h1M179 159h1M184 159h1M189 159h1M192 159h1M196 159h1M177 160h1M183 160h1M189 160h1M173 161h3M182 161h1M185 161h1M172 162h1M177 162h2M181 162h1M184 162h1M194 162h1M206 162h1M169 163h1M171 163h1M176 163h1M183 163h1M193 163h1M164 164h1M174 164h1M179 164h1M186 164h1M190 164h1M192 164h1M175 165h2M179 165h1M166 166h1M174 166h1M178 166h1M181 166h1M175 167h1M186 167h1M162 168h1M178 168h1M182 168h1M187 168h1M189 168h1M178 169h2M188 169h1M182 170h1M185 170h1M177 171h1M182 171h1M184 171h1M183 172h1M174 174h1M176 174h1M182 175h1M184 175h1M169 176h1M179 176h1M182 178h1M178 179h1M174 180h1M169 181h1M172 184h1M176 184h1M177 185h1" stroke="#ff00ff"/>
<path d="M194 57h1M203 62h1M195 64h1M195 65h1M209 68h1M220 68h1M204 71h1M195 72h1M198 72h1M204 72h1M206 72h1M204 73h1M203 74h1M187 75h1M196 75h1M205 75h1M200 76h1M189 77h1M205 77h1M218 77h1M196 78h1M199 78h1M199 79h1M203 79h1M205 79h1M214 79h1M225 79h1M195 80h1M214 80h1M192 81h1M199 81h1M204 81h1M214 81h2M219 81h1M193 82h1M200 82h2M204 82h2M207 82h1M210 82h1M185 83h1M192 83h1M194 83h2M197 83h1M201 83h1M203 83h1M213 83h2M190 84h1M197 84h1M200 84h2M205 84h1M207 84h1M212 84h1M218 84h1M222 84h1M195 85h1M198 85h2M204 85h1M210 85h2M185 86h1M190 86h1M193 86h1M197 86h1M199 86h1M201 86h2M204 86h2M210 86h1M213 86h1M218 86h1M194 87h1M197 87h1M200 87h2M206 87h2M217 87h1M196 88h1M198 88h1M200 88h3M206 88h1M209 88h2M213 88h1M215 88h1M194 89h1M196 89h2M199 89h2M202 89h2M205 89h2M211 89h2M214 89h1M190 90h1M194 90h3M199 90h1M201 90h1M203 90h4M208 90h1M211 90h1M220 90h1M199 91h1M203 91h4M185 92h1M187 92h1M189 92h1M191 92h2M196 92h2M201 92h1M205 92h1M207 92h2M217 92h1M188 93h1M193 93h6M201 93h2M204 93h6M211 93h4M218 93h1M190 94h5M196 94h1M202 94h2M206 94h2M209 94h1M212 94h1M216 94h1M191 95h1M194 95h4M199 95h2M203 95h6M210 95h1M182 96h1M191 96h1M194 96h1M196 96h3M200 96h3M204 96h1M206 96h1M208 96h1M210 96h3M182 97h1M186 97h1M191 97h3M195 97h2M198 97h2M201 97h1M208 97h1M210 97h1M213 97h2M187 98h1M190 98h2M193 98h1M196 98h1M199 98h1M201 98h1M203 98h3M207 98h2M211 98h1M188 99h1M192 99h1M195 99h2M198 99h3M205 99h1M207 99h2M211 99h2M214 99h1M183 100h1M185 100h1M189 100h2M194 100h1M196 100h1M198 100h5M205 100h4M182 101h1M186 101h1M191 101h3M195 101h1M201 101h2M204 101h1M207 101h1M209 101h1M212 101h1M216 101h1M189 102h2M199 102h1M201 102h1M205 102h2M209 102h1M211 102h2M182 103h1M185 103h1M189 103h4M195 103h1M197 103h1M201 103h2M206 103h2M209 103h1M213 103h1M185 104h3M189 104h1M192 104h2M195 104h1M203 104h1M207 104h3M213 104h1M184 105h1M187 105h1M189 105h1M191 105h1M193 105h1M195 105h4M201 105h1M206 105h3M212 105h1M178 106h1M182 106h1M185 106h1M189 106h3M200 106h1M202 106h2M205 106h3M210 106h1M212 106h1M180 107h1M182 107h1M185 107h3M189 107h2M196 107h2M199 107h2M202 107h3M206 107h4M213 107h1M177 108h1M182 108h3M186 108h2M189 108h1M199 108h2M204 108h1M211 108h3M182 109h2M186 109h1M189 109h2M194 109h2M201 109h1M204 109h5M210 109h1M213 109h1M185 110h2M192 110h1M194 110h1M196 110h1M199 110h1M201 110h1M203 110h1M205 110h4M182 111h2M186 111h1M198 111h1M202 111h1M204 111h3M208 111h3M213 111h1M176 112h1M184 112h2M188 112h2M196 112h1M201 112h4M206 112h2M178 113h1M180 113h1M182 113h2M185 113h2M190 113h1M192 113h1M194 113h1M196 113h1M198 113h1M201 113h4M206 113h2M209 113h2M184 114h1M186 114h2M192 114h2M200 114h1M203 114h1M210 114h1M182 115h1M184 115h1M187 115h1M190 115h2M195 115h1M200 115h2M203 115h1M207 115h1M178 116h1M180 116h3M184 116h3M190 116h1M194 116h2M198 116h1M203 116h1M214 116h1M177 117h1M182 117h1M184 117h2M187 117h2M190 117h1M192 117h4M201 117h2M205 117h2M209 117h1M179 118h2M182 118h1M184 118h1M186 118h1M188 118h1M195 118h1M198 118h2M201 118h3M206 118h1M208 118h1M175 119h1M183 119h1M185 119h2M190 119h1M196 119h1M198 119h1M204 119h1M206 119h1M208 119h2M181 120h1M185 120h2M189 120h2M194 120h1M198 120h2M201 120h3M179 121h1M181 121h1M185 121h5M192 121h1M196 121h3M200 121h1M203 121h1M207 121h1M182 122h2M185 122h4M190 122h1M193 122h1M197 122h7M206 122h1M180 123h1M183 123h6M190 123h3M195 123h2M201 123h1M203 123h1M206 123h1M211 123h1M184 124h2M191 124h1M194 124h2M198 124h2M201 124h4M206 124h1M183 125h3M188 125h3M195 125h3M199 125h1M201 125h1M181 126h2M184 126h1M186 126h2M190 126h2M196 126h2M199 126h2M175 127h1M177 127h1M183 127h1M185 127h1M187 127h1M190 127h2M193 127h3M198 127h2M201 127h1M177 128h1M180 128h1M186 128h1M191 128h1M193 128h1M195 128h1M198 128h1M204 128h1M208 128h1M179 129h2M182 129h1M185 129h1M187 129h1M190 129h2M193 129h8M203 129h2M206 129h1M178 130h1M181 130h3M188 130h4M194 130h2M197 130h2M200 130h2M204 130h1M180 131h2M186 131h1M188 131h1M190 131h1M192 131h5M201 131h1M179 132h2M182 132h3M187 132h1M189 132h1M193 132h5M174 133h1M178 133h3M184 133h2M188 133h2M192 133h2M196 133h2M200 133h1M205 133h1M208 133h1M178 134h1M180 134h1M185 134h2M189 134h2M193 134h1M197 134h3M202 134h1M181 135h1M184 135h7M194 135h2M179 136h1M182 136h3M189 136h1M194 136h2M197 136h1M201 136h1M175 137h1M180 137h1M183 137h2M186 137h1M193 137h2M197 137h1M200 137h3M184 138h1M187 138h3M192 138h3M197 138h1M201 138h1M203 138h1M185 139h3M190 139h1M197 139h1M178 140h2M184 140h1M186 140h2M190 140h1M193 140h2M173 141h1M180 141h1M182 141h1M185 141h1M187 141h1M190 141h1M193 141h1M196 141h1M183 142h1M186 142h2M190 142h1M198 142h1M184 143h1M186 143h1M198 143h1M181 144h2M188 144h1M194 144h1M186 145h1M184 146h1M189 146h2M184 148h1M181 149h1M186 149h1M179 151h1M183 151h1M185 151h1M184 152h2M183 153h1M183 155h1M180 156h1M183 156h1M184 163h1" stroke="#00a5ff"/>
<path d="M209 75h1M205 78h1M218 80h1M210 83h1M207 85h1M200 86h1M207 86h1M198 89h1M187 90h1M200 91h1M202 92h1M204 92h1M206 92h1M191 93h2M197 94h3M204 94h1M211 95h1M195 96h1M199 96h1M205 96h1M214 96h1M197 97h1M200 97h1M203 97h2M206 97h2M197 98h2M202 98h1M206 98h1M197 99h1M201 99h1M203 99h1M206 99h1M192 100h1M195 100h1M197 100h1M203 100h2M196 101h4M205 101h1M192 102h2M196 102h1M200 102h1M202 102h1M204 102h1M207 102h1M186 103h1M193 103h2M196 103h1M198 103h3M203 103h3M211 103h1M188 104h1M191 104h1M194 104h1M196 104h2M199 104h4M205 104h1M188 105h1M190 105h1M192 105h1M194 105h1M199 105h1M202 105h3M192 106h4M197 106h3M201 106h1M204 106h1M208 106h2M188 107h1M192 107h4M201 107h1M205 107h1M188 108h1M190 108h6M197 108h2M201 108h3M191 109h3M199 109h2M202 109h2M187 110h1M189 110h3M193 110h1M197 110h2M200 110h1M189 111h2M192 111h2M195 111h3M199 111h3M203 111h1M190 112h3M197 112h4M187 113h1M189 113h1M191 113h1M193 113h1M195 113h1M199 113h1M189 114h3M194 114h6M201 114h1M205 114h1M188 115h2M192 115h3M197 115h3M202 115h1M206 115h1M187 116h3M191 116h3M196 116h2M199 116h4M183 117h1M191 117h1M196 117h5M203 117h1M187 118h1M189 118h3M196 118h1M200 118h1M188 119h2M191 119h5M197 119h1M199 119h1M184 120h1M187 120h2M191 120h3M195 120h3M200 120h1M190 121h1M194 121h2M201 121h1M189 122h1M191 122h2M194 122h3M193 123h2M198 123h1M187 124h4M196 124h1M187 125h1M191 125h1M193 125h1M198 125h1M188 126h1M192 126h1M195 126h1M186 127h1M188 127h2M192 127h1M196 127h1M185 128h1M187 128h1M190 128h1M192 128h1M194 128h1M199 128h1M192 129h1M193 130h1M189 131h1M197 131h1M192 132h1M181 133h1M190 133h1M182 134h1M188 134h1M191 134h1M193 135h1M196 135h1M188 136h1M190 136h1M187 143h1M196 144h1" stroke="#00ff00"/>
<path d="M194 98h1M194 101h1M194 102h1M198 104h1M200 105h1M196 106h1M198 107h1M196 108h1M196 109h3M195 110h1M202 110h1M194 111h1M194 112h2M200 113h1M188 114h1M193 118h2M193 121h1M192 124h1M197 124h1M192 125h1M193 126h1M189 128h1" stroke="#ff2000"/>
</g>
<g transform="translate(120.5,1417.5)">
<rect x="0" y="0" width="437.0" height="437.0" fill="none" stroke="#333" stroke-width="1.2"/>
<path d="M0 242.1H254.8L437.0 128.3M254.8 0V437.0" fill="none" stroke="#222" stroke-width="1.3"/>
<path d="M-6.5 1.0H0M-3.2 77.4H0M-3.2 58.2H0M-3.2 44.5H0M-3.2 33.9H0M-3.2 25.2H0M-3.2 17.9H0M-3.2 11.6H0M-3.2 6.0H0M-6.5 110.3H0M-3.2 186.7H0M-3.2 167.5H0M-3.2 153.8H0M-3.2 143.2H0M-3.2 134.5H0M-3.2 127.2H0M-3.2 120.9H0M-3.2 115.3H0M-6.5 219.6H0M-3.2 296.0H0M-3.2 276.8H0M-3.2 263.1H0M-3.2 252.5H0M-3.2 243.8H0M-3.2 236.5H0M-3.2 230.2H0M-3.2 224.6H0M-6.5 328.9H0M-3.2 405.3H0M-3.2 386.1H0M-3.2 372.4H0M-3.2 361.8H0M-3.2 353.1H0M-3.2 345.8H0M-3.2 339.5H0M-3.2 333.9H0M436.0 437.0v6.5M359.6 437.0v3.2M378.8 437.0v3.2M392.5 437.0v3.2M403.1 437.0v3.2M411.8 437.0v3.2M419.1 437.0v3.2M425.4 437.0v3.2M431.0 437.0v3.2M326.7 437.0v6.5M250.3 437.0v3.2M269.5 437.0v3.2M283.2 437.0v3.2M293.8 437.0v3.2M302.5 437.0v3.2M309.8 437.0v3.2M316.1 437.0v3.2M321.7 437.0v3.2M217.4 437.0v6.5M141.0 437.0v3.2M160.2 437.0v3.2M173.9 437.0v3.2M184.5 437.0v3.2M193.2 437.0v3.2M200.5 437.0v3.2M206.8 437.0v3.2M212.4 437.0v3.2M108.1 437.0v6.5M31.7 437.0v3.2M50.9 437.0v3.2M64.6 437.0v3.2M75.2 437.0v3.2M83.9 437.0v3.2M91.2 437.0v3.2M97.5 437.0v3.2M103.1 437.0v3.2" stroke="#222" stroke-width="1.1" fill="none"/>
<text x="-10.3" y="5.2" font-size="11.5" text-anchor="end" fill="#222" textLength="14.5" lengthAdjust="spacingAndGlyphs">10<tspan font-size="7" dy="-4.5">3</tspan></text>
<text x="443.5" y="457.5" font-size="11.5" text-anchor="end" fill="#222" textLength="14.5" lengthAdjust="spacingAndGlyphs">10<tspan font-size="7" dy="-4.5">3</tspan></text>
<text x="-10.3" y="114.5" font-size="11.5" text-anchor="end" fill="#222" textLength="14.5" lengthAdjust="spacingAndGlyphs">10<tspan font-size="7" dy="-4.5">2</tspan></text>
<text x="334.2" y="457.5" font-size="11.5" text-anchor="end" fill="#222" textLength="14.5" lengthAdjust="spacingAndGlyphs">10<tspan font-size="7" dy="-4.5">2</tspan></text>
<text x="-10.3" y="223.8" font-size="11.5" text-anchor="end" fill="#222" textLength="14.5" lengthAdjust="spacingAndGlyphs">10<tspan font-size="7" dy="-4.5">1</tspan></text>
<text x="224.9" y="457.5" font-size="11.5" text-anchor="end" fill="#222" textLength="14.5" lengthAdjust="spacingAndGlyphs">10<tspan font-size="7" dy="-4.5">1</tspan></text>
<text x="-10.3" y="333.1" font-size="11.5" text-anchor="end" fill="#222" textLength="14.5" lengthAdjust="spacingAndGlyphs">10<tspan font-size="7" dy="-4.5">0</tspan></text>
<text x="115.6" y="457.5" font-size="11.5" text-anchor="end" fill="#222" textLength="14.5" lengthAdjust="spacingAndGlyphs">10<tspan font-size="7" dy="-4.5">0</tspan></text>
<rect x="0.3" y="0.3" width="31.3" height="23.2" rx="3" fill="#fff" stroke="#c8c8c8" stroke-width="1.2"/>
<text x="2.3" y="16.7" font-size="17" fill="#333" textLength="24.5" lengthAdjust="spacingAndGlyphs">C-+</text>
<rect x="255.1" y="0.3" width="32.3" height="23.2" rx="3" fill="#fff" stroke="#c8c8c8" stroke-width="1.2"/>
<text x="257.1" y="16.7" font-size="17" fill="#333" textLength="25.499999999999996" lengthAdjust="spacingAndGlyphs">C++</text>
<rect x="0.3" y="242.4" width="28.8" height="23.2" rx="3" fill="#fff" stroke="#c8c8c8" stroke-width="1.2"/>
<text x="2.3" y="258.8" font-size="17" fill="#333" textLength="22.0" lengthAdjust="spacingAndGlyphs">C--</text>
</g>
<text x="352.6" y="1395.7" font-size="31.7" text-anchor="middle">RFX 30 min</text>
<text x="439.5" y="1833.4" font-size="31.7" text-anchor="middle">18.14</text>
<g transform="translate(632.4,1417.0) scale(1.55)" stroke-width="1" fill="none">
<path d="M203 3h1M158 9h1M239 14h1M100 17h1M231 17h1M224 20h1M204 23h1M223 23h1M227 23h1M235 24h1M216 25h2M219 25h2M215 26h1M220 26h1M230 26h1M213 27h1M215 27h1M222 27h2M233 27h1M235 27h1M243 27h1M245 27h1M204 28h1M212 28h1M214 28h1M217 28h5M226 28h1M207 29h2M221 29h2M231 29h2M216 30h1M229 30h1M206 31h1M209 31h1M212 31h2M215 31h1M219 31h1M221 31h3M226 31h2M216 32h7M225 32h1M230 32h2M237 32h1M205 33h1M209 33h3M214 33h1M216 33h2M225 33h3M230 33h1M237 33h2M203 34h1M210 34h3M215 34h1M218 34h4M223 34h2M226 34h1M229 34h1M201 35h2M204 35h1M210 35h1M212 35h5M218 35h1M220 35h1M225 35h1M240 35h2M190 36h1M200 36h1M205 36h3M213 36h1M217 36h1M219 36h2M222 36h1M224 36h2M233 36h1M237 36h1M202 37h1M204 37h1M206 37h1M209 37h1M212 37h1M214 37h2M217 37h1M219 37h1M222 37h3M232 37h2M237 37h1M177 38h1M201 38h1M205 38h4M210 38h1M212 38h2M218 38h1M220 38h2M226 38h1M228 38h3M232 38h2M235 38h1M169 39h1M204 39h2M209 39h1M212 39h3M216 39h1M220 39h4M226 39h1M229 39h4M238 39h1M241 39h1M243 39h1M198 40h2M201 40h1M206 40h1M209 40h1M213 40h1M215 40h1M219 40h1M222 40h2M225 40h5M232 40h1M234 40h2M195 41h2M199 41h1M201 41h1M203 41h1M207 41h3M214 41h2M218 41h1M220 41h2M226 41h1M228 41h1M233 41h1M235 41h1M239 41h2M200 42h1M207 42h1M211 42h1M213 42h1M216 42h1M220 42h1M222 42h2M225 42h1M232 42h2M235 42h1M241 42h1M187 43h1M195 43h1M201 43h2M209 43h1M212 43h3M217 43h13M231 43h2M241 43h1M245 43h1M192 44h2M198 44h4M204 44h1M206 44h1M208 44h2M211 44h3M215 44h2M218 44h3M222 44h4M228 44h1M230 44h2M233 44h1M235 44h1M239 44h1M164 45h1M194 45h1M198 45h1M200 45h7M209 45h1M211 45h6M219 45h3M223 45h2M226 45h1M236 45h1M240 45h1M190 46h1M193 46h1M199 46h1M202 46h3M207 46h1M209 46h1M211 46h13M225 46h9M235 46h2M239 46h1M198 47h1M202 47h2M208 47h1M210 47h1M212 47h3M217 47h2M222 47h5M228 47h1M230 47h1M232 47h1M234 47h1M236 47h1M238 47h2M191 48h2M194 48h1M196 48h1M198 48h1M202 48h3M209 48h1M212 48h3M216 48h1M218 48h2M222 48h2M225 48h5M235 48h1M242 48h1M244 48h1M193 49h1M201 49h3M205 49h1M210 49h1M214 49h3M218 49h2M222 49h2M225 49h1M227 49h6M236 49h1M242 49h1M190 50h2M194 50h2M201 50h1M203 50h1M206 50h2M209 50h1M212 50h1M214 50h4M221 50h2M226 50h3M231 50h2M234 50h6M187 51h1M189 51h1M191 51h1M195 51h1M198 51h4M203 51h2M206 51h1M209 51h2M213 51h2M217 51h1M219 51h5M225 51h1M227 51h2M230 51h1M235 51h2M239 51h1M191 52h2M195 52h1M198 52h4M205 52h3M209 52h2M212 52h5M218 52h5M224 52h1M226 52h5M233 52h3M237 52h1M187 53h1M189 53h1M192 53h1M195 53h2M198 53h1M200 53h1M203 53h1M205 53h3M210 53h1M212 53h2M218 53h1M220 53h1M222 53h2M225 53h1M230 53h1M233 53h1M235 53h3M245 53h1M155 54h1M193 54h1M195 54h2M198 54h1M205 54h3M209 54h1M211 54h2M214 54h1M216 54h1M219 54h5M226 54h2M229 54h2M233 54h1M236 54h2M188 55h1M190 55h2M193 55h2M197 55h3M201 55h1M206 55h1M209 55h3M213 55h2M216 55h2M221 55h1M224 55h1M227 55h2M230 55h1M232 55h1M234 55h1M237 55h1M239 55h1M178 56h1M189 56h5M198 56h3M202 56h1M204 56h2M207 56h6M215 56h2M218 56h1M220 56h1M222 56h2M226 56h4M231 56h5M239 56h1M242 56h2M185 57h1M188 57h1M191 57h1M195 57h4M200 57h1M203 57h2M207 57h1M209 57h1M211 57h2M215 57h2M218 57h1M220 57h1M222 57h4M227 57h2M230 57h1M232 57h1M235 57h1M238 57h1M188 58h3M192 58h2M196 58h3M200 58h6M207 58h1M210 58h5M219 58h1M221 58h4M226 58h1M230 58h8M241 58h1M170 59h1M184 59h1M186 59h3M193 59h6M200 59h1M202 59h1M204 59h1M207 59h2M210 59h1M212 59h2M215 59h1M217 59h1M220 59h2M224 59h1M226 59h8M237 59h1M246 59h1M173 60h1M190 60h3M194 60h2M200 60h1M202 60h3M206 60h1M208 60h2M211 60h2M214 60h2M220 60h3M225 60h3M229 60h4M237 60h1M239 60h1M246 60h1M183 61h1M192 61h1M194 61h2M203 61h1M206 61h1M209 61h4M215 61h1M218 61h3M223 61h1M225 61h2M228 61h3M232 61h2M235 61h1M237 61h4M243 61h1M171 62h1M185 62h2M191 62h2M194 62h2M197 62h3M204 62h3M209 62h3M215 62h1M219 62h1M221 62h2M225 62h1M228 62h2M231 62h1M233 62h2M238 62h1M242 62h1M182 63h1M188 63h1M191 63h1M194 63h5M201 63h1M204 63h1M212 63h1M217 63h1M223 63h2M226 63h2M230 63h5M238 63h2M180 64h1M188 64h1M190 64h2M194 64h3M198 64h1M200 64h1M202 64h2M206 64h1M208 64h4M215 64h1M217 64h2M221 64h2M224 64h1M227 64h4M232 64h4M184 65h1M186 65h2M189 65h1M191 65h1M193 65h1M195 65h5M201 65h1M210 65h1M214 65h1M217 65h1M219 65h2M222 65h6M231 65h2M234 65h4M240 65h1M242 65h1M179 66h1M186 66h3M190 66h2M193 66h2M196 66h1M199 66h2M202 66h1M208 66h1M211 66h1M214 66h1M218 66h3M222 66h3M226 66h1M230 66h3M236 66h1M238 66h1M240 66h1M243 66h1M180 67h3M187 67h1M189 67h1M191 67h1M196 67h3M206 67h1M214 67h1M217 67h2M222 67h4M227 67h1M230 67h5M238 67h1M181 68h3M185 68h2M188 68h3M193 68h11M205 68h1M211 68h1M216 68h5M223 68h2M226 68h1M228 68h3M233 68h2M236 68h3M179 69h2M183 69h1M185 69h1M189 69h5M195 69h1M197 69h1M203 69h1M205 69h2M208 69h2M212 69h1M214 69h1M221 69h1M225 69h2M229 69h2M233 69h2M236 69h1M239 69h1M258 69h1M178 70h1M183 70h4M188 70h1M191 70h1M193 70h3M199 70h3M203 70h1M205 70h3M211 70h2M214 70h4M221 70h1M223 70h1M226 70h1M229 70h5M237 70h1M240 70h1M153 71h1M160 71h1M178 71h2M183 71h1M186 71h1M188 71h3M193 71h4M199 71h1M207 71h1M210 71h1M216 71h1M219 71h4M225 71h5M231 71h1M233 71h1M238 71h1M241 71h1M177 72h1M180 72h1M183 72h4M188 72h5M199 72h1M205 72h1M207 72h2M210 72h1M214 72h1M216 72h1M218 72h1M223 72h1M226 72h1M228 72h1M231 72h1M233 72h4M238 72h1M182 73h1M184 73h11M196 73h1M198 73h1M201 73h1M215 73h1M221 73h2M224 73h2M229 73h2M232 73h2M236 73h1M242 73h1M176 74h1M179 74h1M181 74h1M184 74h2M188 74h1M191 74h2M196 74h1M200 74h2M215 74h2M218 74h3M224 74h1M226 74h1M229 74h1M233 74h1M237 74h1M241 74h1M181 75h2M185 75h2M191 75h1M193 75h2M197 75h3M203 75h1M206 75h1M209 75h2M221 75h2M226 75h1M230 75h3M236 75h1M239 75h1M138 76h1M175 76h2M182 76h1M184 76h1M188 76h3M193 76h3M200 76h1M202 76h1M216 76h1M218 76h1M220 76h5M228 76h3M233 76h1M235 76h1M237 76h3M177 77h2M181 77h1M183 77h1M187 77h1M190 77h7M199 77h1M205 77h1M207 77h1M213 77h1M217 77h2M220 77h2M223 77h4M228 77h1M231 77h7M241 77h1M174 78h1M180 78h1M182 78h2M185 78h3M189 78h3M197 78h1M206 78h1M209 78h1M212 78h1M215 78h1M217 78h2M220 78h1M222 78h1M225 78h4M232 78h1M234 78h1M236 78h2M240 78h1M179 79h3M184 79h1M188 79h2M196 79h1M204 79h2M219 79h1M225 79h3M230 79h2M234 79h1M236 79h1M179 80h1M182 80h2M185 80h1M187 80h4M192 80h3M203 80h1M210 80h1M215 80h1M217 80h1M220 80h1M222 80h8M231 80h3M235 80h2M176 81h3M180 81h1M183 81h1M185 81h2M188 81h2M193 81h2M214 81h1M222 81h2M226 81h3M231 81h4M237 81h1M113 82h1M162 82h1M173 82h3M178 82h1M181 82h1M183 82h1M190 82h2M194 82h3M200 82h2M218 82h2M223 82h1M225 82h3M236 82h1M145 83h1M179 83h1M181 83h2M186 83h1M188 83h1M190 83h1M195 83h4M207 83h1M213 83h1M218 83h2M221 83h4M226 83h1M228 83h3M236 83h2M173 84h1M179 84h10M215 84h1M222 84h3M226 84h1M229 84h2M232 84h1M234 84h1M236 84h2M173 85h2M180 85h1M182 85h5M191 85h1M193 85h1M197 85h1M214 85h1M218 85h1M222 85h3M227 85h3M231 85h1M233 85h4M274 85h1M142 86h1M174 86h2M178 86h1M182 86h1M184 86h2M187 86h1M194 86h2M220 86h3M225 86h1M227 86h2M230 86h6M238 86h2M170 87h3M174 87h1M177 87h1M180 87h1M182 87h1M185 87h2M198 87h1M205 87h1M211 87h1M221 87h2M226 87h2M229 87h3M233 87h1M235 87h1M238 87h2M171 88h1M174 88h1M176 88h1M180 88h5M186 88h1M196 88h2M216 88h1M219 88h2M227 88h1M229 88h1M231 88h2M234 88h1M238 88h1M249 88h1M172 89h3M176 89h1M178 89h2M181 89h1M183 89h2M192 89h1M211 89h1M224 89h2M229 89h5M235 89h3M239 89h2M154 90h1M172 90h1M174 90h2M177 90h2M180 90h1M182 90h3M186 90h3M192 90h2M196 90h1M223 90h3M227 90h1M229 90h1M232 90h1M235 90h1M238 90h1M171 91h1M173 91h3M177 91h5M185 91h1M189 91h1M198 91h1M213 91h1M218 91h1M227 91h3M231 91h3M236 91h1M171 92h1M177 92h2M181 92h1M183 92h5M218 92h1M220 92h1M223 92h1M225 92h2M229 92h1M233 92h2M169 93h1M173 93h1M175 93h1M177 93h1M179 93h4M189 93h1M207 93h1M210 93h1M222 93h1M224 93h2M227 93h1M230 93h2M233 93h1M235 93h4M169 94h1M173 94h3M178 94h2M182 94h3M219 94h1M222 94h11M235 94h4M177 95h7M185 95h1M187 95h1M220 95h3M224 95h1M226 95h4M231 95h2M236 95h1M168 96h1M175 96h3M179 96h5M187 96h1M215 96h1M220 96h1M223 96h2M228 96h1M232 96h2M124 97h1M169 97h1M173 97h1M175 97h3M181 97h4M221 97h3M227 97h3M231 97h1M233 97h1M235 97h2M238 97h1M167 98h1M172 98h3M180 98h2M184 98h2M225 98h1M227 98h3M236 98h1M161 99h1M170 99h1M175 99h2M179 99h1M181 99h2M220 99h2M225 99h1M227 99h1M229 99h1M234 99h2M238 99h1M146 100h1M161 100h1M167 100h2M170 100h1M172 100h1M174 100h1M176 100h1M178 100h1M180 100h1M182 100h1M184 100h1M216 100h1M223 100h6M230 100h1M232 100h1M235 100h3M119 101h1M168 101h1M170 101h1M173 101h4M178 101h1M180 101h3M212 101h1M214 101h1M217 101h1M220 101h5M226 101h1M228 101h1M237 101h1M167 102h1M171 102h1M173 102h1M175 102h1M178 102h1M180 102h2M183 102h1M221 102h1M223 102h1M226 102h1M228 102h3M232 102h4M237 102h1M168 103h1M175 103h2M180 103h1M213 103h1M215 103h1M219 103h1M222 103h5M228 103h1M230 103h1M232 103h1M234 103h3M170 104h4M175 104h1M184 104h1M216 104h1M220 104h1M222 104h1M224 104h3M228 104h4M233 104h2M168 105h1M172 105h1M174 105h1M177 105h2M181 105h1M211 105h1M224 105h1M227 105h1M230 105h2M233 105h2M160 106h1M165 106h1M170 106h3M176 106h1M178 106h6M215 106h1M221 106h1M224 106h1M226 106h3M230 106h2M233 106h2M238 106h1M165 107h1M170 107h1M174 107h2M178 107h2M181 107h1M219 107h1M222 107h2M226 107h1M228 107h1M230 107h1M161 108h1M166 108h2M169 108h1M172 108h1M178 108h1M180 108h1M184 108h1M210 108h1M217 108h1M223 108h4M228 108h1M231 108h3M156 109h1M170 109h6M177 109h1M209 109h1M216 109h2M221 109h1M223 109h3M227 109h3M231 109h1M235 109h2M168 110h1M172 110h4M177 110h2M181 110h1M183 110h1M220 110h2M223 110h2M226 110h2M31 111h1M161 111h1M164 111h1M168 111h8M179 111h1M210 111h1M215 111h2M220 111h1M222 111h2M225 111h2M233 111h1M159 112h1M169 112h1M171 112h1M174 112h3M185 112h1M216 112h2M221 112h1M223 112h1M226 112h6M245 112h1M164 113h1M167 113h3M171 113h1M173 113h2M177 113h1M212 113h1M215 113h1M227 113h4M162 114h1M165 114h1M167 114h2M170 114h1M172 114h4M178 114h1M182 114h1M211 114h1M214 114h1M216 114h1M219 114h6M226 114h3M232 114h1M165 115h1M169 115h1M172 115h3M179 115h1M209 115h1M214 115h1M216 115h2M220 115h3M226 115h3M235 115h1M163 116h1M165 116h1M167 116h2M172 116h2M175 116h2M180 116h1M211 116h1M213 116h2M220 116h1M222 116h2M226 116h4M231 116h1M233 116h1M164 117h1M167 117h1M169 117h2M172 117h1M174 117h4M180 117h1M214 117h1M217 117h1M219 117h1M221 117h1M228 117h1M230 117h1M232 117h1M164 118h2M167 118h1M172 118h1M175 118h2M180 118h1M215 118h1M217 118h1M219 118h4M230 118h2M161 119h1M163 119h3M168 119h1M170 119h2M173 119h1M175 119h1M209 119h1M218 119h1M221 119h2M225 119h3M167 120h1M169 120h1M171 120h1M175 120h1M207 120h1M217 120h1M219 120h2M222 120h1M224 120h2M227 120h1M141 121h1M149 121h1M163 121h2M166 121h1M171 121h1M177 121h1M211 121h1M213 121h4M218 121h6M231 121h1M162 122h1M167 122h1M169 122h3M174 122h1M176 122h1M212 122h1M216 122h1M219 122h1M221 122h1M225 122h1M227 122h1M230 122h2M237 122h1M165 123h2M168 123h1M170 123h1M173 123h1M176 123h1M178 123h1M180 123h1M192 123h1M216 123h2M223 123h3M227 123h2M232 123h1M162 124h1M166 124h2M170 124h5M176 124h1M187 124h1M210 124h1M214 124h1M218 124h1M220 124h1M222 124h3M226 124h4M162 125h1M165 125h1M169 125h1M172 125h1M174 125h5M182 125h1M209 125h1M212 125h1M214 125h1M217 125h2M221 125h2M225 125h4M230 125h1M148 126h1M165 126h4M170 126h1M172 126h1M203 126h1M211 126h1M214 126h1M217 126h1M223 126h1M229 126h2M163 127h2M168 127h1M170 127h1M174 127h1M176 127h1M181 127h1M205 127h1M213 127h1M215 127h1M218 127h3M222 127h2M226 127h2M231 127h1M165 128h1M167 128h1M172 128h3M187 128h1M211 128h2M214 128h1M217 128h1M219 128h1M221 128h4M226 128h1M229 128h1M162 129h2M168 129h1M170 129h3M174 129h1M180 129h1M210 129h2M213 129h1M216 129h3M220 129h1M222 129h1M224 129h1M226 129h2M230 129h1M162 130h2M166 130h1M168 130h4M173 130h1M202 130h1M206 130h1M209 130h2M215 130h1M217 130h1M219 130h4M224 130h2M232 130h1M163 131h1M166 131h1M168 131h1M171 131h1M176 131h1M179 131h1M190 131h1M193 131h1M201 131h1M208 131h1M213 131h2M216 131h3M220 131h2M224 131h1M230 131h1M148 132h1M161 132h2M164 132h5M171 132h1M173 132h1M179 132h1M182 132h1M208 132h1M211 132h2M214 132h2M217 132h1M219 132h2M223 132h1M226 132h1M160 133h3M164 133h2M170 133h2M174 133h1M176 133h1M187 133h1M203 133h1M210 133h3M214 133h3M218 133h2M222 133h3M226 133h2M160 134h1M164 134h2M167 134h2M173 134h1M177 134h1M179 134h1M210 134h1M212 134h2M216 134h3M220 134h2M224 134h1M226 134h2M151 135h1M161 135h1M165 135h1M167 135h2M170 135h5M209 135h1M212 135h5M218 135h4M223 135h1M226 135h1M228 135h1M147 136h1M164 136h2M170 136h1M176 136h1M178 136h1M202 136h1M207 136h2M214 136h1M216 136h1M219 136h2M222 136h1M155 137h1M159 137h1M165 137h2M169 137h1M171 137h1M173 137h4M208 137h1M213 137h2M217 137h3M221 137h2M225 137h1M229 137h1M234 137h1M161 138h5M167 138h1M169 138h2M172 138h3M176 138h1M179 138h1M207 138h2M215 138h1M217 138h5M225 138h1M227 138h1M154 139h1M161 139h1M163 139h1M165 139h3M169 139h1M171 139h1M174 139h1M176 139h1M183 139h1M209 139h1M211 139h1M214 139h1M218 139h1M220 139h2M224 139h2M160 140h1M164 140h3M168 140h1M172 140h1M174 140h1M176 140h1M178 140h2M181 140h1M208 140h2M211 140h1M215 140h2M218 140h2M227 140h2M159 141h1M161 141h2M165 141h1M170 141h4M175 141h1M177 141h1M182 141h1M202 141h1M204 141h1M207 141h1M209 141h2M214 141h4M220 141h4M225 141h1M228 141h1M160 142h3M166 142h3M171 142h1M173 142h1M175 142h1M178 142h1M182 142h1M184 142h1M205 142h1M210 142h2M218 142h3M223 142h1M226 142h1M162 143h1M169 143h1M172 143h2M175 143h1M177 143h1M195 143h1M210 143h3M215 143h2M218 143h1M220 143h2M223 143h2M157 144h1M160 144h1M163 144h2M166 144h4M171 144h1M177 144h1M191 144h1M202 144h2M205 144h3M209 144h1M212 144h3M216 144h1M218 144h2M221 144h1M225 144h1M161 145h1M163 145h1M166 145h2M169 145h1M171 145h1M173 145h1M175 145h1M203 145h1M208 145h2M211 145h3M216 145h1M218 145h1M223 145h1M164 146h1M166 146h4M174 146h1M177 146h1M186 146h1M207 146h2M210 146h2M214 146h1M217 146h3M222 146h1M225 146h1M160 147h4M166 147h1M168 147h3M172 147h1M174 147h1M202 147h1M208 147h5M214 147h3M220 147h1M159 148h1M164 148h1M167 148h1M172 148h1M174 148h1M176 148h1M179 148h2M197 148h1M210 148h1M213 148h1M215 148h1M217 148h1M220 148h1M223 148h1M225 148h1M161 149h1M163 149h3M168 149h2M171 149h5M177 149h1M179 149h1M206 149h8M215 149h1M217 149h1M219 149h1M143 150h1M161 150h1M163 150h4M169 150h2M172 150h2M175 150h2M180 150h1M201 150h1M203 150h2M208 150h1M210 150h1M212 150h2M215 150h1M217 150h1M220 150h1M223 150h2M161 151h2M165 151h1M167 151h2M170 151h2M184 151h1M198 151h1M203 151h1M205 151h1M210 151h1M213 151h2M216 151h1M218 151h1M155 152h1M166 152h1M175 152h1M177 152h1M199 152h1M205 152h1M207 152h1M209 152h1M211 152h1M213 152h1M217 152h1M221 152h1M223 152h1M137 153h1M150 153h1M154 153h1M163 153h2M166 153h1M169 153h8M181 153h1M186 153h1M194 153h1M198 153h2M201 153h1M203 153h1M205 153h1M209 153h3M213 153h1M215 153h2M225 153h1M159 154h3M165 154h1M171 154h2M174 154h2M186 154h1M207 154h1M209 154h3M213 154h1M218 154h1M220 154h3M160 155h2M164 155h1M166 155h2M169 155h1M171 155h3M179 155h2M183 155h1M193 155h1M197 155h1M202 155h2M205 155h1M207 155h3M212 155h2M215 155h1M122 156h1M160 156h1M166 156h3M170 156h1M172 156h1M175 156h1M177 156h1M198 156h2M201 156h2M204 156h1M207 156h3M212 156h1M215 156h1M219 156h1M162 157h1M164 157h3M168 157h3M172 157h1M175 157h1M177 157h1M189 157h1M196 157h1M202 157h9M212 157h2M215 157h1M159 158h1M162 158h1M165 158h1M167 158h1M170 158h2M173 158h3M178 158h1M181 158h2M184 158h1M186 158h1M195 158h1M201 158h1M203 158h3M207 158h2M212 158h2M219 158h1M221 158h2M159 159h1M161 159h1M163 159h7M171 159h1M176 159h1M178 159h1M190 159h1M195 159h2M201 159h2M208 159h1M210 159h1M212 159h1M215 159h1M159 160h1M163 160h1M167 160h2M173 160h2M177 160h2M189 160h2M199 160h3M205 160h2M208 160h2M211 160h1M216 160h1M163 161h1M168 161h3M172 161h2M176 161h2M180 161h1M183 161h1M185 161h1M199 161h1M201 161h1M203 161h7M213 161h1M217 161h1M164 162h1M169 162h3M174 162h1M179 162h2M184 162h1M186 162h1M194 162h1M196 162h1M200 162h8M210 162h2M215 162h1M153 163h1M158 163h1M163 163h1M165 163h1M167 163h3M172 163h3M178 163h1M181 163h1M183 163h1M187 163h1M193 163h1M197 163h2M202 163h1M207 163h1M209 163h3M213 163h1M217 163h1M158 164h1M161 164h1M163 164h2M166 164h5M172 164h2M179 164h1M181 164h1M183 164h1M185 164h4M195 164h1M199 164h1M201 164h2M204 164h4M15 165h1M162 165h1M165 165h3M170 165h6M178 165h1M182 165h1M186 165h1M189 165h1M192 165h1M197 165h1M200 165h1M203 165h5M209 165h1M213 165h2M216 165h1M161 166h2M165 166h3M172 166h1M175 166h2M183 166h1M186 166h1M189 166h1M194 166h1M196 166h1M198 166h1M204 166h3M208 166h1M211 166h2M214 166h1M218 166h1M161 167h1M165 167h8M175 167h3M180 167h1M185 167h2M192 167h1M195 167h2M198 167h1M200 167h6M208 167h1M210 167h1M213 167h1M215 167h1M164 168h3M168 168h1M171 168h6M178 168h1M181 168h1M184 168h1M186 168h1M188 168h1M192 168h1M195 168h1M200 168h1M204 168h2M207 168h1M209 168h2M212 168h1M155 169h1M158 169h1M160 169h1M162 169h1M167 169h2M170 169h1M173 169h2M176 169h1M178 169h2M181 169h2M186 169h1M190 169h1M192 169h3M197 169h4M202 169h3M206 169h1M208 169h2M217 169h1M159 170h3M164 170h3M168 170h3M173 170h4M178 170h1M180 170h1M182 170h1M186 170h1M190 170h1M195 170h2M198 170h2M203 170h5M210 170h1M212 170h1M214 170h1M160 171h1M162 171h2M165 171h2M173 171h6M180 171h1M183 171h2M188 171h1M197 171h1M201 171h2M204 171h4M209 171h1M164 172h2M168 172h4M174 172h1M176 172h3M180 172h1M187 172h1M190 172h1M192 172h1M195 172h1M197 172h2M200 172h1M202 172h1M204 172h1M207 172h1M210 172h1M212 172h1M167 173h3M175 173h3M182 173h1M184 173h1M187 173h1M191 173h1M194 173h1M199 173h2M202 173h2M205 173h2M212 173h1M215 173h1M163 174h1M168 174h4M173 174h5M179 174h1M185 174h1M187 174h2M190 174h1M192 174h1M200 174h2M203 174h3M207 174h1M213 174h1M167 175h1M169 175h2M173 175h1M177 175h1M179 175h1M182 175h1M187 175h1M190 175h1M194 175h1M197 175h3M201 175h1M203 175h1M206 175h2M209 175h2M167 176h1M169 176h3M173 176h4M185 176h1M187 176h3M191 176h1M193 176h1M195 176h1M197 176h5M204 176h2M209 176h1M135 177h1M160 177h1M167 177h4M174 177h1M176 177h1M179 177h1M181 177h2M185 177h1M187 177h2M190 177h2M194 177h1M197 177h1M200 177h3M204 177h2M207 177h2M210 177h1M166 178h3M170 178h2M173 178h1M177 178h2M182 178h1M186 178h1M188 178h2M191 178h1M193 178h2M199 178h2M202 178h1M206 178h1M159 179h1M162 179h6M169 179h1M171 179h2M174 179h1M179 179h3M187 179h2M192 179h4M197 179h1M199 179h2M202 179h6M163 180h1M166 180h1M168 180h4M173 180h3M178 180h1M181 180h4M186 180h1M189 180h1M192 180h1M194 180h3M198 180h1M201 180h1M203 180h2M208 180h2M169 181h2M172 181h1M174 181h1M176 181h3M180 181h1M185 181h1M187 181h1M190 181h1M192 181h3M197 181h2M201 181h4M209 181h1M160 182h1M162 182h1M166 182h1M170 182h1M173 182h3M177 182h3M181 182h2M184 182h3M189 182h1M191 182h3M195 182h1M197 182h1M199 182h1M202 182h1M208 182h1M161 183h1M163 183h1M165 183h1M168 183h1M171 183h1M173 183h2M176 183h1M181 183h6M190 183h3M194 183h2M199 183h1M201 183h2M204 183h2M165 184h2M170 184h1M173 184h2M176 184h4M182 184h8M191 184h2M194 184h1M199 184h1M201 184h4M206 184h1M208 184h1M161 185h1M167 185h1M170 185h3M175 185h2M179 185h1M181 185h6M188 185h1M190 185h2M193 185h1M197 185h2M202 185h4M166 186h2M169 186h4M175 186h2M178 186h1M180 186h3M184 186h1M189 186h3M193 186h8M205 186h1M163 187h1M166 187h1M170 187h1M173 187h1M176 187h1M178 187h1M181 187h2M186 187h3M191 187h1M196 187h2M199 187h4M204 187h1M206 187h1M156 188h1M159 188h1M168 188h2M171 188h2M174 188h4M179 188h1M183 188h4M189 188h6M162 189h1M168 189h1M174 189h3M178 189h1M180 189h3M185 189h1M193 189h7M102 190h1M163 190h1M165 190h1M171 190h1M173 190h7M183 190h6M190 190h2M196 190h1M198 190h2M201 190h2M133 191h1M155 191h1M160 191h1M164 191h1M167 191h1M169 191h1M177 191h4M183 191h2M186 191h2M189 191h2M192 191h4M198 191h3M202 191h2M166 192h1M170 192h2M173 192h1M177 192h1M179 192h1M181 192h1M183 192h2M187 192h8M197 192h3M201 192h2M164 193h1M166 193h2M169 193h1M172 193h1M177 193h5M189 193h1M192 193h1M194 193h2M198 193h1M157 194h1M174 194h1M177 194h3M183 194h2M188 194h4M193 194h1M200 194h1M202 194h1M150 195h1M159 195h1M164 195h1M169 195h2M172 195h1M175 195h1M177 195h2M184 195h1M187 195h1M189 195h1M191 195h2M198 195h1M200 195h1M165 196h1M173 196h5M179 196h3M186 196h1M190 196h3M195 196h3M199 196h1M207 196h1M166 197h3M172 197h1M174 197h4M179 197h1M182 197h1M184 197h3M188 197h1M193 197h2M196 197h1M198 197h2M168 198h3M172 198h3M180 198h4M186 198h2M190 198h1M193 198h1M199 198h2M169 199h3M173 199h1M175 199h1M179 199h1M182 199h3M190 199h1M193 199h1M196 199h1M154 200h1M168 200h1M171 200h1M173 200h1M177 200h2M183 200h1M188 200h1M191 200h1M198 200h1M139 201h1M170 201h1M172 201h1M176 201h1M178 201h1M183 201h1M189 201h2M193 201h1M195 201h1M170 202h1M172 202h1M183 202h2M190 202h1M193 202h2M196 202h1M180 203h2M184 203h1M188 203h1M190 203h1M153 204h1M175 204h3M184 204h1M186 204h1M195 204h1M178 205h1M181 205h2M184 205h1M186 205h2M193 205h1M136 206h1M174 206h3M181 206h2M184 206h2M194 206h2M138 207h1M160 207h1M171 207h3M179 207h2M188 207h1M190 207h1M172 208h1M177 208h1M179 208h1M182 208h2M185 208h1M187 208h2M190 208h1M193 208h2M175 209h1M186 209h1M173 210h1M176 210h1M186 210h1M189 210h2M152 211h1M169 211h1M173 211h1M175 211h1M182 211h2M189 211h1M173 212h1M178 212h1M184 212h1M189 212h2M178 213h1M183 213h1M188 213h1M170 214h1M175 214h2M182 214h2M186 214h1M177 215h1M182 215h1M184 215h3M190 215h1M177 216h1M181 217h2M184 217h2M183 219h1M158 223h1M177 230h1M93 263h1M154 264h1" stroke="#8c8c8c"/>
<path d="M220 31h1M210 32h1M223 33h1M225 38h1M219 39h1M224 41h1M231 41h1M217 42h1M219 42h1M208 43h1M215 43h1M226 44h1M222 45h1M206 46h1M210 46h1M204 47h1M211 47h1M215 47h1M208 48h1M215 48h1M217 48h1M220 48h1M233 48h2M211 49h1M221 49h1M224 49h1M233 49h1M200 50h1M210 50h1M220 50h1M208 51h1M211 51h2M216 51h1M218 51h1M229 51h1M232 51h1M237 51h1M203 52h1M208 52h1M211 52h1M223 52h1M197 53h1M201 53h2M204 53h1M209 53h1M211 53h1M214 53h4M219 53h1M221 53h1M226 53h1M228 53h1M232 53h1M194 54h1M197 54h1M202 54h1M215 54h1M224 54h2M232 54h1M203 55h2M208 55h1M212 55h1M215 55h1M218 55h1M220 55h1M222 55h1M225 55h2M197 56h1M203 56h1M206 56h1M213 56h2M217 56h1M221 56h1M205 57h1M208 57h1M210 57h1M214 57h1M217 57h1M221 57h1M226 57h1M194 58h1M199 58h1M206 58h1M208 58h1M216 58h3M220 58h1M229 58h1M201 59h1M203 59h1M205 59h1M209 59h1M211 59h1M214 59h1M216 59h1M222 59h2M225 59h1M183 60h1M197 60h2M201 60h1M210 60h1M213 60h1M216 60h2M219 60h1M223 60h2M228 60h1M234 60h1M198 61h1M200 61h1M202 61h1M204 61h2M207 61h1M213 61h1M217 61h1M221 61h1M224 61h1M190 62h1M200 62h1M202 62h1M207 62h2M212 62h3M216 62h3M220 62h1M226 62h2M232 62h1M193 63h1M200 63h1M203 63h1M206 63h1M208 63h1M210 63h1M213 63h3M218 63h1M220 63h3M225 63h1M228 63h1M197 64h1M199 64h1M201 64h1M204 64h2M207 64h1M212 64h3M219 64h2M223 64h1M225 64h1M200 65h1M202 65h1M204 65h6M213 65h1M218 65h1M221 65h1M192 66h1M195 66h1M197 66h1M201 66h1M203 66h5M209 66h2M212 66h2M215 66h1M217 66h1M225 66h1M228 66h2M188 67h1M193 67h1M195 67h1M201 67h5M207 67h1M209 67h1M212 67h2M215 67h2M220 67h2M226 67h1M228 67h1M187 68h1M204 68h1M206 68h2M209 68h2M212 68h2M215 68h1M221 68h2M188 69h1M196 69h1M198 69h2M201 69h2M204 69h1M210 69h2M213 69h1M218 69h3M223 69h2M227 69h2M189 70h1M192 70h1M197 70h2M202 70h1M208 70h2M213 70h1M218 70h2M222 70h1M225 70h1M227 70h2M191 71h2M197 71h2M200 71h4M208 71h2M211 71h5M217 71h2M223 71h1M230 71h1M232 71h1M193 72h6M200 72h3M204 72h1M206 72h1M211 72h3M219 72h4M224 72h2M227 72h1M229 72h2M195 73h1M197 73h1M200 73h1M203 73h2M207 73h3M211 73h1M213 73h2M217 73h4M223 73h1M226 73h2M189 74h2M193 74h2M197 74h3M202 74h6M209 74h1M212 74h1M217 74h1M221 74h3M225 74h1M227 74h2M188 75h3M192 75h1M196 75h1M200 75h2M204 75h2M208 75h1M214 75h4M219 75h2M223 75h2M227 75h1M229 75h1M177 76h1M191 76h2M196 76h4M201 76h1M205 76h2M211 76h1M213 76h1M215 76h1M217 76h1M219 76h1M225 76h2M186 77h1M197 77h2M200 77h3M206 77h1M210 77h1M214 77h3M219 77h1M227 77h1M192 78h5M198 78h8M210 78h1M213 78h2M221 78h1M224 78h1M231 78h1M178 79h1M182 79h1M186 79h1M190 79h2M193 79h3M197 79h4M203 79h1M206 79h1M208 79h1M210 79h2M214 79h1M216 79h3M220 79h2M224 79h1M228 79h1M232 79h1M196 80h3M201 80h2M205 80h1M209 80h1M213 80h1M216 80h1M218 80h2M234 80h1M182 81h1M184 81h1M187 81h1M190 81h2M195 81h1M197 81h1M199 81h1M201 81h4M213 81h1M215 81h4M220 81h2M224 81h2M229 81h1M187 82h1M189 82h1M192 82h2M197 82h2M204 82h1M208 82h2M211 82h4M220 82h1M228 82h1M232 82h1M185 83h1M187 83h1M189 83h1M191 83h4M200 83h1M203 83h4M211 83h1M214 83h1M216 83h1M220 83h1M225 83h1M231 83h1M234 83h1M239 83h1M190 84h3M195 84h2M198 84h1M201 84h1M203 84h4M208 84h1M210 84h1M212 84h1M216 84h6M225 84h1M228 84h1M233 84h1M181 85h1M187 85h4M192 85h1M194 85h3M198 85h1M202 85h5M211 85h3M215 85h1M217 85h1M219 85h3M186 86h1M188 86h3M192 86h2M199 86h2M202 86h1M204 86h1M209 86h1M211 86h1M214 86h4M223 86h2M226 86h1M181 87h1M183 87h1M188 87h1M191 87h1M193 87h2M206 87h3M212 87h1M218 87h3M223 87h3M228 87h1M179 88h1M185 88h1M191 88h4M198 88h2M202 88h1M207 88h1M212 88h4M217 88h2M223 88h1M225 88h2M180 89h1M185 89h2M188 89h4M193 89h3M199 89h2M203 89h1M208 89h1M213 89h1M215 89h4M220 89h4M189 90h3M198 90h2M202 90h2M207 90h1M210 90h2M214 90h3M221 90h2M226 90h1M230 90h1M182 91h3M186 91h1M188 91h1M190 91h1M192 91h1M194 91h1M200 91h1M206 91h1M208 91h1M217 91h1M219 91h8M190 92h1M192 92h1M194 92h3M209 92h1M211 92h1M216 92h2M219 92h1M221 92h2M224 92h1M178 93h1M183 93h6M190 93h1M192 93h2M195 93h1M199 93h2M202 93h1M206 93h1M209 93h1M213 93h1M215 93h1M218 93h3M228 93h2M180 94h1M186 94h6M194 94h1M198 94h1M201 94h1M209 94h1M211 94h2M214 94h1M221 94h1M184 95h1M188 95h3M193 95h1M203 95h1M209 95h1M212 95h2M215 95h1M217 95h3M223 95h1M225 95h1M178 96h1M185 96h1M188 96h1M190 96h1M192 96h1M194 96h2M202 96h1M211 96h2M217 96h1M219 96h1M221 96h2M225 96h1M227 96h1M178 97h3M186 97h6M193 97h2M198 97h1M202 97h1M212 97h1M217 97h1M219 97h2M224 97h3M230 97h1M176 98h1M182 98h2M187 98h1M191 98h1M209 98h2M212 98h3M216 98h2M219 98h5M230 98h1M177 99h1M183 99h1M186 99h2M189 99h1M193 99h1M197 99h1M199 99h1M201 99h1M210 99h2M213 99h7M222 99h2M226 99h1M231 99h1M179 100h1M181 100h1M183 100h1M185 100h2M204 100h1M211 100h1M213 100h1M217 100h1M220 100h3M231 100h1M172 101h1M179 101h1M183 101h2M192 101h1M206 101h1M211 101h1M219 101h1M225 101h1M176 102h1M182 102h1M184 102h4M189 102h1M205 102h1M208 102h1M214 102h2M219 102h2M222 102h1M225 102h1M227 102h1M231 102h1M172 103h1M177 103h3M181 103h1M183 103h7M204 103h1M208 103h1M212 103h1M216 103h3M220 103h2M178 104h2M181 104h1M183 104h1M186 104h3M209 104h1M213 104h1M215 104h1M217 104h3M221 104h1M235 104h1M175 105h2M179 105h1M183 105h2M187 105h1M189 105h1M198 105h1M209 105h1M216 105h5M222 105h2M228 105h1M174 106h1M177 106h1M184 106h1M187 106h1M189 106h1M210 106h1M212 106h1M214 106h1M216 106h5M222 106h1M225 106h1M229 106h1M177 107h1M182 107h2M190 107h1M211 107h2M215 107h4M220 107h2M225 107h1M227 107h1M170 108h2M175 108h3M179 108h1M181 108h2M200 108h1M207 108h1M212 108h1M214 108h3M218 108h4M227 108h1M176 109h1M179 109h2M183 109h3M187 109h2M203 109h1M214 109h1M218 109h3M222 109h1M226 109h1M176 110h1M180 110h1M184 110h2M190 110h1M203 110h1M208 110h1M213 110h2M216 110h1M218 110h2M222 110h1M177 111h2M180 111h1M182 111h1M184 111h1M187 111h2M202 111h1M209 111h1M211 111h1M213 111h2M217 111h1M219 111h1M224 111h1M178 112h2M181 112h4M207 112h3M211 112h1M213 112h2M218 112h3M222 112h1M224 112h1M175 113h2M179 113h2M182 113h1M185 113h1M188 113h1M203 113h1M206 113h1M211 113h1M214 113h1M217 113h6M225 113h1M176 114h2M179 114h1M184 114h1M204 114h1M206 114h2M210 114h1M213 114h1M215 114h1M217 114h2M225 114h1M175 115h4M181 115h1M183 115h3M187 115h1M200 115h1M212 115h2M215 115h1M218 115h2M223 115h1M171 116h1M174 116h1M177 116h3M181 116h3M185 116h1M205 116h2M209 116h1M215 116h5M225 116h1M178 117h2M182 117h2M191 117h1M204 117h2M208 117h1M210 117h2M213 117h1M215 117h1M218 117h1M220 117h1M222 117h3M177 118h1M179 118h1M181 118h2M186 118h1M207 118h1M210 118h1M212 118h1M214 118h1M218 118h1M176 119h3M180 119h4M191 119h1M204 119h1M208 119h1M211 119h7M219 119h2M172 120h1M174 120h1M177 120h4M184 120h1M202 120h1M208 120h3M212 120h5M218 120h1M221 120h1M173 121h1M175 121h2M178 121h3M183 121h1M185 121h1M199 121h1M202 121h1M204 121h1M208 121h1M210 121h1M212 121h1M217 121h1M225 121h1M172 122h2M175 122h1M177 122h5M183 122h1M190 122h1M198 122h1M203 122h1M206 122h1M208 122h4M213 122h3M217 122h2M220 122h1M171 123h2M174 123h2M177 123h1M182 123h2M196 123h1M199 123h2M204 123h1M207 123h1M209 123h3M214 123h1M220 123h1M165 124h1M169 124h1M175 124h1M177 124h1M179 124h2M182 124h1M184 124h1M195 124h1M200 124h1M209 124h1M211 124h3M215 124h2M221 124h1M170 125h2M180 125h2M183 125h1M186 125h1M202 125h3M206 125h1M208 125h1M210 125h2M215 125h2M220 125h1M224 125h1M174 126h4M179 126h1M181 126h2M185 126h1M190 126h1M195 126h1M205 126h2M209 126h2M212 126h2M215 126h2M218 126h1M173 127h1M175 127h1M177 127h3M182 127h1M195 127h1M198 127h2M202 127h1M209 127h2M212 127h1M214 127h1M216 127h2M175 128h1M177 128h5M196 128h1M203 128h1M206 128h1M208 128h3M213 128h1M215 128h2M218 128h1M225 128h1M169 129h1M175 129h3M181 129h1M185 129h1M187 129h1M200 129h1M203 129h1M207 129h1M209 129h1M212 129h1M214 129h2M221 129h1M172 130h1M174 130h4M179 130h2M184 130h1M186 130h1M191 130h1M204 130h1M207 130h2M211 130h1M216 130h1M223 130h1M172 131h2M175 131h1M177 131h2M183 131h2M188 131h2M196 131h1M205 131h1M207 131h1M209 131h2M212 131h1M215 131h1M219 131h1M170 132h1M172 132h1M174 132h4M180 132h1M184 132h1M196 132h1M200 132h1M203 132h1M206 132h2M209 132h1M213 132h1M216 132h1M218 132h1M222 132h1M167 133h1M169 133h1M172 133h2M177 133h1M179 133h2M182 133h3M186 133h1M193 133h3M197 133h2M200 133h1M206 133h1M208 133h2M213 133h1M217 133h1M220 133h1M174 134h3M178 134h1M180 134h3M188 134h2M194 134h1M198 134h1M201 134h9M211 134h1M214 134h2M166 135h1M175 135h1M178 135h2M181 135h3M186 135h1M195 135h1M197 135h1M200 135h2M203 135h6M210 135h2M217 135h1M168 136h2M172 136h1M174 136h2M180 136h2M183 136h1M187 136h1M203 136h1M206 136h1M209 136h4M215 136h1M167 137h1M170 137h1M172 137h1M178 137h1M182 137h1M184 137h1M189 137h2M203 137h3M207 137h1M210 137h2M215 137h2M220 137h1M168 138h1M171 138h1M175 138h1M177 138h2M181 138h1M186 138h1M193 138h1M196 138h1M200 138h1M202 138h1M205 138h2M210 138h2M213 138h2M216 138h1M173 139h1M177 139h2M180 139h1M185 139h2M194 139h1M206 139h1M208 139h1M210 139h1M212 139h2M216 139h1M171 140h1M173 140h1M177 140h1M180 140h1M182 140h3M192 140h2M197 140h1M199 140h2M204 140h1M206 140h2M212 140h3M166 141h1M174 141h1M176 141h1M178 141h3M185 141h2M192 141h1M199 141h1M205 141h2M208 141h1M212 141h2M164 142h1M170 142h1M174 142h1M176 142h2M181 142h1M185 142h1M190 142h1M196 142h2M201 142h4M206 142h1M208 142h1M212 142h1M214 142h2M170 143h1M174 143h1M176 143h1M179 143h1M185 143h1M188 143h2M192 143h1M198 143h2M202 143h6M209 143h1M170 144h1M172 144h1M174 144h3M178 144h1M185 144h1M189 144h1M192 144h1M197 144h1M201 144h1M204 144h1M210 144h1M168 145h1M170 145h1M172 145h1M176 145h4M182 145h2M188 145h1M196 145h3M201 145h2M205 145h1M207 145h1M210 145h1M170 146h1M172 146h1M175 146h2M178 146h1M181 146h1M187 146h1M189 146h1M192 146h1M197 146h1M201 146h3M212 146h2M171 147h1M173 147h1M175 147h2M178 147h4M185 147h2M189 147h1M191 147h1M193 147h2M197 147h2M200 147h1M204 147h4M213 147h1M170 148h2M173 148h1M175 148h1M177 148h2M181 148h1M183 148h1M185 148h2M188 148h1M190 148h1M192 148h1M195 148h1M200 148h6M207 148h3M211 148h1M214 148h1M170 149h1M178 149h1M181 149h2M187 149h1M189 149h2M195 149h1M197 149h1M199 149h2M202 149h4M168 150h1M171 150h1M177 150h2M183 150h1M186 150h1M188 150h2M193 150h1M197 150h1M200 150h1M202 150h1M205 150h1M207 150h1M216 150h1M172 151h6M180 151h1M182 151h2M188 151h1M190 151h1M192 151h1M195 151h2M200 151h3M204 151h1M206 151h2M211 151h1M217 151h1M165 152h1M167 152h1M169 152h1M173 152h1M176 152h1M178 152h1M180 152h6M187 152h2M191 152h1M195 152h2M198 152h1M200 152h5M206 152h1M208 152h1M210 152h1M216 152h1M220 152h1M177 153h4M182 153h1M184 153h2M187 153h1M190 153h2M197 153h1M200 153h1M202 153h1M204 153h1M206 153h3M170 154h1M173 154h1M176 154h3M180 154h4M185 154h1M187 154h1M190 154h1M195 154h9M205 154h2M208 154h1M214 154h1M165 155h1M174 155h5M182 155h1M184 155h3M188 155h1M190 155h1M192 155h1M196 155h1M198 155h1M201 155h1M204 155h1M206 155h1M174 156h1M176 156h1M179 156h2M182 156h3M186 156h3M190 156h2M193 156h1M195 156h2M205 156h2M211 156h1M167 157h1M176 157h1M178 157h4M183 157h1M185 157h1M187 157h2M190 157h1M192 157h1M195 157h1M197 157h3M201 157h1M166 158h1M172 158h1M176 158h2M179 158h2M183 158h1M187 158h1M189 158h1M192 158h3M197 158h1M199 158h2M202 158h1M209 158h1M211 158h1M170 159h1M172 159h1M174 159h1M180 159h1M182 159h5M188 159h2M192 159h2M197 159h4M203 159h4M209 159h1M170 160h2M175 160h2M179 160h3M183 160h3M187 160h2M191 160h3M195 160h4M203 160h2M207 160h1M166 161h2M171 161h1M174 161h1M178 161h2M181 161h2M184 161h1M191 161h6M200 161h1M202 161h1M210 161h1M172 162h2M175 162h4M181 162h2M185 162h1M187 162h1M190 162h4M195 162h1M198 162h2M170 163h1M175 163h2M179 163h2M182 163h1M185 163h2M189 163h4M194 163h3M199 163h1M201 163h1M203 163h3M175 164h4M180 164h1M182 164h1M184 164h1M189 164h6M197 164h2M200 164h1M203 164h1M177 165h1M179 165h3M183 165h1M185 165h1M187 165h1M190 165h2M193 165h4M201 165h1M210 165h1M169 166h1M171 166h1M173 166h1M177 166h4M187 166h2M190 166h4M195 166h1M197 166h1M199 166h2M203 166h1M207 166h1M209 166h1M173 167h1M178 167h2M181 167h4M187 167h5M197 167h1M199 167h1M167 168h1M169 168h1M177 168h1M179 168h2M182 168h2M189 168h2M193 168h1M196 168h4M202 168h2M206 168h1M171 169h1M175 169h1M177 169h1M180 169h1M183 169h3M187 169h3M195 169h2M172 170h1M177 170h1M179 170h1M183 170h2M187 170h3M191 170h1M193 170h2M197 170h1M200 170h1M169 171h1M179 171h1M181 171h2M185 171h2M190 171h6M198 171h1M181 172h6M189 172h1M191 172h1M193 172h2M196 172h1M205 172h1M173 173h2M178 173h4M183 173h1M185 173h1M188 173h3M192 173h1M195 173h1M197 173h2M172 174h1M178 174h1M180 174h1M182 174h3M186 174h1M189 174h1M194 174h4M174 175h1M176 175h1M183 175h3M188 175h1M192 175h1M195 175h2M202 175h1M179 176h6M186 176h1M190 176h1M194 176h1M196 176h1M175 177h1M178 177h1M183 177h1M186 177h1M189 177h1M192 177h1M195 177h1M199 177h1M174 178h1M176 178h1M179 178h1M181 178h1M183 178h2M187 178h1M190 178h1M192 178h1M196 178h2M176 179h3M184 179h3M190 179h1M196 179h1M177 180h1M180 180h1M187 180h2M190 180h2M193 180h1M199 180h1M206 180h1M179 181h1M182 181h3M191 181h1M196 181h1M171 182h1M180 182h1M187 182h1M172 183h1M178 183h1M180 183h1M188 183h2M197 183h1M200 183h1M161 184h1M172 184h1M175 184h1M190 184h1M195 184h1M177 185h2M180 185h1M187 185h1M194 185h1M177 186h1M183 186h1M185 186h1M187 186h1M202 186h1M185 187h1M192 187h1M195 187h1M181 188h1M188 188h1M195 188h1M189 189h1M191 189h2M181 190h2M171 191h1M175 191h1M185 191h1M188 191h1M172 192h1M174 192h1M185 192h1M176 193h1M175 194h2M180 194h1M187 194h1M192 194h1M194 195h1M182 196h1M190 197h1M189 200h1M174 202h1M180 204h2" stroke="#ff00ff"/>
<path d="M217 41h1M213 57h1M209 58h1M214 61h1M216 61h1M207 63h1M209 63h1M211 63h1M212 65h1M216 65h1M216 66h1M208 67h1M210 67h1M208 68h1M214 68h1M207 69h1M215 69h1M217 69h1M222 69h1M204 70h1M210 70h1M204 71h3M224 71h1M209 72h1M215 72h1M217 72h1M202 73h1M206 73h1M210 73h1M212 73h1M216 73h1M195 74h1M208 74h1M210 74h2M213 74h2M195 75h1M202 75h1M207 75h1M211 75h3M218 75h1M203 76h1M207 76h4M212 76h1M214 76h1M203 77h2M208 77h2M211 77h1M222 77h1M207 78h2M211 78h1M216 78h1M219 78h1M192 79h1M201 79h2M209 79h1M212 79h2M215 79h1M222 79h2M195 80h1M199 80h2M204 80h1M206 80h3M211 80h2M214 80h1M192 81h1M196 81h1M198 81h1M200 81h1M205 81h8M219 81h1M188 82h1M199 82h1M202 82h2M205 82h3M215 82h3M221 82h1M199 83h1M201 83h2M208 83h3M212 83h1M217 83h1M227 83h1M189 84h1M193 84h2M197 84h1M199 84h2M202 84h1M207 84h1M211 84h1M213 84h2M199 85h1M201 85h1M207 85h4M216 85h1M226 85h1M191 86h1M196 86h3M201 86h1M205 86h4M210 86h1M212 86h2M218 86h2M187 87h1M189 87h1M192 87h1M195 87h3M199 87h3M203 87h2M209 87h1M213 87h5M188 88h3M195 88h1M200 88h2M203 88h2M206 88h1M208 88h3M221 88h2M187 89h1M196 89h3M201 89h2M204 89h2M207 89h1M210 89h1M212 89h1M214 89h1M194 90h2M197 90h1M200 90h2M205 90h1M208 90h2M212 90h2M217 90h4M191 91h1M193 91h1M195 91h3M201 91h1M203 91h1M207 91h1M209 91h1M212 91h1M214 91h3M188 92h2M191 92h1M197 92h4M203 92h1M208 92h1M210 92h1M212 92h2M215 92h1M191 93h1M194 93h1M196 93h1M201 93h1M203 93h3M211 93h1M214 93h1M216 93h2M221 93h1M185 94h1M192 94h2M195 94h3M199 94h2M202 94h6M210 94h1M213 94h1M215 94h4M220 94h1M186 95h1M191 95h2M194 95h1M196 95h1M199 95h1M201 95h2M205 95h4M211 95h1M214 95h1M184 96h1M189 96h1M196 96h1M198 96h3M204 96h1M206 96h5M214 96h1M216 96h1M218 96h1M185 97h1M192 97h1M195 97h1M197 97h1M200 97h2M203 97h7M211 97h1M213 97h4M218 97h1M186 98h1M188 98h3M192 98h1M195 98h1M197 98h1M199 98h1M201 98h2M205 98h4M211 98h1M215 98h1M218 98h1M224 98h1M188 99h1M191 99h2M194 99h1M196 99h1M198 99h1M200 99h1M207 99h2M212 99h1M187 100h10M201 100h1M205 100h1M207 100h1M209 100h2M212 100h1M214 100h2M218 100h2M185 101h7M193 101h5M199 101h1M203 101h3M207 101h2M210 101h1M213 101h1M215 101h2M218 101h1M188 102h1M190 102h1M192 102h3M196 102h1M198 102h2M201 102h2M206 102h2M210 102h1M213 102h1M216 102h1M218 102h1M224 102h1M182 103h1M190 103h1M192 103h1M197 103h1M199 103h2M202 103h2M206 103h2M209 103h2M214 103h1M182 104h1M185 104h1M190 104h2M193 104h2M196 104h1M199 104h1M202 104h1M204 104h1M207 104h2M210 104h1M212 104h1M214 104h1M182 105h1M185 105h1M190 105h4M195 105h1M197 105h1M204 105h2M212 105h4M185 106h2M190 106h1M194 106h4M200 106h3M204 106h1M206 106h4M213 106h1M223 106h1M184 107h6M191 107h1M193 107h3M197 107h1M205 107h1M208 107h2M213 107h2M183 108h1M185 108h6M192 108h1M195 108h1M201 108h1M203 108h4M208 108h2M211 108h1M213 108h1M178 109h1M181 109h2M186 109h1M192 109h2M195 109h1M198 109h1M200 109h3M204 109h1M206 109h1M208 109h1M210 109h4M215 109h1M179 110h1M182 110h1M186 110h2M189 110h1M196 110h2M200 110h1M202 110h1M204 110h4M209 110h4M215 110h1M217 110h1M181 111h1M186 111h1M195 111h1M203 111h2M208 111h1M212 111h1M218 111h1M187 112h2M193 112h2M199 112h1M201 112h1M203 112h1M205 112h2M210 112h1M212 112h1M215 112h1M178 113h1M181 113h1M183 113h2M186 113h2M192 113h1M194 113h1M198 113h2M201 113h2M204 113h2M207 113h4M213 113h1M216 113h1M180 114h2M183 114h1M185 114h1M189 114h1M191 114h1M199 114h1M202 114h2M205 114h1M209 114h1M212 114h1M180 115h1M182 115h1M188 115h1M190 115h2M202 115h1M204 115h2M208 115h1M210 115h2M187 116h3M201 116h2M204 116h1M208 116h1M210 116h1M212 116h1M181 117h1M184 117h5M192 117h1M195 117h1M197 117h2M200 117h1M206 117h1M209 117h1M212 117h1M216 117h1M178 118h1M183 118h3M188 118h1M190 118h1M193 118h1M195 118h1M202 118h3M208 118h1M211 118h1M216 118h1M179 119h1M185 119h2M190 119h1M193 119h2M196 119h1M198 119h6M205 119h2M210 119h1M176 120h1M181 120h3M185 120h1M188 120h2M199 120h1M205 120h2M211 120h1M181 121h2M184 121h1M186 121h2M197 121h2M203 121h1M205 121h1M209 121h1M182 122h1M185 122h3M191 122h1M194 122h1M197 122h1M199 122h1M201 122h2M205 122h1M207 122h1M179 123h1M181 123h1M184 123h5M190 123h1M193 123h1M195 123h1M198 123h1M201 123h3M205 123h2M208 123h1M212 123h2M215 123h1M178 124h1M181 124h1M183 124h1M186 124h1M188 124h2M191 124h2M196 124h1M198 124h2M202 124h6M179 125h1M184 125h2M190 125h1M192 125h1M194 125h1M196 125h2M199 125h1M201 125h1M205 125h1M207 125h1M213 125h1M180 126h1M183 126h1M186 126h2M189 126h1M191 126h2M194 126h1M196 126h4M201 126h2M204 126h1M207 126h1M180 127h1M183 127h4M188 127h2M192 127h2M196 127h2M200 127h2M203 127h2M206 127h3M211 127h1M176 128h1M183 128h3M188 128h1M191 128h1M193 128h3M198 128h2M201 128h2M204 128h2M207 128h1M178 129h2M182 129h3M188 129h3M192 129h1M194 129h1M197 129h3M201 129h2M208 129h1M178 130h1M181 130h3M185 130h1M187 130h2M190 130h1M195 130h3M200 130h2M203 130h1M205 130h1M180 131h3M185 131h3M191 131h2M194 131h2M197 131h4M202 131h3M206 131h1M211 131h1M178 132h1M181 132h1M183 132h1M186 132h1M188 132h4M194 132h2M197 132h3M202 132h1M204 132h2M175 133h1M178 133h1M181 133h1M185 133h1M188 133h1M190 133h3M196 133h1M202 133h1M204 133h1M207 133h1M183 134h5M190 134h2M193 134h1M195 134h3M199 134h2M176 135h2M180 135h1M184 135h2M187 135h1M189 135h1M192 135h3M196 135h1M198 135h2M202 135h1M177 136h1M179 136h1M182 136h1M185 136h2M189 136h1M191 136h4M196 136h1M198 136h4M204 136h2M213 136h1M177 137h1M179 137h3M185 137h4M194 137h1M196 137h1M199 137h1M201 137h2M206 137h1M182 138h1M184 138h1M187 138h3M191 138h2M194 138h2M197 138h1M201 138h1M203 138h2M209 138h1M212 138h1M175 139h1M179 139h1M181 139h2M184 139h1M187 139h2M190 139h2M193 139h1M196 139h1M198 139h8M207 139h1M175 140h1M185 140h6M195 140h1M198 140h1M201 140h3M183 141h2M187 141h2M190 141h1M193 141h1M196 141h3M200 141h2M203 141h1M179 142h2M183 142h1M186 142h1M191 142h4M199 142h1M207 142h1M178 143h1M180 143h1M182 143h3M186 143h1M191 143h1M193 143h1M196 143h1M200 143h2M208 143h1M179 144h6M187 144h1M190 144h1M194 144h3M198 144h1M200 144h1M208 144h1M174 145h1M180 145h2M184 145h4M189 145h6M199 145h2M204 145h1M179 146h2M182 146h4M188 146h1M190 146h2M194 146h2M198 146h3M204 146h3M177 147h1M182 147h1M184 147h1M187 147h1M190 147h1M192 147h1M196 147h1M199 147h1M201 147h1M203 147h1M182 148h1M187 148h1M191 148h1M193 148h2M196 148h1M198 148h2M206 148h1M180 149h1M183 149h4M191 149h4M196 149h1M198 149h1M201 149h1M179 150h1M182 150h1M184 150h2M187 150h1M190 150h3M194 150h3M198 150h2M211 150h1M178 151h2M181 151h1M185 151h3M189 151h1M193 151h2M197 151h1M199 151h1M209 151h1M174 152h1M179 152h1M189 152h1M192 152h1M194 152h1M197 152h1M215 152h1M183 153h1M188 153h2M193 153h1M195 153h2M184 154h1M188 154h2M191 154h1M193 154h2M181 155h1M187 155h1M189 155h1M191 155h1M194 155h2M199 155h2M178 156h1M181 156h1M185 156h1M189 156h1M192 156h1M194 156h1M197 156h1M200 156h1M182 157h1M184 157h1M186 157h1M193 157h2M185 158h1M188 158h1M190 158h2M196 158h1M198 158h1M175 159h1M187 159h1M194 159h1M182 160h1M186 160h1M194 160h1M186 161h5M197 161h2M183 162h1M188 162h2M197 162h1M177 163h1M184 163h1M188 163h1M200 163h1M174 164h1M184 165h1M188 165h1M202 165h1M182 166h1M184 166h2M193 167h1M185 168h1M187 168h1M191 168h1M194 168h1M191 169h1M185 170h1M192 170h1M189 171h1M196 171h1M188 172h1M199 172h1M191 174h1M186 175h1M178 176h1M184 177h1M183 179h1" stroke="#00a5ff"/>
<path d="M216 69h1M204 76h1M212 77h1M210 82h1M209 84h1M203 86h1M202 87h1M210 87h1M205 88h1M211 88h1M206 89h1M209 89h1M204 90h1M206 90h1M199 91h1M202 91h1M204 91h2M210 91h2M193 92h1M202 92h1M204 92h4M214 92h1M197 93h2M208 93h1M212 93h1M208 94h1M195 95h1M197 95h2M200 95h1M204 95h1M210 95h1M216 95h1M191 96h1M193 96h1M197 96h1M201 96h1M203 96h1M205 96h1M213 96h1M196 97h1M199 97h1M210 97h1M193 98h2M196 98h1M198 98h1M200 98h1M203 98h2M190 99h1M195 99h1M202 99h5M209 99h1M197 100h4M202 100h2M206 100h1M208 100h1M198 101h1M200 101h3M209 101h1M191 102h1M195 102h1M197 102h1M200 102h1M203 102h2M209 102h1M211 102h2M191 103h1M193 103h4M198 103h1M201 103h1M205 103h1M211 103h1M189 104h1M192 104h1M195 104h1M198 104h1M200 104h2M203 104h1M205 104h2M211 104h1M186 105h1M188 105h1M194 105h1M196 105h1M199 105h2M202 105h2M206 105h3M210 105h1M188 106h1M191 106h3M198 106h1M203 106h1M205 106h1M211 106h1M192 107h1M196 107h1M199 107h6M206 107h2M210 107h1M191 108h1M193 108h1M196 108h4M202 108h1M189 109h3M194 109h1M196 109h1M199 109h1M205 109h1M207 109h1M188 110h1M191 110h5M198 110h2M201 110h1M183 111h1M185 111h1M189 111h2M192 111h3M196 111h2M199 111h3M205 111h1M186 112h1M189 112h4M195 112h4M202 112h1M204 112h1M189 113h3M193 113h1M195 113h2M186 114h3M190 114h1M192 114h7M200 114h2M208 114h1M186 115h1M189 115h1M192 115h3M197 115h1M199 115h1M201 115h1M203 115h1M206 115h1M184 116h1M186 116h1M190 116h11M203 116h1M207 116h1M189 117h2M193 117h1M196 117h1M199 117h1M201 117h3M207 117h1M187 118h1M189 118h1M191 118h2M194 118h1M196 118h3M200 118h2M205 118h2M209 118h1M184 119h1M187 119h3M192 119h1M207 119h1M186 120h2M190 120h5M196 120h3M200 120h2M203 120h2M188 121h5M194 121h3M200 121h1M206 121h2M184 122h1M188 122h2M193 122h1M195 122h1M200 122h1M204 122h1M189 123h1M191 123h1M194 123h1M197 123h1M185 124h1M190 124h1M193 124h2M197 124h1M201 124h1M208 124h1M187 125h3M191 125h1M195 125h1M198 125h1M200 125h1M184 126h1M188 126h1M193 126h1M200 126h1M208 126h1M187 127h1M190 127h2M182 128h1M186 128h1M189 128h2M192 128h1M197 128h1M200 128h1M186 129h1M191 129h1M195 129h2M205 129h1M189 130h1M192 130h3M198 130h2M185 132h1M187 132h1M192 132h2M201 132h1M189 133h1M199 133h1M201 133h1M205 133h1M192 134h1M190 135h2M184 136h1M188 136h1M190 136h1M195 136h1M197 136h1M183 137h1M191 137h3M195 137h1M197 137h2M200 137h1M180 138h1M183 138h1M185 138h1M190 138h1M198 138h2M189 139h1M192 139h1M195 139h1M197 139h1M191 140h1M194 140h1M196 140h1M205 140h1M181 141h1M191 141h1M194 141h2M187 142h3M195 142h1M198 142h1M200 142h1M181 143h1M187 143h1M190 143h1M194 143h1M197 143h1M186 144h1M188 144h1M193 144h1M195 145h1M193 146h1M196 146h1M183 147h1M195 147h1M184 148h1M189 148h1M188 149h1M181 150h1M191 151h1M186 152h1M190 152h1M193 152h1M192 153h1M179 154h1M192 154h1M191 157h1M191 159h1" stroke="#00ff00"/>
<path d="M201 92h1M197 104h1M201 105h1M199 106h1M198 107h1M194 108h1M197 109h1M191 111h1M198 111h1M206 111h1M200 112h1M197 113h1M200 113h1M195 115h2M198 115h1M207 115h1M194 117h1M199 118h1M195 119h1M197 119h1M195 120h1M193 121h1M201 121h1M192 122h1M196 122h1M193 125h1M194 127h1M193 129h1M188 135h1M189 141h1M188 147h1" stroke="#ff2000"/>
</g>
<g transform="translate(632.4,1416.2)">
<rect x="0" y="0" width="437.0" height="437.0" fill="none" stroke="#333" stroke-width="1.2"/>
<path d="M0 242.1H254.8L437.0 128.3M254.8 0V437.0" fill="none" stroke="#222" stroke-width="1.3"/>
<path d="M-6.5 1.0H0M-3.2 77.4H0M-3.2 58.2H0M-3.2 44.5H0M-3.2 33.9H0M-3.2 25.2H0M-3.2 17.9H0M-3.2 11.6H0M-3.2 6.0H0M-6.5 110.3H0M-3.2 186.7H0M-3.2 167.5H0M-3.2 153.8H0M-3.2 143.2H0M-3.2 134.5H0M-3.2 127.2H0M-3.2 120.9H0M-3.2 115.3H0M-6.5 219.6H0M-3.2 296.0H0M-3.2 276.8H0M-3.2 263.1H0M-3.2 252.5H0M-3.2 243.8H0M-3.2 236.5H0M-3.2 230.2H0M-3.2 224.6H0M-6.5 328.9H0M-3.2 405.3H0M-3.2 386.1H0M-3.2 372.4H0M-3.2 361.8H0M-3.2 353.1H0M-3.2 345.8H0M-3.2 339.5H0M-3.2 333.9H0M436.0 437.0v6.5M359.6 437.0v3.2M378.8 437.0v3.2M392.5 437.0v3.2M403.1 437.0v3.2M411.8 437.0v3.2M419.1 437.0v3.2M425.4 437.0v3.2M431.0 437.0v3.2M326.7 437.0v6.5M250.3 437.0v3.2M269.5 437.0v3.2M283.2 437.0v3.2M293.8 437.0v3.2M302.5 437.0v3.2M309.8 437.0v3.2M316.1 437.0v3.2M321.7 437.0v3.2M217.4 437.0v6.5M141.0 437.0v3.2M160.2 437.0v3.2M173.9 437.0v3.2M184.5 437.0v3.2M193.2 437.0v3.2M200.5 437.0v3.2M206.8 437.0v3.2M212.4 437.0v3.2M108.1 437.0v6.5M31.7 437.0v3.2M50.9 437.0v3.2M64.6 437.0v3.2M75.2 437.0v3.2M83.9 437.0v3.2M91.2 437.0v3.2M97.5 437.0v3.2M103.1 437.0v3.2" stroke="#222" stroke-width="1.1" fill="none"/>
<text x="-10.3" y="5.2" font-size="11.5" text-anchor="end" fill="#222" textLength="14.5" lengthAdjust="spacingAndGlyphs">10<tspan font-size="7" dy="-4.5">3</tspan></text>
<text x="443.5" y="457.5" font-size="11.5" text-anchor="end" fill="#222" textLength="14.5" lengthAdjust="spacingAndGlyphs">10<tspan font-size="7" dy="-4.5">3</tspan></text>
<text x="-10.3" y="114.5" font-size="11.5" text-anchor="end" fill="#222" textLength="14.5" lengthAdjust="spacingAndGlyphs">10<tspan font-size="7" dy="-4.5">2</tspan></text>
<text x="334.2" y="457.5" font-size="11.5" text-anchor="end" fill="#222" textLength="14.5" lengthAdjust="spacingAndGlyphs">10<tspan font-size="7" dy="-4.5">2</tspan></text>
<text x="-10.3" y="223.8" font-size="11.5" text-anchor="end" fill="#222" textLength="14.5" lengthAdjust="spacingAndGlyphs">10<tspan font-size="7" dy="-4.5">1</tspan></text>
<text x="224.9" y="457.5" font-size="11.5" text-anchor="end" fill="#222" textLength="14.5" lengthAdjust="spacingAndGlyphs">10<tspan font-size="7" dy="-4.5">1</tspan></text>
<text x="-10.3" y="333.1" font-size="11.5" text-anchor="end" fill="#222" textLength="14.5" lengthAdjust="spacingAndGlyphs">10<tspan font-size="7" dy="-4.5">0</tspan></text>
<text x="115.6" y="457.5" font-size="11.5" text-anchor="end" fill="#222" textLength="14.5" lengthAdjust="spacingAndGlyphs">10<tspan font-size="7" dy="-4.5">0</tspan></text>
<rect x="0.3" y="0.3" width="31.3" height="23.2" rx="3" fill="#fff" stroke="#c8c8c8" stroke-width="1.2"/>
<text x="2.3" y="16.7" font-size="17" fill="#333" textLength="24.5" lengthAdjust="spacingAndGlyphs">C-+</text>
<rect x="255.1" y="0.3" width="32.3" height="23.2" rx="3" fill="#fff" stroke="#c8c8c8" stroke-width="1.2"/>
<text x="257.1" y="16.7" font-size="17" fill="#333" textLength="25.499999999999996" lengthAdjust="spacingAndGlyphs">C++</text>
<rect x="0.3" y="242.4" width="28.8" height="23.2" rx="3" fill="#fff" stroke="#c8c8c8" stroke-width="1.2"/>
<text x="2.3" y="258.8" font-size="17" fill="#333" textLength="22.0" lengthAdjust="spacingAndGlyphs">C--</text>
</g>
<text x="870.5" y="1395.7" font-size="31.7" text-anchor="middle">RFX 60 min</text>
<text x="949.5" y="1833.6" font-size="31.7" text-anchor="middle">23.15</text>
</svg>
</body></html>
